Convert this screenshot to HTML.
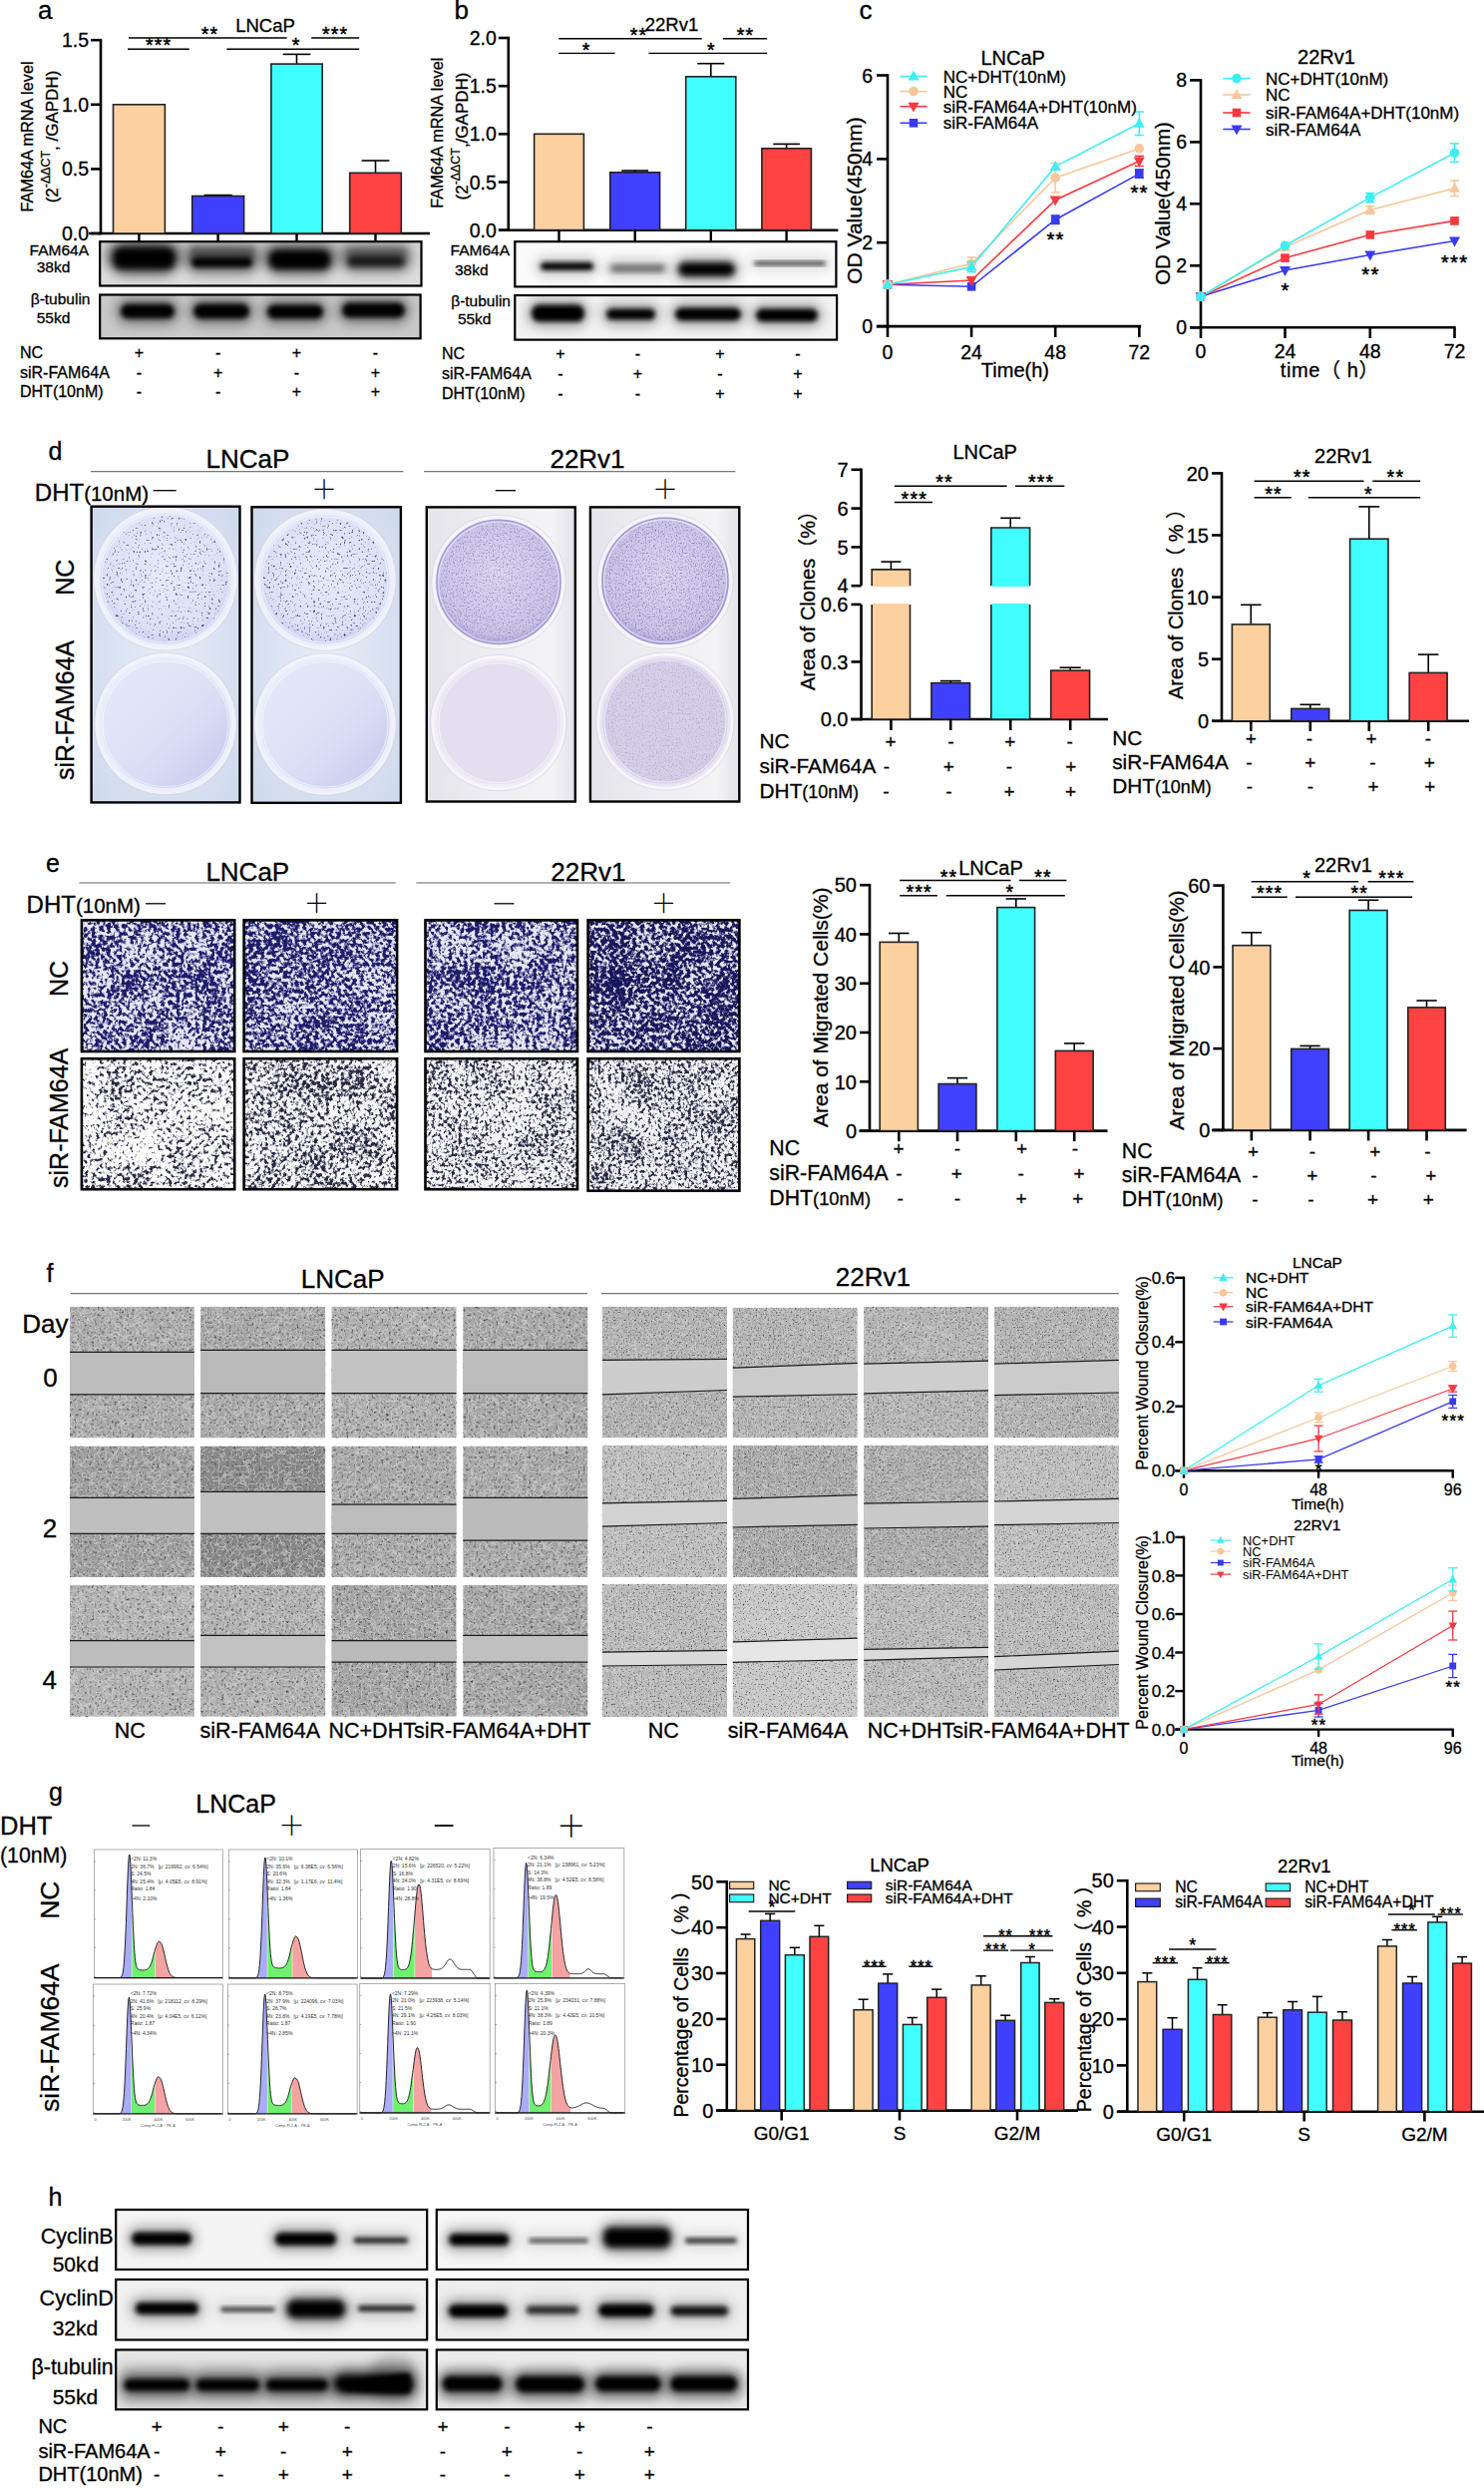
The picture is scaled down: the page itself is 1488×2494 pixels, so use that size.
<!DOCTYPE html>
<html><head><meta charset="utf-8"><title>Figure</title>
<style>
html,body{margin:0;padding:0;background:#fff;}
svg{display:block;}

</style></head><body>
<svg width="1488" height="2494" viewBox="0 0 1488 2494" font-family="'Liberation Sans', Arial, sans-serif">
<defs>
<filter id="bl1" x="-20%" y="-50%" width="140%" height="200%"><feGaussianBlur stdDeviation="1"/></filter>
<filter id="bl2" x="-20%" y="-50%" width="140%" height="200%"><feGaussianBlur stdDeviation="2"/></filter>
<filter id="bl2.5" x="-20%" y="-50%" width="140%" height="200%"><feGaussianBlur stdDeviation="2.5"/></filter>
<filter id="bl3" x="-20%" y="-60%" width="140%" height="220%"><feGaussianBlur stdDeviation="3"/></filter>
<filter id="bl4" x="-30%" y="-80%" width="160%" height="260%"><feGaussianBlur stdDeviation="4"/></filter>
<filter id="bl6" x="-30%" y="-100%" width="160%" height="300%"><feGaussianBlur stdDeviation="6"/></filter>
<clipPath id="bc36"><rect x="100.2" y="242.2" width="322.3" height="44.3"/></clipPath>
<clipPath id="bc51"><rect x="100.2" y="295.5" width="321.4" height="43.8"/></clipPath>
<clipPath id="bc120"><rect x="516.3" y="242.2" width="322.1" height="45.2"/></clipPath>
<clipPath id="bc132"><rect x="516.3" y="296" width="322.8" height="44.6"/></clipPath>
<radialGradient id="lbg" cx="0.5" cy="0.5" r="0.75"><stop offset="0" stop-color="#e6edf8"/><stop offset="1" stop-color="#cdd8ec"/></radialGradient>
<radialGradient id="ltop" cx="0.5" cy="0.45" r="0.55"><stop offset="0" stop-color="#e6eafa"/><stop offset="0.8" stop-color="#dce1f6"/><stop offset="1" stop-color="#ccd1ef"/></radialGradient>
<linearGradient id="lbot" x1="0" y1="0" x2="1" y2="1"><stop offset="0" stop-color="#e6ebfa"/><stop offset="0.55" stop-color="#dce0f6"/><stop offset="1" stop-color="#c4c7ec"/></linearGradient>
<radialGradient id="gtop" cx="0.5" cy="0.45" r="0.55"><stop offset="0" stop-color="#dcd6ef"/><stop offset="0.85" stop-color="#cdc5e8"/><stop offset="1" stop-color="#b2a7dc"/></radialGradient>
<linearGradient id="gbg" x1="0" y1="0" x2="1" y2="0"><stop offset="0" stop-color="#e4e4ea"/><stop offset="0.5" stop-color="#efeff3"/><stop offset="0.85" stop-color="#f4f4f6"/><stop offset="1" stop-color="#e2e2e8"/></linearGradient>
<clipPath id="cr1"><rect x="91.6" y="507.7" width="148.9" height="296.7"/></clipPath>
<filter id="nz2" x="0" y="0" width="1" height="1" color-interpolation-filters="sRGB"><feTurbulence type="fractalNoise" baseFrequency="0.42" numOctaves="2" seed="3"/><feColorMatrix type="matrix" values="0 0 0 0 0.33 0 0 0 0 0.34 0 0 0 0 0.58 7 0 0 0 -4.445"/><feGaussianBlur stdDeviation="0.3"/></filter>
<clipPath id="cc3"><circle cx="166" cy="580" r="63"/></clipPath>
<clipPath id="cr4"><rect x="252.5" y="508.3" width="149.4" height="296.5"/></clipPath>
<filter id="nz5" x="0" y="0" width="1" height="1" color-interpolation-filters="sRGB"><feTurbulence type="fractalNoise" baseFrequency="0.42" numOctaves="2" seed="8"/><feColorMatrix type="matrix" values="0 0 0 0 0.33 0 0 0 0 0.34 0 0 0 0 0.58 7 0 0 0 -4.375"/><feGaussianBlur stdDeviation="0.3"/></filter>
<clipPath id="cc6"><circle cx="326" cy="581" r="62"/></clipPath>
<clipPath id="cr7"><rect x="427.8" y="508.4" width="149" height="295.1"/></clipPath>
<filter id="nz8" x="0" y="0" width="1" height="1" color-interpolation-filters="sRGB"><feTurbulence type="fractalNoise" baseFrequency="0.7" numOctaves="2" seed="5"/><feColorMatrix type="matrix" values="0 0 0 0 0.46 0 0 0 0 0.4 0 0 0 0 0.66 2.3 0 0 0 -1.196"/><feGaussianBlur stdDeviation="0.3"/></filter>
<clipPath id="cc9"><circle cx="500" cy="583.4" r="59.4"/></clipPath>
<clipPath id="cr10"><rect x="591.9" y="508.4" width="149.4" height="295.1"/></clipPath>
<filter id="nz11" x="0" y="0" width="1" height="1" color-interpolation-filters="sRGB"><feTurbulence type="fractalNoise" baseFrequency="0.7" numOctaves="2" seed="11"/><feColorMatrix type="matrix" values="0 0 0 0 0.46 0 0 0 0 0.4 0 0 0 0 0.66 2.3 0 0 0 -1.15"/><feGaussianBlur stdDeviation="0.3"/></filter>
<clipPath id="cc12"><circle cx="667" cy="582.3" r="60.4"/></clipPath>
<filter id="nz13" x="0" y="0" width="1" height="1" color-interpolation-filters="sRGB"><feTurbulence type="fractalNoise" baseFrequency="0.7" numOctaves="2" seed="17"/><feColorMatrix type="matrix" values="0 0 0 0 0.55 0 0 0 0 0.5 0 0 0 0 0.72 1.3 0 0 0 -0.65"/><feGaussianBlur stdDeviation="0.4"/></filter>
<clipPath id="cc14"><circle cx="667" cy="723" r="60"/></clipPath>
<clipPath id="cr15"><rect x="81.9" y="922.4" width="153.3" height="131.6"/></clipPath>
<filter id="tw16" x="0" y="0" width="1" height="1" color-interpolation-filters="sRGB"><feTurbulence type="fractalNoise" baseFrequency="0.26" numOctaves="3" seed="3" result="a0"/><feColorMatrix in="a0" type="matrix" values="1 0 0 0 0 1 0 0 0 0 1 0 0 0 0 0 0 0 0 1" result="a"/><feTurbulence type="fractalNoise" baseFrequency="0.03" numOctaves="2" seed="53" result="b0"/><feColorMatrix in="b0" type="matrix" values="1 0 0 0 0 1 0 0 0 0 1 0 0 0 0 0 0 0 0 1" result="b"/><feComposite in="a" in2="b" operator="arithmetic" k1="0" k2="1" k3="0.3" k4="-0.15" result="s"/><feColorMatrix in="s" type="matrix" values="0 0 0 0 0.11 0 0 0 0 0.11 0 0 0 0 0.42 5.5 0 0 0 -2.282"/></filter>
<clipPath id="cr17"><rect x="244.6" y="922.4" width="153.5" height="131.6"/></clipPath>
<filter id="tw18" x="0" y="0" width="1" height="1" color-interpolation-filters="sRGB"><feTurbulence type="fractalNoise" baseFrequency="0.26" numOctaves="3" seed="7" result="a0"/><feColorMatrix in="a0" type="matrix" values="1 0 0 0 0 1 0 0 0 0 1 0 0 0 0 0 0 0 0 1" result="a"/><feTurbulence type="fractalNoise" baseFrequency="0.03" numOctaves="2" seed="57" result="b0"/><feColorMatrix in="b0" type="matrix" values="1 0 0 0 0 1 0 0 0 0 1 0 0 0 0 0 0 0 0 1" result="b"/><feComposite in="a" in2="b" operator="arithmetic" k1="0" k2="1" k3="0.3" k4="-0.15" result="s"/><feColorMatrix in="s" type="matrix" values="0 0 0 0 0.11 0 0 0 0 0.11 0 0 0 0 0.42 5.5 0 0 0 -2.2"/></filter>
<clipPath id="cr19"><rect x="426.5" y="922.4" width="152.5" height="131.6"/></clipPath>
<filter id="tw20" x="0" y="0" width="1" height="1" color-interpolation-filters="sRGB"><feTurbulence type="fractalNoise" baseFrequency="0.26" numOctaves="3" seed="13" result="a0"/><feColorMatrix in="a0" type="matrix" values="1 0 0 0 0 1 0 0 0 0 1 0 0 0 0 0 0 0 0 1" result="a"/><feTurbulence type="fractalNoise" baseFrequency="0.03" numOctaves="2" seed="63" result="b0"/><feColorMatrix in="b0" type="matrix" values="1 0 0 0 0 1 0 0 0 0 1 0 0 0 0 0 0 0 0 1" result="b"/><feComposite in="a" in2="b" operator="arithmetic" k1="0" k2="1" k3="0.3" k4="-0.15" result="s"/><feColorMatrix in="s" type="matrix" values="0 0 0 0 0.11 0 0 0 0 0.11 0 0 0 0 0.42 5.5 0 0 0 -2.255"/></filter>
<clipPath id="cr21"><rect x="589.6" y="922.4" width="151.8" height="131.6"/></clipPath>
<filter id="tw22" x="0" y="0" width="1" height="1" color-interpolation-filters="sRGB"><feTurbulence type="fractalNoise" baseFrequency="0.26" numOctaves="3" seed="21" result="a0"/><feColorMatrix in="a0" type="matrix" values="1 0 0 0 0 1 0 0 0 0 1 0 0 0 0 0 0 0 0 1" result="a"/><feTurbulence type="fractalNoise" baseFrequency="0.03" numOctaves="2" seed="71" result="b0"/><feColorMatrix in="b0" type="matrix" values="1 0 0 0 0 1 0 0 0 0 1 0 0 0 0 0 0 0 0 1" result="b"/><feComposite in="a" in2="b" operator="arithmetic" k1="0" k2="1" k3="0.3" k4="-0.15" result="s"/><feColorMatrix in="s" type="matrix" values="0 0 0 0 0.09 0 0 0 0 0.09 0 0 0 0 0.36 5.5 0 0 0 -2.035"/></filter>
<clipPath id="cr23"><rect x="81.9" y="1061.2" width="153.3" height="131"/></clipPath>
<filter id="tw24" x="0" y="0" width="1" height="1" color-interpolation-filters="sRGB"><feTurbulence type="fractalNoise" baseFrequency="0.26" numOctaves="3" seed="5" result="a0"/><feColorMatrix in="a0" type="matrix" values="1 0 0 0 0 1 0 0 0 0 1 0 0 0 0 0 0 0 0 1" result="a"/><feTurbulence type="fractalNoise" baseFrequency="0.03" numOctaves="2" seed="55" result="b0"/><feColorMatrix in="b0" type="matrix" values="1 0 0 0 0 1 0 0 0 0 1 0 0 0 0 0 0 0 0 1" result="b"/><feComposite in="a" in2="b" operator="arithmetic" k1="0" k2="1" k3="0.3" k4="-0.15" result="s"/><feColorMatrix in="s" type="matrix" values="0 0 0 0 0.16 0 0 0 0 0.16 0 0 0 0 0.27 5.5 0 0 0 -2.86"/></filter>
<clipPath id="cr25"><rect x="244.6" y="1061.2" width="153.5" height="131"/></clipPath>
<filter id="tw26" x="0" y="0" width="1" height="1" color-interpolation-filters="sRGB"><feTurbulence type="fractalNoise" baseFrequency="0.26" numOctaves="3" seed="9" result="a0"/><feColorMatrix in="a0" type="matrix" values="1 0 0 0 0 1 0 0 0 0 1 0 0 0 0 0 0 0 0 1" result="a"/><feTurbulence type="fractalNoise" baseFrequency="0.03" numOctaves="2" seed="59" result="b0"/><feColorMatrix in="b0" type="matrix" values="1 0 0 0 0 1 0 0 0 0 1 0 0 0 0 0 0 0 0 1" result="b"/><feComposite in="a" in2="b" operator="arithmetic" k1="0" k2="1" k3="0.3" k4="-0.15" result="s"/><feColorMatrix in="s" type="matrix" values="0 0 0 0 0.16 0 0 0 0 0.16 0 0 0 0 0.27 5.5 0 0 0 -2.558"/></filter>
<clipPath id="cr27"><rect x="426.5" y="1061.2" width="152.5" height="131"/></clipPath>
<filter id="tw28" x="0" y="0" width="1" height="1" color-interpolation-filters="sRGB"><feTurbulence type="fractalNoise" baseFrequency="0.3" numOctaves="3" seed="17" result="a0"/><feColorMatrix in="a0" type="matrix" values="1 0 0 0 0 1 0 0 0 0 1 0 0 0 0 0 0 0 0 1" result="a"/><feTurbulence type="fractalNoise" baseFrequency="0.03" numOctaves="2" seed="67" result="b0"/><feColorMatrix in="b0" type="matrix" values="1 0 0 0 0 1 0 0 0 0 1 0 0 0 0 0 0 0 0 1" result="b"/><feComposite in="a" in2="b" operator="arithmetic" k1="0" k2="1" k3="0.3" k4="-0.15" result="s"/><feColorMatrix in="s" type="matrix" values="0 0 0 0 0.16 0 0 0 0 0.16 0 0 0 0 0.27 5.5 0 0 0 -2.667"/></filter>
<clipPath id="cr29"><rect x="589.6" y="1061.2" width="151.8" height="132.5"/></clipPath>
<filter id="tw30" x="0" y="0" width="1" height="1" color-interpolation-filters="sRGB"><feTurbulence type="fractalNoise" baseFrequency="0.3" numOctaves="3" seed="29" result="a0"/><feColorMatrix in="a0" type="matrix" values="1 0 0 0 0 1 0 0 0 0 1 0 0 0 0 0 0 0 0 1" result="a"/><feTurbulence type="fractalNoise" baseFrequency="0.03" numOctaves="2" seed="79" result="b0"/><feColorMatrix in="b0" type="matrix" values="1 0 0 0 0 1 0 0 0 0 1 0 0 0 0 0 0 0 0 1" result="b"/><feComposite in="a" in2="b" operator="arithmetic" k1="0" k2="1" k3="0.3" k4="-0.15" result="s"/><feColorMatrix in="s" type="matrix" values="0 0 0 0 0.16 0 0 0 0 0.16 0 0 0 0 0.27 5.5 0 0 0 -2.612"/></filter>
<clipPath id="cr31"><rect x="70" y="1309.7" width="124.9" height="131.8"/></clipPath>
<filter id="gz32" x="0" y="0" width="1" height="1" color-interpolation-filters="sRGB"><feTurbulence type="fractalNoise" baseFrequency="0.4" numOctaves="2" seed="101" result="t"/><feColorMatrix in="t" type="matrix" values="0 0 0 0 0.3 0 0 0 0 0.3 0 0 0 0 0.3 3.5 0 0 0 -1.96" result="d"/><feTurbulence type="turbulence" baseFrequency="0.168" numOctaves="1" seed="108" result="u"/><feColorMatrix in="u" type="matrix" values="0 0 0 0 0.87 0 0 0 0 0.87 0 0 0 0 0.87 -4.5 0 0 0 0.54" result="l"/><feMerge><feMergeNode in="d"/><feMergeNode in="l"/></feMerge></filter>
<clipPath id="cr33"><rect x="201" y="1309.7" width="125.3" height="131.8"/></clipPath>
<filter id="gz34" x="0" y="0" width="1" height="1" color-interpolation-filters="sRGB"><feTurbulence type="fractalNoise" baseFrequency="0.4" numOctaves="2" seed="102" result="t"/><feColorMatrix in="t" type="matrix" values="0 0 0 0 0.3 0 0 0 0 0.3 0 0 0 0 0.3 3.5 0 0 0 -1.96" result="d"/><feTurbulence type="turbulence" baseFrequency="0.168" numOctaves="1" seed="109" result="u"/><feColorMatrix in="u" type="matrix" values="0 0 0 0 0.87 0 0 0 0 0.87 0 0 0 0 0.87 -4.5 0 0 0 0.54" result="l"/><feMerge><feMergeNode in="d"/><feMergeNode in="l"/></feMerge></filter>
<clipPath id="cr35"><rect x="332.4" y="1309.7" width="125.3" height="131.8"/></clipPath>
<filter id="gz36" x="0" y="0" width="1" height="1" color-interpolation-filters="sRGB"><feTurbulence type="fractalNoise" baseFrequency="0.4" numOctaves="2" seed="103" result="t"/><feColorMatrix in="t" type="matrix" values="0 0 0 0 0.3 0 0 0 0 0.3 0 0 0 0 0.3 3.5 0 0 0 -1.96" result="d"/><feTurbulence type="turbulence" baseFrequency="0.168" numOctaves="1" seed="110" result="u"/><feColorMatrix in="u" type="matrix" values="0 0 0 0 0.87 0 0 0 0 0.87 0 0 0 0 0.87 -4.5 0 0 0 0.54" result="l"/><feMerge><feMergeNode in="d"/><feMergeNode in="l"/></feMerge></filter>
<clipPath id="cr37"><rect x="464.2" y="1309.7" width="125.3" height="131.8"/></clipPath>
<filter id="gz38" x="0" y="0" width="1" height="1" color-interpolation-filters="sRGB"><feTurbulence type="fractalNoise" baseFrequency="0.4" numOctaves="2" seed="104" result="t"/><feColorMatrix in="t" type="matrix" values="0 0 0 0 0.3 0 0 0 0 0.3 0 0 0 0 0.3 3.5 0 0 0 -1.96" result="d"/><feTurbulence type="turbulence" baseFrequency="0.168" numOctaves="1" seed="111" result="u"/><feColorMatrix in="u" type="matrix" values="0 0 0 0 0.87 0 0 0 0 0.87 0 0 0 0 0.87 -4.5 0 0 0 0.54" result="l"/><feMerge><feMergeNode in="d"/><feMergeNode in="l"/></feMerge></filter>
<clipPath id="cr39"><rect x="70" y="1449.6" width="124.9" height="131.4"/></clipPath>
<filter id="gz40" x="0" y="0" width="1" height="1" color-interpolation-filters="sRGB"><feTurbulence type="fractalNoise" baseFrequency="0.4" numOctaves="2" seed="105" result="t"/><feColorMatrix in="t" type="matrix" values="0 0 0 0 0.3 0 0 0 0 0.3 0 0 0 0 0.3 3.5 0 0 0 -1.96" result="d"/><feTurbulence type="turbulence" baseFrequency="0.168" numOctaves="1" seed="112" result="u"/><feColorMatrix in="u" type="matrix" values="0 0 0 0 0.87 0 0 0 0 0.87 0 0 0 0 0.87 -4.5 0 0 0 0.54" result="l"/><feMerge><feMergeNode in="d"/><feMergeNode in="l"/></feMerge></filter>
<clipPath id="cr41"><rect x="201" y="1449.6" width="125.3" height="131.4"/></clipPath>
<filter id="gz42" x="0" y="0" width="1" height="1" color-interpolation-filters="sRGB"><feTurbulence type="fractalNoise" baseFrequency="0.4" numOctaves="2" seed="106" result="t"/><feColorMatrix in="t" type="matrix" values="0 0 0 0 0.3 0 0 0 0 0.3 0 0 0 0 0.3 3.5 0 0 0 -1.96" result="d"/><feTurbulence type="turbulence" baseFrequency="0.168" numOctaves="1" seed="113" result="u"/><feColorMatrix in="u" type="matrix" values="0 0 0 0 0.87 0 0 0 0 0.87 0 0 0 0 0.87 -4.5 0 0 0 0.54" result="l"/><feMerge><feMergeNode in="d"/><feMergeNode in="l"/></feMerge></filter>
<clipPath id="cr43"><rect x="332.4" y="1449.6" width="125.3" height="131.4"/></clipPath>
<filter id="gz44" x="0" y="0" width="1" height="1" color-interpolation-filters="sRGB"><feTurbulence type="fractalNoise" baseFrequency="0.4" numOctaves="2" seed="107" result="t"/><feColorMatrix in="t" type="matrix" values="0 0 0 0 0.3 0 0 0 0 0.3 0 0 0 0 0.3 3.5 0 0 0 -1.96" result="d"/><feTurbulence type="turbulence" baseFrequency="0.168" numOctaves="1" seed="114" result="u"/><feColorMatrix in="u" type="matrix" values="0 0 0 0 0.87 0 0 0 0 0.87 0 0 0 0 0.87 -4.5 0 0 0 0.54" result="l"/><feMerge><feMergeNode in="d"/><feMergeNode in="l"/></feMerge></filter>
<clipPath id="cr45"><rect x="464.2" y="1449.6" width="125.3" height="131.4"/></clipPath>
<filter id="gz46" x="0" y="0" width="1" height="1" color-interpolation-filters="sRGB"><feTurbulence type="fractalNoise" baseFrequency="0.4" numOctaves="2" seed="108" result="t"/><feColorMatrix in="t" type="matrix" values="0 0 0 0 0.3 0 0 0 0 0.3 0 0 0 0 0.3 3.5 0 0 0 -1.96" result="d"/><feTurbulence type="turbulence" baseFrequency="0.168" numOctaves="1" seed="115" result="u"/><feColorMatrix in="u" type="matrix" values="0 0 0 0 0.87 0 0 0 0 0.87 0 0 0 0 0.87 -4.5 0 0 0 0.54" result="l"/><feMerge><feMergeNode in="d"/><feMergeNode in="l"/></feMerge></filter>
<clipPath id="cr47"><rect x="70" y="1589" width="124.9" height="131.7"/></clipPath>
<filter id="gz48" x="0" y="0" width="1" height="1" color-interpolation-filters="sRGB"><feTurbulence type="fractalNoise" baseFrequency="0.4" numOctaves="2" seed="109" result="t"/><feColorMatrix in="t" type="matrix" values="0 0 0 0 0.3 0 0 0 0 0.3 0 0 0 0 0.3 3.5 0 0 0 -1.96" result="d"/><feTurbulence type="turbulence" baseFrequency="0.168" numOctaves="1" seed="116" result="u"/><feColorMatrix in="u" type="matrix" values="0 0 0 0 0.87 0 0 0 0 0.87 0 0 0 0 0.87 -4.5 0 0 0 0.54" result="l"/><feMerge><feMergeNode in="d"/><feMergeNode in="l"/></feMerge></filter>
<clipPath id="cr49"><rect x="201" y="1589" width="125.3" height="131.7"/></clipPath>
<filter id="gz50" x="0" y="0" width="1" height="1" color-interpolation-filters="sRGB"><feTurbulence type="fractalNoise" baseFrequency="0.4" numOctaves="2" seed="110" result="t"/><feColorMatrix in="t" type="matrix" values="0 0 0 0 0.3 0 0 0 0 0.3 0 0 0 0 0.3 3.5 0 0 0 -1.96" result="d"/><feTurbulence type="turbulence" baseFrequency="0.168" numOctaves="1" seed="117" result="u"/><feColorMatrix in="u" type="matrix" values="0 0 0 0 0.87 0 0 0 0 0.87 0 0 0 0 0.87 -4.5 0 0 0 0.54" result="l"/><feMerge><feMergeNode in="d"/><feMergeNode in="l"/></feMerge></filter>
<clipPath id="cr51"><rect x="332.4" y="1589" width="125.3" height="131.7"/></clipPath>
<filter id="gz52" x="0" y="0" width="1" height="1" color-interpolation-filters="sRGB"><feTurbulence type="fractalNoise" baseFrequency="0.4" numOctaves="2" seed="111" result="t"/><feColorMatrix in="t" type="matrix" values="0 0 0 0 0.3 0 0 0 0 0.3 0 0 0 0 0.3 3.5 0 0 0 -1.96" result="d"/><feTurbulence type="turbulence" baseFrequency="0.168" numOctaves="1" seed="118" result="u"/><feColorMatrix in="u" type="matrix" values="0 0 0 0 0.87 0 0 0 0 0.87 0 0 0 0 0.87 -4.5 0 0 0 0.54" result="l"/><feMerge><feMergeNode in="d"/><feMergeNode in="l"/></feMerge></filter>
<clipPath id="cr53"><rect x="464.2" y="1589" width="125.3" height="131.7"/></clipPath>
<filter id="gz54" x="0" y="0" width="1" height="1" color-interpolation-filters="sRGB"><feTurbulence type="fractalNoise" baseFrequency="0.4" numOctaves="2" seed="112" result="t"/><feColorMatrix in="t" type="matrix" values="0 0 0 0 0.3 0 0 0 0 0.3 0 0 0 0 0.3 3.5 0 0 0 -1.96" result="d"/><feTurbulence type="turbulence" baseFrequency="0.168" numOctaves="1" seed="119" result="u"/><feColorMatrix in="u" type="matrix" values="0 0 0 0 0.87 0 0 0 0 0.87 0 0 0 0 0.87 -4.5 0 0 0 0.54" result="l"/><feMerge><feMergeNode in="d"/><feMergeNode in="l"/></feMerge></filter>
<clipPath id="cr55"><rect x="603.7" y="1309.7" width="125.3" height="131.6"/></clipPath>
<filter id="gz56" x="0" y="0" width="1" height="1" color-interpolation-filters="sRGB"><feTurbulence type="fractalNoise" baseFrequency="0.6" numOctaves="2" seed="113" result="t"/><feColorMatrix in="t" type="matrix" values="0 0 0 0 0.3 0 0 0 0 0.3 0 0 0 0 0.3 3.5 0 0 0 -1.96" result="d"/><feTurbulence type="turbulence" baseFrequency="0.252" numOctaves="1" seed="120" result="u"/><feColorMatrix in="u" type="matrix" values="0 0 0 0 0.87 0 0 0 0 0.87 0 0 0 0 0.87 -4.5 0 0 0 0.54" result="l"/><feMerge><feMergeNode in="d"/><feMergeNode in="l"/></feMerge></filter>
<clipPath id="cr57"><rect x="734.6" y="1310.8" width="125.2" height="130.5"/></clipPath>
<filter id="gz58" x="0" y="0" width="1" height="1" color-interpolation-filters="sRGB"><feTurbulence type="fractalNoise" baseFrequency="0.6" numOctaves="2" seed="114" result="t"/><feColorMatrix in="t" type="matrix" values="0 0 0 0 0.3 0 0 0 0 0.3 0 0 0 0 0.3 3.5 0 0 0 -1.96" result="d"/><feTurbulence type="turbulence" baseFrequency="0.252" numOctaves="1" seed="121" result="u"/><feColorMatrix in="u" type="matrix" values="0 0 0 0 0.87 0 0 0 0 0.87 0 0 0 0 0.87 -4.5 0 0 0 0.54" result="l"/><feMerge><feMergeNode in="d"/><feMergeNode in="l"/></feMerge></filter>
<clipPath id="cr59"><rect x="866.1" y="1309.7" width="124.9" height="131.6"/></clipPath>
<filter id="gz60" x="0" y="0" width="1" height="1" color-interpolation-filters="sRGB"><feTurbulence type="fractalNoise" baseFrequency="0.6" numOctaves="2" seed="115" result="t"/><feColorMatrix in="t" type="matrix" values="0 0 0 0 0.3 0 0 0 0 0.3 0 0 0 0 0.3 3.5 0 0 0 -1.96" result="d"/><feTurbulence type="turbulence" baseFrequency="0.252" numOctaves="1" seed="122" result="u"/><feColorMatrix in="u" type="matrix" values="0 0 0 0 0.87 0 0 0 0 0.87 0 0 0 0 0.87 -4.5 0 0 0 0.54" result="l"/><feMerge><feMergeNode in="d"/><feMergeNode in="l"/></feMerge></filter>
<clipPath id="cr61"><rect x="997" y="1309.7" width="124.9" height="131.6"/></clipPath>
<filter id="gz62" x="0" y="0" width="1" height="1" color-interpolation-filters="sRGB"><feTurbulence type="fractalNoise" baseFrequency="0.6" numOctaves="2" seed="116" result="t"/><feColorMatrix in="t" type="matrix" values="0 0 0 0 0.3 0 0 0 0 0.3 0 0 0 0 0.3 3.5 0 0 0 -1.96" result="d"/><feTurbulence type="turbulence" baseFrequency="0.252" numOctaves="1" seed="123" result="u"/><feColorMatrix in="u" type="matrix" values="0 0 0 0 0.87 0 0 0 0 0.87 0 0 0 0 0.87 -4.5 0 0 0 0.54" result="l"/><feMerge><feMergeNode in="d"/><feMergeNode in="l"/></feMerge></filter>
<clipPath id="cr63"><rect x="603.7" y="1448.7" width="125.3" height="132.3"/></clipPath>
<filter id="gz64" x="0" y="0" width="1" height="1" color-interpolation-filters="sRGB"><feTurbulence type="fractalNoise" baseFrequency="0.6" numOctaves="2" seed="117" result="t"/><feColorMatrix in="t" type="matrix" values="0 0 0 0 0.3 0 0 0 0 0.3 0 0 0 0 0.3 3.5 0 0 0 -1.96" result="d"/><feTurbulence type="turbulence" baseFrequency="0.252" numOctaves="1" seed="124" result="u"/><feColorMatrix in="u" type="matrix" values="0 0 0 0 0.87 0 0 0 0 0.87 0 0 0 0 0.87 -4.5 0 0 0 0.54" result="l"/><feMerge><feMergeNode in="d"/><feMergeNode in="l"/></feMerge></filter>
<clipPath id="cr65"><rect x="734.6" y="1448.7" width="125.2" height="132.3"/></clipPath>
<filter id="gz66" x="0" y="0" width="1" height="1" color-interpolation-filters="sRGB"><feTurbulence type="fractalNoise" baseFrequency="0.6" numOctaves="2" seed="118" result="t"/><feColorMatrix in="t" type="matrix" values="0 0 0 0 0.3 0 0 0 0 0.3 0 0 0 0 0.3 3.5 0 0 0 -1.96" result="d"/><feTurbulence type="turbulence" baseFrequency="0.252" numOctaves="1" seed="125" result="u"/><feColorMatrix in="u" type="matrix" values="0 0 0 0 0.87 0 0 0 0 0.87 0 0 0 0 0.87 -4.5 0 0 0 0.54" result="l"/><feMerge><feMergeNode in="d"/><feMergeNode in="l"/></feMerge></filter>
<clipPath id="cr67"><rect x="866.1" y="1448.7" width="124.9" height="132.3"/></clipPath>
<filter id="gz68" x="0" y="0" width="1" height="1" color-interpolation-filters="sRGB"><feTurbulence type="fractalNoise" baseFrequency="0.6" numOctaves="2" seed="119" result="t"/><feColorMatrix in="t" type="matrix" values="0 0 0 0 0.3 0 0 0 0 0.3 0 0 0 0 0.3 3.5 0 0 0 -1.96" result="d"/><feTurbulence type="turbulence" baseFrequency="0.252" numOctaves="1" seed="126" result="u"/><feColorMatrix in="u" type="matrix" values="0 0 0 0 0.87 0 0 0 0 0.87 0 0 0 0 0.87 -4.5 0 0 0 0.54" result="l"/><feMerge><feMergeNode in="d"/><feMergeNode in="l"/></feMerge></filter>
<clipPath id="cr69"><rect x="997" y="1448.7" width="124.9" height="132.3"/></clipPath>
<filter id="gz70" x="0" y="0" width="1" height="1" color-interpolation-filters="sRGB"><feTurbulence type="fractalNoise" baseFrequency="0.6" numOctaves="2" seed="120" result="t"/><feColorMatrix in="t" type="matrix" values="0 0 0 0 0.3 0 0 0 0 0.3 0 0 0 0 0.3 3.5 0 0 0 -1.96" result="d"/><feTurbulence type="turbulence" baseFrequency="0.252" numOctaves="1" seed="127" result="u"/><feColorMatrix in="u" type="matrix" values="0 0 0 0 0.87 0 0 0 0 0.87 0 0 0 0 0.87 -4.5 0 0 0 0.54" result="l"/><feMerge><feMergeNode in="d"/><feMergeNode in="l"/></feMerge></filter>
<clipPath id="cr71"><rect x="603.7" y="1587.7" width="125.3" height="133.4"/></clipPath>
<filter id="gz72" x="0" y="0" width="1" height="1" color-interpolation-filters="sRGB"><feTurbulence type="fractalNoise" baseFrequency="0.6" numOctaves="2" seed="121" result="t"/><feColorMatrix in="t" type="matrix" values="0 0 0 0 0.3 0 0 0 0 0.3 0 0 0 0 0.3 3.5 0 0 0 -1.96" result="d"/><feTurbulence type="turbulence" baseFrequency="0.252" numOctaves="1" seed="128" result="u"/><feColorMatrix in="u" type="matrix" values="0 0 0 0 0.87 0 0 0 0 0.87 0 0 0 0 0.87 -4.5 0 0 0 0.54" result="l"/><feMerge><feMergeNode in="d"/><feMergeNode in="l"/></feMerge></filter>
<clipPath id="cr73"><rect x="734.6" y="1587.7" width="125.2" height="133.4"/></clipPath>
<filter id="gz74" x="0" y="0" width="1" height="1" color-interpolation-filters="sRGB"><feTurbulence type="fractalNoise" baseFrequency="0.6" numOctaves="2" seed="122" result="t"/><feColorMatrix in="t" type="matrix" values="0 0 0 0 0.3 0 0 0 0 0.3 0 0 0 0 0.3 3.5 0 0 0 -1.96" result="d"/><feTurbulence type="turbulence" baseFrequency="0.252" numOctaves="1" seed="129" result="u"/><feColorMatrix in="u" type="matrix" values="0 0 0 0 0.87 0 0 0 0 0.87 0 0 0 0 0.87 -4.5 0 0 0 0.54" result="l"/><feMerge><feMergeNode in="d"/><feMergeNode in="l"/></feMerge></filter>
<clipPath id="cr75"><rect x="866.1" y="1587.7" width="124.9" height="133.4"/></clipPath>
<filter id="gz76" x="0" y="0" width="1" height="1" color-interpolation-filters="sRGB"><feTurbulence type="fractalNoise" baseFrequency="0.6" numOctaves="2" seed="123" result="t"/><feColorMatrix in="t" type="matrix" values="0 0 0 0 0.3 0 0 0 0 0.3 0 0 0 0 0.3 3.5 0 0 0 -1.96" result="d"/><feTurbulence type="turbulence" baseFrequency="0.252" numOctaves="1" seed="130" result="u"/><feColorMatrix in="u" type="matrix" values="0 0 0 0 0.87 0 0 0 0 0.87 0 0 0 0 0.87 -4.5 0 0 0 0.54" result="l"/><feMerge><feMergeNode in="d"/><feMergeNode in="l"/></feMerge></filter>
<clipPath id="cr77"><rect x="997" y="1587.7" width="124.9" height="133.4"/></clipPath>
<filter id="gz78" x="0" y="0" width="1" height="1" color-interpolation-filters="sRGB"><feTurbulence type="fractalNoise" baseFrequency="0.6" numOctaves="2" seed="124" result="t"/><feColorMatrix in="t" type="matrix" values="0 0 0 0 0.3 0 0 0 0 0.3 0 0 0 0 0.3 3.5 0 0 0 -1.96" result="d"/><feTurbulence type="turbulence" baseFrequency="0.252" numOctaves="1" seed="131" result="u"/><feColorMatrix in="u" type="matrix" values="0 0 0 0 0.87 0 0 0 0 0.87 0 0 0 0 0.87 -4.5 0 0 0 0.54" result="l"/><feMerge><feMergeNode in="d"/><feMergeNode in="l"/></feMerge></filter>
<clipPath id="bc1305"><rect x="116.2" y="2215" width="312" height="60"/></clipPath>
<clipPath id="bc1315"><rect x="437.8" y="2215" width="312.2" height="60"/></clipPath>
<clipPath id="bc1327"><rect x="116.2" y="2285" width="312" height="60.5"/></clipPath>
<clipPath id="bc1339"><rect x="437.8" y="2285" width="312.2" height="60.5"/></clipPath>
<clipPath id="bc1351"><rect x="116.2" y="2355.5" width="312" height="59.8"/></clipPath>
<clipPath id="bc1366"><rect x="437.8" y="2355.5" width="312.2" height="59.8"/></clipPath></defs>
<rect width="1488" height="2494" fill="#fff"/>
<text x="38" y="19" font-size="26" stroke="#000" stroke-width="0.3">a</text>
<text x="266" y="32" font-size="18.5" text-anchor="middle" stroke="#000" stroke-width="0.3">LNCaP</text>
<line x1="101" y1="38.9" x2="101" y2="235.3" stroke="#000" stroke-width="2.6"/>
<line x1="91" y1="40.2" x2="101" y2="40.2" stroke="#000" stroke-width="2.6"/>
<text x="89" y="47.2" font-size="19.5" text-anchor="end" stroke="#000" stroke-width="0.3">1.5</text>
<line x1="91" y1="104.8" x2="101" y2="104.8" stroke="#000" stroke-width="2.6"/>
<text x="89" y="111.8" font-size="19.5" text-anchor="end" stroke="#000" stroke-width="0.3">1.0</text>
<line x1="91" y1="169.4" x2="101" y2="169.4" stroke="#000" stroke-width="2.6"/>
<text x="89" y="176.4" font-size="19.5" text-anchor="end" stroke="#000" stroke-width="0.3">0.5</text>
<line x1="91" y1="234" x2="101" y2="234" stroke="#000" stroke-width="2.6"/>
<text x="89" y="241" font-size="19.5" text-anchor="end" stroke="#000" stroke-width="0.3">0.0</text>
<line x1="89" y1="234" x2="431" y2="234" stroke="#000" stroke-width="2.6"/>
<rect x="113.5" y="104.8" width="51.9" height="129.2" fill="#FDD19F" stroke="#222" stroke-width="1.6"/>
<line x1="139.4" y1="234" x2="139.4" y2="242" stroke="#000" stroke-width="2.4"/>
<line x1="218.6" y1="196.5" x2="218.6" y2="195.6" stroke="#000" stroke-width="1.6"/>
<line x1="204.6" y1="195.6" x2="232.7" y2="195.6" stroke="#000" stroke-width="1.6"/>
<rect x="192.7" y="196.5" width="51.9" height="37.5" fill="#4040FF" stroke="#222" stroke-width="1.6"/>
<line x1="218.6" y1="234" x2="218.6" y2="242" stroke="#000" stroke-width="2.4"/>
<line x1="297.5" y1="64.1" x2="297.5" y2="54.4" stroke="#000" stroke-width="1.6"/>
<line x1="283.7" y1="54.4" x2="311.4" y2="54.4" stroke="#000" stroke-width="1.6"/>
<rect x="271.9" y="64.1" width="51.3" height="169.9" fill="#42FFFF" stroke="#222" stroke-width="1.6"/>
<line x1="297.5" y1="234" x2="297.5" y2="242" stroke="#000" stroke-width="2.4"/>
<line x1="376.5" y1="173.3" x2="376.5" y2="161" stroke="#000" stroke-width="1.6"/>
<line x1="362.6" y1="161" x2="390.4" y2="161" stroke="#000" stroke-width="1.6"/>
<rect x="350.7" y="173.3" width="51.6" height="60.7" fill="#FF4242" stroke="#222" stroke-width="1.6"/>
<line x1="376.5" y1="234" x2="376.5" y2="242" stroke="#000" stroke-width="2.4"/>
<line x1="129" y1="38" x2="287.6" y2="38" stroke="#000" stroke-width="1.4"/>
<text x="210.5" y="41.1" font-size="19.5" text-anchor="middle" letter-spacing="1.2" stroke="#000" stroke-width="0.45">**</text>
<line x1="312.2" y1="38" x2="360.2" y2="38" stroke="#000" stroke-width="1.4"/>
<text x="336.2" y="41.1" font-size="19.5" text-anchor="middle" letter-spacing="1.2" stroke="#000" stroke-width="0.45">***</text>
<line x1="128" y1="49.2" x2="189.7" y2="49.2" stroke="#000" stroke-width="1.4"/>
<text x="159.2" y="52.3" font-size="19.5" text-anchor="middle" letter-spacing="1.2" stroke="#000" stroke-width="0.45">***</text>
<line x1="227.4" y1="49.2" x2="360.2" y2="49.2" stroke="#000" stroke-width="1.4"/>
<text x="297.1" y="52.3" font-size="19.5" text-anchor="middle" letter-spacing="1.2" stroke="#000" stroke-width="0.45">*</text>
<text x="33" y="137" font-size="16.3" text-anchor="middle" transform="rotate(-90 33 137)" stroke="#000" stroke-width="0.3">FAM64A mRNA level</text>
<text x="57.8" y="137" font-size="17" text-anchor="middle" transform="rotate(-90 57.8 137)" stroke="#000" stroke-width="0.3">(2<tspan font-size="12.4" dy="-7.5">-&#916;&#916;CT</tspan><tspan dy="7.5">, /GAPDH)</tspan></text>
<g clip-path="url(#bc36)">
<rect x="100.2" y="242.2" width="322.3" height="44.3" fill="#dcdcdc"/>
<rect x="105" y="243" width="310" height="22" fill="#000" fill-opacity="0.22" filter="url(#bl6)"/>
<rect x="190" y="246" width="66" height="14" fill="#000" fill-opacity="0.35" filter="url(#bl3)"/>
<rect x="346" y="246" width="62" height="12" fill="#000" fill-opacity="0.25" filter="url(#bl3)"/>
<rect x="109" y="242.5" width="71" height="33" rx="16.5" fill="#000" fill-opacity="0.6" filter="url(#bl6)"/>
<rect x="114" y="248.5" width="61" height="21" rx="8" fill="#000" fill-opacity="1" filter="url(#bl3)"/>
<rect x="187" y="252" width="71" height="22" rx="11" fill="#000" fill-opacity="0.5" filter="url(#bl6)"/>
<rect x="192" y="258" width="61" height="10" rx="5" fill="#000" fill-opacity="1" filter="url(#bl2.5)"/>
<rect x="265" y="245" width="71" height="31" rx="15.5" fill="#000" fill-opacity="0.5" filter="url(#bl6)"/>
<rect x="270" y="251" width="61" height="19" rx="8" fill="#000" fill-opacity="1" filter="url(#bl3)"/>
<rect x="343" y="250.5" width="68" height="23" rx="11.5" fill="#000" fill-opacity="0.4" filter="url(#bl6)"/>
<rect x="348" y="256.5" width="58" height="11" rx="5.5" fill="#000" fill-opacity="0.8" filter="url(#bl3)"/>
</g>
<rect x="100.2" y="242.2" width="322.3" height="44.3" fill="none" stroke="#000" stroke-width="2.2"/>
<g clip-path="url(#bc51)">
<rect x="100.2" y="295.5" width="321.4" height="43.8" fill="#c9c9c9"/>
<rect x="116" y="298.8" width="64" height="26.5" rx="13.2" fill="#000" fill-opacity="0.4" filter="url(#bl6)"/>
<rect x="121" y="304.8" width="54" height="14.5" rx="7.2" fill="#000" fill-opacity="1" filter="url(#bl2.5)"/>
<rect x="189" y="298.5" width="66" height="27" rx="13.5" fill="#000" fill-opacity="0.4" filter="url(#bl6)"/>
<rect x="194" y="304.5" width="56" height="15" rx="7.5" fill="#000" fill-opacity="1" filter="url(#bl2.5)"/>
<rect x="263" y="299.5" width="66" height="26" rx="13" fill="#000" fill-opacity="0.4" filter="url(#bl6)"/>
<rect x="268" y="305.5" width="56" height="14" rx="7" fill="#000" fill-opacity="1" filter="url(#bl2.5)"/>
<rect x="338" y="297.5" width="73" height="27" rx="13.5" fill="#000" fill-opacity="0.4" filter="url(#bl6)"/>
<rect x="343" y="303.5" width="63" height="15" rx="7.5" fill="#000" fill-opacity="1" filter="url(#bl2.5)"/>
</g>
<rect x="100.2" y="295.5" width="321.4" height="43.8" fill="none" stroke="#000" stroke-width="2.2"/>
<text x="89" y="256.4" font-size="15.5" text-anchor="end" stroke="#000" stroke-width="0.3">FAM64A</text>
<text x="53.5" y="273.3" font-size="15.5" text-anchor="middle" stroke="#000" stroke-width="0.3">38kd</text>
<text x="90.5" y="305.4" font-size="15.5" text-anchor="end" stroke="#000" stroke-width="0.3">&#946;-tubulin</text>
<text x="53.5" y="324" font-size="15.5" text-anchor="middle" stroke="#000" stroke-width="0.3">55kd</text>
<text x="20" y="358.7" font-size="16" stroke="#000" stroke-width="0.3">NC</text>
<text x="20" y="378.9" font-size="16" stroke="#000" stroke-width="0.3">siR-FAM64A</text>
<text x="20" y="398.2" font-size="16" stroke="#000" stroke-width="0.3">DHT(10nM)</text>
<text x="139.5" y="358.7" font-size="16" text-anchor="middle" stroke="#000" stroke-width="0.3">+</text>
<text x="218.6" y="358.7" font-size="16" text-anchor="middle" stroke="#000" stroke-width="0.3">-</text>
<text x="297.5" y="358.7" font-size="16" text-anchor="middle" stroke="#000" stroke-width="0.3">+</text>
<text x="376.5" y="358.7" font-size="16" text-anchor="middle" stroke="#000" stroke-width="0.3">-</text>
<text x="139.5" y="378.9" font-size="16" text-anchor="middle" stroke="#000" stroke-width="0.3">-</text>
<text x="218.6" y="378.9" font-size="16" text-anchor="middle" stroke="#000" stroke-width="0.3">+</text>
<text x="297.5" y="378.9" font-size="16" text-anchor="middle" stroke="#000" stroke-width="0.3">-</text>
<text x="376.5" y="378.9" font-size="16" text-anchor="middle" stroke="#000" stroke-width="0.3">+</text>
<text x="139.5" y="398.2" font-size="16" text-anchor="middle" stroke="#000" stroke-width="0.3">-</text>
<text x="218.6" y="398.2" font-size="16" text-anchor="middle" stroke="#000" stroke-width="0.3">-</text>
<text x="297.5" y="398.2" font-size="16" text-anchor="middle" stroke="#000" stroke-width="0.3">+</text>
<text x="376.5" y="398.2" font-size="16" text-anchor="middle" stroke="#000" stroke-width="0.3">+</text>
<text x="455.6" y="19.3" font-size="26" stroke="#000" stroke-width="0.3">b</text>
<text x="673.5" y="30.5" font-size="18.5" text-anchor="middle" stroke="#000" stroke-width="0.3">22Rv1</text>
<line x1="509.8" y1="36.7" x2="509.8" y2="232" stroke="#000" stroke-width="2.6"/>
<line x1="499.8" y1="38" x2="509.8" y2="38" stroke="#000" stroke-width="2.6"/>
<text x="497.8" y="45" font-size="19.5" text-anchor="end" stroke="#000" stroke-width="0.3">2.0</text>
<line x1="499.8" y1="86.2" x2="509.8" y2="86.2" stroke="#000" stroke-width="2.6"/>
<text x="497.8" y="93.2" font-size="19.5" text-anchor="end" stroke="#000" stroke-width="0.3">1.5</text>
<line x1="499.8" y1="134.3" x2="509.8" y2="134.3" stroke="#000" stroke-width="2.6"/>
<text x="497.8" y="141.4" font-size="19.5" text-anchor="end" stroke="#000" stroke-width="0.3">1.0</text>
<line x1="499.8" y1="182.5" x2="509.8" y2="182.5" stroke="#000" stroke-width="2.6"/>
<text x="497.8" y="189.5" font-size="19.5" text-anchor="end" stroke="#000" stroke-width="0.3">0.5</text>
<line x1="499.8" y1="230.7" x2="509.8" y2="230.7" stroke="#000" stroke-width="2.6"/>
<text x="497.8" y="237.7" font-size="19.5" text-anchor="end" stroke="#000" stroke-width="0.3">0.0</text>
<line x1="500" y1="230.7" x2="840.4" y2="230.7" stroke="#000" stroke-width="2.6"/>
<rect x="535.6" y="134.3" width="49.8" height="96.3" fill="#FDD19F" stroke="#222" stroke-width="1.6"/>
<line x1="560.5" y1="230.7" x2="560.5" y2="242" stroke="#000" stroke-width="2.4"/>
<line x1="636.7" y1="172.8" x2="636.7" y2="171" stroke="#000" stroke-width="1.6"/>
<line x1="623.3" y1="171" x2="650.1" y2="171" stroke="#000" stroke-width="1.6"/>
<rect x="611.8" y="172.8" width="49.8" height="57.9" fill="#4040FF" stroke="#222" stroke-width="1.6"/>
<line x1="636.7" y1="230.7" x2="636.7" y2="242" stroke="#000" stroke-width="2.4"/>
<line x1="712.8" y1="76.8" x2="712.8" y2="63.7" stroke="#000" stroke-width="1.6"/>
<line x1="699.2" y1="63.7" x2="726.3" y2="63.7" stroke="#000" stroke-width="1.6"/>
<rect x="687.7" y="76.8" width="50.1" height="153.9" fill="#42FFFF" stroke="#222" stroke-width="1.6"/>
<line x1="712.8" y1="230.7" x2="712.8" y2="242" stroke="#000" stroke-width="2.4"/>
<line x1="788.6" y1="148.8" x2="788.6" y2="144.4" stroke="#000" stroke-width="1.6"/>
<line x1="775.3" y1="144.4" x2="802" y2="144.4" stroke="#000" stroke-width="1.6"/>
<rect x="763.9" y="148.8" width="49.5" height="81.9" fill="#FF4242" stroke="#222" stroke-width="1.6"/>
<line x1="788.6" y1="230.7" x2="788.6" y2="242" stroke="#000" stroke-width="2.4"/>
<line x1="560.2" y1="38.8" x2="703.7" y2="38.8" stroke="#000" stroke-width="1.4"/>
<text x="640.6" y="41.9" font-size="19.5" text-anchor="middle" letter-spacing="1.2" stroke="#000" stroke-width="0.45">**</text>
<line x1="724.8" y1="38.8" x2="769.2" y2="38.8" stroke="#000" stroke-width="1.4"/>
<text x="747.6" y="41.9" font-size="19.5" text-anchor="middle" letter-spacing="1.2" stroke="#000" stroke-width="0.45">**</text>
<line x1="560.2" y1="53.4" x2="616.6" y2="53.4" stroke="#000" stroke-width="1.4"/>
<text x="588.1" y="56.5" font-size="19.5" text-anchor="middle" letter-spacing="1.2" stroke="#000" stroke-width="0.45">*</text>
<line x1="650.4" y1="53.4" x2="769.2" y2="53.4" stroke="#000" stroke-width="1.4"/>
<text x="713.5" y="56.5" font-size="19.5" text-anchor="middle" letter-spacing="1.2" stroke="#000" stroke-width="0.45">*</text>
<text x="443.8" y="133.2" font-size="16.3" text-anchor="middle" transform="rotate(-90 443.8 133.2)" stroke="#000" stroke-width="0.3">FAM64A mRNA level</text>
<text x="468.7" y="136.5" font-size="17" text-anchor="middle" transform="rotate(-90 468.7 136.5)" stroke="#000" stroke-width="0.3">(2<tspan font-size="12.4" dy="-7.5">-&#916;&#916;CT</tspan><tspan dy="7.5">,/GAPDH)</tspan></text>
<g clip-path="url(#bc120)">
<rect x="516.3" y="242.2" width="322.1" height="45.2" fill="#fbfbfb"/>
<rect x="537" y="257" width="63" height="20" rx="10" fill="#000" fill-opacity="0.2" filter="url(#bl6)"/>
<rect x="542" y="263" width="53" height="8" rx="4" fill="#000" fill-opacity="1" filter="url(#bl2.5)"/>
<rect x="607" y="260" width="65" height="18" rx="9" fill="#000" fill-opacity="0.2" filter="url(#bl6)"/>
<rect x="612" y="266" width="55" height="6" rx="3" fill="#000" fill-opacity="0.6" filter="url(#bl3)"/>
<rect x="675" y="257" width="67" height="26" rx="13" fill="#000" fill-opacity="0.3" filter="url(#bl6)"/>
<rect x="680" y="263" width="57" height="14" rx="7" fill="#000" fill-opacity="1" filter="url(#bl3)"/>
<rect x="751" y="256" width="82" height="16" rx="8" fill="#000" fill-opacity="0.1" filter="url(#bl6)"/>
<rect x="756" y="262" width="72" height="4" rx="2" fill="#000" fill-opacity="0.8" filter="url(#bl2.5)"/>
</g>
<rect x="516.3" y="242.2" width="322.1" height="45.2" fill="none" stroke="#000" stroke-width="2.2"/>
<g clip-path="url(#bc132)">
<rect x="516.3" y="296" width="322.8" height="44.6" fill="#f3f3f3"/>
<rect x="528" y="299.5" width="63" height="29" rx="14.5" fill="#000" fill-opacity="0.3" filter="url(#bl6)"/>
<rect x="533" y="305.5" width="53" height="17" rx="8" fill="#000" fill-opacity="1" filter="url(#bl2.5)"/>
<rect x="603" y="303.5" width="59" height="23" rx="11.5" fill="#000" fill-opacity="0.3" filter="url(#bl6)"/>
<rect x="608" y="309.5" width="49" height="11" rx="5.5" fill="#000" fill-opacity="1" filter="url(#bl2.5)"/>
<rect x="672" y="302.5" width="76" height="25" rx="12.5" fill="#000" fill-opacity="0.3" filter="url(#bl6)"/>
<rect x="677" y="308.5" width="66" height="13" rx="6.5" fill="#000" fill-opacity="1" filter="url(#bl2.5)"/>
<rect x="753" y="303.5" width="72" height="25" rx="12.5" fill="#000" fill-opacity="0.3" filter="url(#bl6)"/>
<rect x="758" y="309.5" width="62" height="13" rx="6.5" fill="#000" fill-opacity="1" filter="url(#bl2.5)"/>
</g>
<rect x="516.3" y="296" width="322.8" height="44.6" fill="none" stroke="#000" stroke-width="2.2"/>
<text x="511" y="256.4" font-size="15.5" text-anchor="end" stroke="#000" stroke-width="0.3">FAM64A</text>
<text x="472.8" y="275.7" font-size="15.5" text-anchor="middle" stroke="#000" stroke-width="0.3">38kd</text>
<text x="512" y="306.8" font-size="15.5" text-anchor="end" stroke="#000" stroke-width="0.3">&#946;-tubulin</text>
<text x="475.7" y="325.2" font-size="15.5" text-anchor="middle" stroke="#000" stroke-width="0.3">55kd</text>
<text x="443" y="360.2" font-size="16" stroke="#000" stroke-width="0.3">NC</text>
<text x="443" y="380.4" font-size="16" stroke="#000" stroke-width="0.3">siR-FAM64A</text>
<text x="443" y="400.2" font-size="16" stroke="#000" stroke-width="0.3">DHT(10nM)</text>
<text x="562" y="360.2" font-size="16" text-anchor="middle" stroke="#000" stroke-width="0.3">+</text>
<text x="639.4" y="360.2" font-size="16" text-anchor="middle" stroke="#000" stroke-width="0.3">-</text>
<text x="722" y="360.2" font-size="16" text-anchor="middle" stroke="#000" stroke-width="0.3">+</text>
<text x="800" y="360.2" font-size="16" text-anchor="middle" stroke="#000" stroke-width="0.3">-</text>
<text x="562" y="380.4" font-size="16" text-anchor="middle" stroke="#000" stroke-width="0.3">-</text>
<text x="639.4" y="380.4" font-size="16" text-anchor="middle" stroke="#000" stroke-width="0.3">+</text>
<text x="722" y="380.4" font-size="16" text-anchor="middle" stroke="#000" stroke-width="0.3">-</text>
<text x="800" y="380.4" font-size="16" text-anchor="middle" stroke="#000" stroke-width="0.3">+</text>
<text x="562" y="400.2" font-size="16" text-anchor="middle" stroke="#000" stroke-width="0.3">-</text>
<text x="639.4" y="400.2" font-size="16" text-anchor="middle" stroke="#000" stroke-width="0.3">-</text>
<text x="722" y="400.2" font-size="16" text-anchor="middle" stroke="#000" stroke-width="0.3">+</text>
<text x="800" y="400.2" font-size="16" text-anchor="middle" stroke="#000" stroke-width="0.3">+</text>
<text x="861.6" y="19.4" font-size="26" stroke="#000" stroke-width="0.3">c</text>
<line x1="890" y1="74.2" x2="890" y2="328.4" stroke="#000" stroke-width="2.6"/>
<line x1="879" y1="75.5" x2="890" y2="75.5" stroke="#000" stroke-width="2.6"/>
<text x="875" y="82.5" font-size="19.5" text-anchor="end" stroke="#000" stroke-width="0.3">6</text>
<line x1="879" y1="159.4" x2="890" y2="159.4" stroke="#000" stroke-width="2.6"/>
<text x="875" y="166.4" font-size="19.5" text-anchor="end" stroke="#000" stroke-width="0.3">4</text>
<line x1="879" y1="243.2" x2="890" y2="243.2" stroke="#000" stroke-width="2.6"/>
<text x="875" y="250.3" font-size="19.5" text-anchor="end" stroke="#000" stroke-width="0.3">2</text>
<line x1="879" y1="327.1" x2="890" y2="327.1" stroke="#000" stroke-width="2.6"/>
<text x="875" y="334.1" font-size="19.5" text-anchor="end" stroke="#000" stroke-width="0.3">0</text>
<line x1="878.8" y1="327.1" x2="1144.2" y2="327.1" stroke="#000" stroke-width="2.6"/>
<line x1="890" y1="327.1" x2="890" y2="338" stroke="#000" stroke-width="2.6"/>
<text x="890" y="360" font-size="19.5" text-anchor="middle" stroke="#000" stroke-width="0.3">0</text>
<line x1="974.1" y1="327.1" x2="974.1" y2="338" stroke="#000" stroke-width="2.6"/>
<text x="974.1" y="360" font-size="19.5" text-anchor="middle" stroke="#000" stroke-width="0.3">24</text>
<line x1="1058.2" y1="327.1" x2="1058.2" y2="338" stroke="#000" stroke-width="2.6"/>
<text x="1058.2" y="360" font-size="19.5" text-anchor="middle" stroke="#000" stroke-width="0.3">48</text>
<line x1="1142.3" y1="327.1" x2="1142.3" y2="338" stroke="#000" stroke-width="2.6"/>
<text x="1142.3" y="360" font-size="19.5" text-anchor="middle" stroke="#000" stroke-width="0.3">72</text>
<text x="1017.9" y="378.4" font-size="20" text-anchor="middle" stroke="#000" stroke-width="0.3">Time(h)</text>
<text x="1015.7" y="64.7" font-size="20" text-anchor="middle" stroke="#000" stroke-width="0.3">LNCaP</text>
<text x="863.6" y="201" font-size="21" text-anchor="middle" transform="rotate(-90 863.6 201)" stroke="#000" stroke-width="0.3">OD Value(450nm)</text>
<polyline points="890,285.2 974.1,287.3 1058.2,220.2 1142.3,174.1" fill="none" stroke="#3A3AF0" stroke-width="1.6"/>
<polyline points="890,285.2 974.1,281 1058.2,200.5 1142.3,161.5" fill="none" stroke="#F43A3F" stroke-width="1.6"/>
<polyline points="890,285.2 974.1,264.2 1058.2,178.2 1142.3,148.9" fill="none" stroke="#F8C79A" stroke-width="1.6"/>
<polyline points="890,285.2 974.1,267.6 1058.2,166.9 1142.3,123.7" fill="none" stroke="#3DEFF2" stroke-width="1.6"/>
<rect x="885.7" y="280.9" width="8.6" height="8.6" fill="#3A3AF0"/>
<rect x="969.8" y="283" width="8.6" height="8.6" fill="#3A3AF0"/>
<line x1="1058.2" y1="216" x2="1058.2" y2="224.4" stroke="#3A3AF0" stroke-width="1.6"/>
<line x1="1053.7" y1="216" x2="1062.7" y2="216" stroke="#3A3AF0" stroke-width="1.6"/>
<line x1="1053.7" y1="224.4" x2="1062.7" y2="224.4" stroke="#3A3AF0" stroke-width="1.6"/>
<rect x="1053.9" y="215.9" width="8.6" height="8.6" fill="#3A3AF0"/>
<line x1="1142.3" y1="169.9" x2="1142.3" y2="178.2" stroke="#3A3AF0" stroke-width="1.6"/>
<line x1="1137.8" y1="169.9" x2="1146.8" y2="169.9" stroke="#3A3AF0" stroke-width="1.6"/>
<line x1="1137.8" y1="178.2" x2="1146.8" y2="178.2" stroke="#3A3AF0" stroke-width="1.6"/>
<rect x="1138" y="169.8" width="8.6" height="8.6" fill="#3A3AF0"/>
<path d="M890 291.1L895.5 281.2L884.5 281.2Z" fill="#F43A3F"/>
<path d="M974.1 286.9L979.6 277L968.6 277Z" fill="#F43A3F"/>
<path d="M1058.2 206.4L1063.7 196.5L1052.7 196.5Z" fill="#F43A3F"/>
<line x1="1142.3" y1="156.4" x2="1142.3" y2="166.5" stroke="#F43A3F" stroke-width="1.6"/>
<line x1="1137.8" y1="156.4" x2="1146.8" y2="156.4" stroke="#F43A3F" stroke-width="1.6"/>
<line x1="1137.8" y1="166.5" x2="1146.8" y2="166.5" stroke="#F43A3F" stroke-width="1.6"/>
<path d="M1142.3 167.4L1147.8 157.5L1136.8 157.5Z" fill="#F43A3F"/>
<circle cx="890" cy="285.2" r="4.8" fill="#F8C79A"/>
<line x1="974.1" y1="257.9" x2="974.1" y2="270.5" stroke="#F8C79A" stroke-width="1.6"/>
<line x1="969.6" y1="257.9" x2="978.6" y2="257.9" stroke="#F8C79A" stroke-width="1.6"/>
<line x1="969.6" y1="270.5" x2="978.6" y2="270.5" stroke="#F8C79A" stroke-width="1.6"/>
<circle cx="974.1" cy="264.2" r="4.8" fill="#F8C79A"/>
<line x1="1058.2" y1="163.6" x2="1058.2" y2="192.9" stroke="#F8C79A" stroke-width="1.6"/>
<line x1="1053.7" y1="163.6" x2="1062.7" y2="163.6" stroke="#F8C79A" stroke-width="1.6"/>
<line x1="1053.7" y1="192.9" x2="1062.7" y2="192.9" stroke="#F8C79A" stroke-width="1.6"/>
<circle cx="1058.2" cy="178.2" r="4.8" fill="#F8C79A"/>
<circle cx="1142.3" cy="148.9" r="4.8" fill="#F8C79A"/>
<path d="M890 279.3L895.5 289.2L884.5 289.2Z" fill="#3DEFF2"/>
<line x1="974.1" y1="262.5" x2="974.1" y2="272.6" stroke="#3DEFF2" stroke-width="1.6"/>
<line x1="969.6" y1="262.5" x2="978.6" y2="262.5" stroke="#3DEFF2" stroke-width="1.6"/>
<line x1="969.6" y1="272.6" x2="978.6" y2="272.6" stroke="#3DEFF2" stroke-width="1.6"/>
<path d="M974.1 261.7L979.6 271.5L968.6 271.5Z" fill="#3DEFF2"/>
<path d="M1058.2 161L1063.7 170.9L1052.7 170.9Z" fill="#3DEFF2"/>
<line x1="1142.3" y1="112" x2="1142.3" y2="135.5" stroke="#3DEFF2" stroke-width="1.6"/>
<line x1="1137.8" y1="112" x2="1146.8" y2="112" stroke="#3DEFF2" stroke-width="1.6"/>
<line x1="1137.8" y1="135.5" x2="1146.8" y2="135.5" stroke="#3DEFF2" stroke-width="1.6"/>
<path d="M1142.3 117.8L1147.8 127.7L1136.8 127.7Z" fill="#3DEFF2"/>
<text x="1058.6" y="246.7" font-size="20.5" text-anchor="middle" letter-spacing="1.2" stroke="#000" stroke-width="0.45">**</text>
<text x="1142.6" y="200.4" font-size="20.5" text-anchor="middle" letter-spacing="1.2" stroke="#000" stroke-width="0.45">**</text>
<line x1="902.5" y1="76.5" x2="929.5" y2="76.5" stroke="#3DEFF2" stroke-width="1.6"/>
<path d="M916 70.6L921.5 80.5L910.5 80.5Z" fill="#3DEFF2"/>
<text x="945.7" y="82.6" font-size="17" stroke="#000" stroke-width="0.3">NC+DHT(10nM)</text>
<line x1="902.5" y1="91.6" x2="929.5" y2="91.6" stroke="#F8C79A" stroke-width="1.6"/>
<circle cx="916" cy="91.6" r="4.8" fill="#F8C79A"/>
<text x="945.7" y="97.7" font-size="17" stroke="#000" stroke-width="0.3">NC</text>
<line x1="902.5" y1="106.7" x2="929.5" y2="106.7" stroke="#F43A3F" stroke-width="1.6"/>
<path d="M916 112.6L921.5 102.7L910.5 102.7Z" fill="#F43A3F"/>
<text x="945.7" y="112.8" font-size="17" stroke="#000" stroke-width="0.3">siR-FAM64A+DHT(10nM)</text>
<line x1="902.5" y1="123.3" x2="929.5" y2="123.3" stroke="#3A3AF0" stroke-width="1.6"/>
<rect x="911.7" y="119" width="8.6" height="8.6" fill="#3A3AF0"/>
<text x="945.7" y="129.4" font-size="17" stroke="#000" stroke-width="0.3">siR-FAM64A</text>
<line x1="1204" y1="79.1" x2="1204" y2="329.6" stroke="#000" stroke-width="2.6"/>
<line x1="1193" y1="80.4" x2="1204" y2="80.4" stroke="#000" stroke-width="2.6"/>
<text x="1190" y="87.4" font-size="19.5" text-anchor="end" stroke="#000" stroke-width="0.3">8</text>
<line x1="1193" y1="142.4" x2="1204" y2="142.4" stroke="#000" stroke-width="2.6"/>
<text x="1190" y="149.4" font-size="19.5" text-anchor="end" stroke="#000" stroke-width="0.3">6</text>
<line x1="1193" y1="204.3" x2="1204" y2="204.3" stroke="#000" stroke-width="2.6"/>
<text x="1190" y="211.4" font-size="19.5" text-anchor="end" stroke="#000" stroke-width="0.3">4</text>
<line x1="1193" y1="266.3" x2="1204" y2="266.3" stroke="#000" stroke-width="2.6"/>
<text x="1190" y="273.3" font-size="19.5" text-anchor="end" stroke="#000" stroke-width="0.3">2</text>
<line x1="1193" y1="328.3" x2="1204" y2="328.3" stroke="#000" stroke-width="2.6"/>
<text x="1190" y="335.3" font-size="19.5" text-anchor="end" stroke="#000" stroke-width="0.3">0</text>
<line x1="1193.5" y1="328.3" x2="1459.6" y2="328.3" stroke="#000" stroke-width="2.6"/>
<line x1="1204" y1="328.3" x2="1204" y2="339" stroke="#000" stroke-width="2.6"/>
<text x="1204" y="359" font-size="19.5" text-anchor="middle" stroke="#000" stroke-width="0.3">0</text>
<line x1="1288.5" y1="328.3" x2="1288.5" y2="339" stroke="#000" stroke-width="2.6"/>
<text x="1288.5" y="359" font-size="19.5" text-anchor="middle" stroke="#000" stroke-width="0.3">24</text>
<line x1="1373.8" y1="328.3" x2="1373.8" y2="339" stroke="#000" stroke-width="2.6"/>
<text x="1373.8" y="359" font-size="19.5" text-anchor="middle" stroke="#000" stroke-width="0.3">48</text>
<line x1="1458.5" y1="328.3" x2="1458.5" y2="339" stroke="#000" stroke-width="2.6"/>
<text x="1458.5" y="359" font-size="19.5" text-anchor="middle" stroke="#000" stroke-width="0.3">72</text>
<text x="1333.5" y="377.6" font-size="20" text-anchor="middle" letter-spacing="0.6" stroke="#000" stroke-width="0.3">time<tspan font-family="'Liberation Sans', 'Noto Sans CJK SC', sans-serif">&#65288;</tspan> h<tspan font-family="'Liberation Sans', 'Noto Sans CJK SC', sans-serif">&#65289;</tspan></text>
<text x="1330" y="63.8" font-size="20" text-anchor="middle" stroke="#000" stroke-width="0.3">22Rv1</text>
<text x="1173.2" y="204" font-size="20.5" text-anchor="middle" transform="rotate(-90 1173.2 204)" stroke="#000" stroke-width="0.3">OD Value(450nm)</text>
<polyline points="1204,297.3 1288.5,271 1373.8,255.5 1458.5,241.5" fill="none" stroke="#3A3AF0" stroke-width="1.6"/>
<polyline points="1204,297.3 1288.5,258.6 1373.8,235.3 1458.5,221.4" fill="none" stroke="#F43A3F" stroke-width="1.6"/>
<polyline points="1204,297.3 1288.5,247.7 1373.8,210.5 1458.5,188.8" fill="none" stroke="#F8C79A" stroke-width="1.6"/>
<polyline points="1204,297.3 1288.5,246.2 1373.8,198.1 1458.5,153.2" fill="none" stroke="#3DEFF2" stroke-width="1.6"/>
<path d="M1204 303.2L1209.5 293.3L1198.5 293.3Z" fill="#3A3AF0"/>
<path d="M1288.5 276.9L1294 267L1283 267Z" fill="#3A3AF0"/>
<path d="M1373.8 261.4L1379.3 251.5L1368.3 251.5Z" fill="#3A3AF0"/>
<path d="M1458.5 247.4L1464 237.5L1453 237.5Z" fill="#3A3AF0"/>
<rect x="1199.7" y="293" width="8.6" height="8.6" fill="#F43A3F"/>
<rect x="1284.2" y="254.3" width="8.6" height="8.6" fill="#F43A3F"/>
<rect x="1369.5" y="231.1" width="8.6" height="8.6" fill="#F43A3F"/>
<rect x="1454.2" y="217.1" width="8.6" height="8.6" fill="#F43A3F"/>
<path d="M1204 291.4L1209.5 301.3L1198.5 301.3Z" fill="#F8C79A"/>
<line x1="1288.5" y1="244.6" x2="1288.5" y2="250.8" stroke="#F8C79A" stroke-width="1.6"/>
<line x1="1284" y1="244.6" x2="1293" y2="244.6" stroke="#F8C79A" stroke-width="1.6"/>
<line x1="1284" y1="250.8" x2="1293" y2="250.8" stroke="#F8C79A" stroke-width="1.6"/>
<path d="M1288.5 241.8L1294 251.7L1283 251.7Z" fill="#F8C79A"/>
<line x1="1373.8" y1="206.8" x2="1373.8" y2="214.3" stroke="#F8C79A" stroke-width="1.6"/>
<line x1="1369.3" y1="206.8" x2="1378.3" y2="206.8" stroke="#F8C79A" stroke-width="1.6"/>
<line x1="1369.3" y1="214.3" x2="1378.3" y2="214.3" stroke="#F8C79A" stroke-width="1.6"/>
<path d="M1373.8 204.6L1379.3 214.5L1368.3 214.5Z" fill="#F8C79A"/>
<line x1="1458.5" y1="181.1" x2="1458.5" y2="196.6" stroke="#F8C79A" stroke-width="1.6"/>
<line x1="1454" y1="181.1" x2="1463" y2="181.1" stroke="#F8C79A" stroke-width="1.6"/>
<line x1="1454" y1="196.6" x2="1463" y2="196.6" stroke="#F8C79A" stroke-width="1.6"/>
<path d="M1458.5 183L1464 192.8L1453 192.8Z" fill="#F8C79A"/>
<circle cx="1204" cy="297.3" r="4.8" fill="#3DEFF2"/>
<circle cx="1288.5" cy="246.2" r="4.8" fill="#3DEFF2"/>
<line x1="1373.8" y1="193.5" x2="1373.8" y2="202.8" stroke="#3DEFF2" stroke-width="1.6"/>
<line x1="1369.3" y1="193.5" x2="1378.3" y2="193.5" stroke="#3DEFF2" stroke-width="1.6"/>
<line x1="1369.3" y1="202.8" x2="1378.3" y2="202.8" stroke="#3DEFF2" stroke-width="1.6"/>
<circle cx="1373.8" cy="198.1" r="4.8" fill="#3DEFF2"/>
<line x1="1458.5" y1="143.9" x2="1458.5" y2="162.5" stroke="#3DEFF2" stroke-width="1.6"/>
<line x1="1454" y1="143.9" x2="1463" y2="143.9" stroke="#3DEFF2" stroke-width="1.6"/>
<line x1="1454" y1="162.5" x2="1463" y2="162.5" stroke="#3DEFF2" stroke-width="1.6"/>
<circle cx="1458.5" cy="153.2" r="4.8" fill="#3DEFF2"/>
<text x="1289.1" y="297.7" font-size="20.5" text-anchor="middle" letter-spacing="1.2" stroke="#000" stroke-width="0.45">*</text>
<text x="1374.4" y="281.7" font-size="20.5" text-anchor="middle" letter-spacing="1.2" stroke="#000" stroke-width="0.45">**</text>
<text x="1458.6" y="269.7" font-size="20.5" text-anchor="middle" letter-spacing="1.2" stroke="#000" stroke-width="0.45">***</text>
<line x1="1226.3" y1="78.6" x2="1253.7" y2="78.6" stroke="#3DEFF2" stroke-width="1.6"/>
<circle cx="1240" cy="78.6" r="4.8" fill="#3DEFF2"/>
<text x="1269" y="84.7" font-size="17" stroke="#000" stroke-width="0.3">NC+DHT(10nM)</text>
<line x1="1226.3" y1="95" x2="1253.7" y2="95" stroke="#F8C79A" stroke-width="1.6"/>
<path d="M1240 89.1L1245.5 99L1234.5 99Z" fill="#F8C79A"/>
<text x="1269" y="101.1" font-size="17" stroke="#000" stroke-width="0.3">NC</text>
<line x1="1226.3" y1="113" x2="1253.7" y2="113" stroke="#F43A3F" stroke-width="1.6"/>
<rect x="1235.7" y="108.7" width="8.6" height="8.6" fill="#F43A3F"/>
<text x="1269" y="119.1" font-size="17" stroke="#000" stroke-width="0.3">siR-FAM64A+DHT(10nM)</text>
<line x1="1226.3" y1="129.5" x2="1253.7" y2="129.5" stroke="#3A3AF0" stroke-width="1.6"/>
<path d="M1240 135.4L1245.5 125.5L1234.5 125.5Z" fill="#3A3AF0"/>
<text x="1269" y="135.6" font-size="17" stroke="#000" stroke-width="0.3">siR-FAM64A</text>
<text x="987.7" y="459.6" font-size="20" text-anchor="middle" stroke="#000" stroke-width="0.3">LNCaP</text>
<line x1="863.5" y1="469.5" x2="863.5" y2="587.2" stroke="#000" stroke-width="2.6"/>
<line x1="863.5" y1="605.9" x2="863.5" y2="722.3" stroke="#000" stroke-width="2.6"/>
<line x1="853.5" y1="470.8" x2="863.5" y2="470.8" stroke="#000" stroke-width="2.6"/>
<text x="850.5" y="478" font-size="20" text-anchor="end" stroke="#000" stroke-width="0.3">7</text>
<line x1="853.5" y1="509.6" x2="863.5" y2="509.6" stroke="#000" stroke-width="2.6"/>
<text x="850.5" y="516.8" font-size="20" text-anchor="end" stroke="#000" stroke-width="0.3">6</text>
<line x1="853.5" y1="548.4" x2="863.5" y2="548.4" stroke="#000" stroke-width="2.6"/>
<text x="850.5" y="555.6" font-size="20" text-anchor="end" stroke="#000" stroke-width="0.3">5</text>
<line x1="853.5" y1="587.2" x2="863.5" y2="587.2" stroke="#000" stroke-width="2.6"/>
<text x="850.5" y="594.4" font-size="20" text-anchor="end" stroke="#000" stroke-width="0.3">4</text>
<line x1="853.5" y1="605.9" x2="863.5" y2="605.9" stroke="#000" stroke-width="2.6"/>
<text x="850.5" y="613.1" font-size="20" text-anchor="end" stroke="#000" stroke-width="0.3">0.6</text>
<line x1="853.5" y1="663.4" x2="863.5" y2="663.4" stroke="#000" stroke-width="2.6"/>
<text x="850.5" y="670.6" font-size="20" text-anchor="end" stroke="#000" stroke-width="0.3">0.3</text>
<line x1="853.5" y1="721" x2="863.5" y2="721" stroke="#000" stroke-width="2.6"/>
<text x="850.5" y="728.2" font-size="20" text-anchor="end" stroke="#000" stroke-width="0.3">0.0</text>
<line x1="853" y1="721" x2="1111" y2="721" stroke="#000" stroke-width="2.6"/>
<line x1="893.4" y1="570.9" x2="893.4" y2="563.1" stroke="#000" stroke-width="1.6"/>
<line x1="883.4" y1="563.1" x2="903.4" y2="563.1" stroke="#000" stroke-width="1.6"/>
<path d="M874.2 587.2L874.2 570.9L912.5 570.9L912.5 587.2" fill="#FDD19F" stroke="#222" stroke-width="1.6"/>
<path d="M874.2 605.9L874.2 721L912.5 721L912.5 605.9" fill="#FDD19F" stroke="#222" stroke-width="1.6"/>
<rect x="875" y="586.2" width="36.7" height="2" fill="#FDD19F"/>
<rect x="875" y="604.9" width="36.7" height="2" fill="#FDD19F"/>
<line x1="893.4" y1="721" x2="893.4" y2="732" stroke="#000" stroke-width="2.6"/>
<line x1="953.2" y1="684.6" x2="953.2" y2="682.6" stroke="#000" stroke-width="1.6"/>
<line x1="942.8" y1="682.6" x2="963.6" y2="682.6" stroke="#000" stroke-width="1.6"/>
<rect x="933.9" y="684.6" width="38.6" height="36.4" fill="#4040FF" stroke="#222" stroke-width="1.6"/>
<line x1="953.2" y1="721" x2="953.2" y2="732" stroke="#000" stroke-width="2.6"/>
<line x1="1013.2" y1="529" x2="1013.2" y2="519.3" stroke="#000" stroke-width="1.6"/>
<line x1="1003.2" y1="519.3" x2="1023.2" y2="519.3" stroke="#000" stroke-width="1.6"/>
<path d="M993.8 587.2L993.8 529L1032.6 529L1032.6 587.2" fill="#42FFFF" stroke="#222" stroke-width="1.6"/>
<path d="M993.8 605.9L993.8 721L1032.6 721L1032.6 605.9" fill="#42FFFF" stroke="#222" stroke-width="1.6"/>
<rect x="994.6" y="586.2" width="37.2" height="2" fill="#42FFFF"/>
<rect x="994.6" y="604.9" width="37.2" height="2" fill="#42FFFF"/>
<line x1="1013.2" y1="721" x2="1013.2" y2="732" stroke="#000" stroke-width="2.6"/>
<line x1="1073.2" y1="672.1" x2="1073.2" y2="669.2" stroke="#000" stroke-width="1.6"/>
<line x1="1062.6" y1="669.2" x2="1083.7" y2="669.2" stroke="#000" stroke-width="1.6"/>
<rect x="1053.7" y="672.1" width="38.9" height="48.9" fill="#FF4242" stroke="#222" stroke-width="1.6"/>
<line x1="1073.2" y1="721" x2="1073.2" y2="732" stroke="#000" stroke-width="2.6"/>
<line x1="896.8" y1="487.3" x2="1009.6" y2="487.3" stroke="#000" stroke-width="1.4"/>
<text x="947.1" y="490.4" font-size="19.5" text-anchor="middle" letter-spacing="1.2" stroke="#000" stroke-width="0.45">**</text>
<line x1="1018" y1="487.3" x2="1067.3" y2="487.3" stroke="#000" stroke-width="1.4"/>
<text x="1044.1" y="490.4" font-size="19.5" text-anchor="middle" letter-spacing="1.2" stroke="#000" stroke-width="0.45">***</text>
<line x1="896.8" y1="503.5" x2="935" y2="503.5" stroke="#000" stroke-width="1.4"/>
<text x="916.8" y="506.6" font-size="19.5" text-anchor="middle" letter-spacing="1.2" stroke="#000" stroke-width="0.45">***</text>
<text x="816.6" y="597" font-size="20" text-anchor="middle" transform="rotate(-90 816.6 597)" stroke="#000" stroke-width="0.3">Area of Clones<tspan font-family="'Liberation Sans', 'Noto Sans CJK SC', sans-serif">&#65288;%&#65289;</tspan></text>
<text x="761.6" y="750.2" font-size="20.8" stroke="#000" stroke-width="0.3">NC</text>
<text x="893.1" y="750.2" font-size="19" text-anchor="middle" stroke="#000" stroke-width="0.3">+</text>
<text x="953.3" y="750.2" font-size="19" text-anchor="middle" stroke="#000" stroke-width="0.3">-</text>
<text x="1012.7" y="750.2" font-size="19" text-anchor="middle" stroke="#000" stroke-width="0.3">+</text>
<text x="1072.7" y="750.2" font-size="19" text-anchor="middle" stroke="#000" stroke-width="0.3">-</text>
<text x="761.6" y="774.5" font-size="20.8" stroke="#000" stroke-width="0.3">siR-FAM64A</text>
<text x="888.8" y="774.5" font-size="19" text-anchor="middle" stroke="#000" stroke-width="0.3">-</text>
<text x="951.4" y="774.5" font-size="19" text-anchor="middle" stroke="#000" stroke-width="0.3">+</text>
<text x="1012" y="774.5" font-size="19" text-anchor="middle" stroke="#000" stroke-width="0.3">-</text>
<text x="1073.9" y="774.5" font-size="19" text-anchor="middle" stroke="#000" stroke-width="0.3">+</text>
<text x="761.6" y="800" font-size="20.8" stroke="#000" stroke-width="0.3">DHT<tspan font-size="17.9">(10nM)</tspan></text>
<text x="888.3" y="800" font-size="19" text-anchor="middle" stroke="#000" stroke-width="0.3">-</text>
<text x="951.4" y="800" font-size="19" text-anchor="middle" stroke="#000" stroke-width="0.3">-</text>
<text x="1012" y="800" font-size="19" text-anchor="middle" stroke="#000" stroke-width="0.3">+</text>
<text x="1073.5" y="800" font-size="19" text-anchor="middle" stroke="#000" stroke-width="0.3">+</text>
<text x="1347" y="464" font-size="20" text-anchor="middle" stroke="#000" stroke-width="0.3">22Rv1</text>
<line x1="1225" y1="473.1" x2="1225" y2="724.1" stroke="#000" stroke-width="2.6"/>
<line x1="1215" y1="474.4" x2="1225" y2="474.4" stroke="#000" stroke-width="2.6"/>
<text x="1212" y="481.6" font-size="20" text-anchor="end" stroke="#000" stroke-width="0.3">20</text>
<line x1="1215" y1="536.5" x2="1225" y2="536.5" stroke="#000" stroke-width="2.6"/>
<text x="1212" y="543.7" font-size="20" text-anchor="end" stroke="#000" stroke-width="0.3">15</text>
<line x1="1215" y1="598.6" x2="1225" y2="598.6" stroke="#000" stroke-width="2.6"/>
<text x="1212" y="605.8" font-size="20" text-anchor="end" stroke="#000" stroke-width="0.3">10</text>
<line x1="1215" y1="660.7" x2="1225" y2="660.7" stroke="#000" stroke-width="2.6"/>
<text x="1212" y="667.9" font-size="20" text-anchor="end" stroke="#000" stroke-width="0.3">5</text>
<line x1="1215" y1="722.8" x2="1225" y2="722.8" stroke="#000" stroke-width="2.6"/>
<text x="1212" y="730" font-size="20" text-anchor="end" stroke="#000" stroke-width="0.3">0</text>
<line x1="1215" y1="722.8" x2="1473" y2="722.8" stroke="#000" stroke-width="2.6"/>
<line x1="1254.3" y1="625.9" x2="1254.3" y2="606.3" stroke="#000" stroke-width="1.6"/>
<line x1="1244.1" y1="606.3" x2="1264.6" y2="606.3" stroke="#000" stroke-width="1.6"/>
<rect x="1235.4" y="625.9" width="37.9" height="96.9" fill="#FDD19F" stroke="#222" stroke-width="1.6"/>
<line x1="1254.3" y1="722.8" x2="1254.3" y2="733" stroke="#000" stroke-width="2.6"/>
<line x1="1313.8" y1="710.4" x2="1313.8" y2="706.3" stroke="#000" stroke-width="1.6"/>
<line x1="1303.5" y1="706.3" x2="1324" y2="706.3" stroke="#000" stroke-width="1.6"/>
<rect x="1294.8" y="710.4" width="37.9" height="12.4" fill="#4040FF" stroke="#222" stroke-width="1.6"/>
<line x1="1313.8" y1="722.8" x2="1313.8" y2="733" stroke="#000" stroke-width="2.6"/>
<line x1="1372.8" y1="540.2" x2="1372.8" y2="507.9" stroke="#000" stroke-width="1.6"/>
<line x1="1362.4" y1="507.9" x2="1383.2" y2="507.9" stroke="#000" stroke-width="1.6"/>
<rect x="1353.6" y="540.2" width="38.4" height="182.6" fill="#42FFFF" stroke="#222" stroke-width="1.6"/>
<line x1="1372.8" y1="722.8" x2="1372.8" y2="733" stroke="#000" stroke-width="2.6"/>
<line x1="1432.2" y1="674.4" x2="1432.2" y2="656.1" stroke="#000" stroke-width="1.6"/>
<line x1="1421.9" y1="656.1" x2="1442.4" y2="656.1" stroke="#000" stroke-width="1.6"/>
<rect x="1413.2" y="674.4" width="37.9" height="48.4" fill="#FF4242" stroke="#222" stroke-width="1.6"/>
<line x1="1432.2" y1="722.8" x2="1432.2" y2="733" stroke="#000" stroke-width="2.6"/>
<line x1="1257.6" y1="482.3" x2="1367.5" y2="482.3" stroke="#000" stroke-width="1.4"/>
<text x="1305.8" y="485.4" font-size="19.5" text-anchor="middle" letter-spacing="1.2" stroke="#000" stroke-width="0.45">**</text>
<line x1="1376.3" y1="482.3" x2="1424.2" y2="482.3" stroke="#000" stroke-width="1.4"/>
<text x="1399.4" y="485.4" font-size="19.5" text-anchor="middle" letter-spacing="1.2" stroke="#000" stroke-width="0.45">**</text>
<line x1="1257.6" y1="498.8" x2="1294.8" y2="498.8" stroke="#000" stroke-width="1.4"/>
<text x="1277.1" y="501.9" font-size="19.5" text-anchor="middle" letter-spacing="1.2" stroke="#000" stroke-width="0.45">**</text>
<line x1="1311.8" y1="498.8" x2="1424.2" y2="498.8" stroke="#000" stroke-width="1.4"/>
<text x="1372.5" y="501.9" font-size="19.5" text-anchor="middle" letter-spacing="1.2" stroke="#000" stroke-width="0.45">*</text>
<text x="1186" y="600.5" font-size="20" text-anchor="middle" transform="rotate(-90 1186 600.5)" stroke="#000" stroke-width="0.3">Area of Clones<tspan font-family="'Liberation Sans', 'Noto Sans CJK SC', sans-serif">&#65288; % &#65289;</tspan></text>
<text x="1115.2" y="746.9" font-size="20.8" stroke="#000" stroke-width="0.3">NC</text>
<text x="1254.2" y="746.9" font-size="19" text-anchor="middle" stroke="#000" stroke-width="0.3">+</text>
<text x="1313" y="746.9" font-size="19" text-anchor="middle" stroke="#000" stroke-width="0.3">-</text>
<text x="1375" y="746.9" font-size="19" text-anchor="middle" stroke="#000" stroke-width="0.3">+</text>
<text x="1432" y="746.9" font-size="19" text-anchor="middle" stroke="#000" stroke-width="0.3">-</text>
<text x="1115.2" y="771.2" font-size="20.8" stroke="#000" stroke-width="0.3">siR-FAM64A</text>
<text x="1252.4" y="771.2" font-size="19" text-anchor="middle" stroke="#000" stroke-width="0.3">-</text>
<text x="1313.9" y="771.2" font-size="19" text-anchor="middle" stroke="#000" stroke-width="0.3">+</text>
<text x="1376.3" y="771.2" font-size="19" text-anchor="middle" stroke="#000" stroke-width="0.3">-</text>
<text x="1433.3" y="771.2" font-size="19" text-anchor="middle" stroke="#000" stroke-width="0.3">+</text>
<text x="1115.2" y="794.7" font-size="20.8" stroke="#000" stroke-width="0.3">DHT<tspan font-size="17.9">(10nM)</tspan></text>
<text x="1253" y="794.7" font-size="19" text-anchor="middle" stroke="#000" stroke-width="0.3">-</text>
<text x="1313.9" y="794.7" font-size="19" text-anchor="middle" stroke="#000" stroke-width="0.3">-</text>
<text x="1377" y="794.7" font-size="19" text-anchor="middle" stroke="#000" stroke-width="0.3">+</text>
<text x="1433.8" y="794.7" font-size="19" text-anchor="middle" stroke="#000" stroke-width="0.3">+</text>
<text x="48.5" y="461" font-size="25" stroke="#000" stroke-width="0.3">d</text>
<text x="248.4" y="468.6" font-size="26" text-anchor="middle" stroke="#000" stroke-width="0.3">LNCaP</text>
<line x1="91" y1="472.7" x2="404.5" y2="472.7" stroke="#777" stroke-width="1.2"/>
<text x="589" y="468.6" font-size="26" text-anchor="middle" stroke="#000" stroke-width="0.3">22Rv1</text>
<line x1="425" y1="472.7" x2="737.3" y2="472.7" stroke="#777" stroke-width="1.2"/>
<text x="34.8" y="502" font-size="24" stroke="#000" stroke-width="0.3">DHT<tspan font-size="20.5">(10nM)</tspan></text>
<line x1="153.6" y1="491.7" x2="176.7" y2="491.7" stroke="#000" stroke-width="1.3"/>
<text x="325" y="500.4" font-size="26" text-anchor="middle" font-family="'Liberation Sans', 'Noto Sans CJK SC', sans-serif" font-weight="300">&#65291;</text>
<line x1="496.7" y1="491.7" x2="517" y2="491.7" stroke="#000" stroke-width="1.3"/>
<text x="667" y="500.4" font-size="26" text-anchor="middle" font-family="'Liberation Sans', 'Noto Sans CJK SC', sans-serif" font-weight="300">&#65291;</text>
<text x="74" y="578.7" font-size="25" text-anchor="middle" transform="rotate(-90 74 578.7)" stroke="#000" stroke-width="0.3">NC</text>
<text x="74" y="711.9" font-size="25" text-anchor="middle" transform="rotate(-90 74 711.9)" stroke="#000" stroke-width="0.3">siR-FAM64A</text>
<g clip-path="url(#cr1)">
<rect x="91.6" y="507.7" width="148.9" height="296.7" fill="url(#lbg)"/>
<circle cx="166" cy="580" r="70" fill="none" stroke="#f7f6fb" stroke-opacity="0.8" stroke-width="4"/>
<circle cx="166" cy="580" r="72.2" fill="none" stroke="#c9c6de" stroke-opacity="0.6" stroke-width="0.8"/>
<circle cx="166" cy="580" r="67" fill="url(#ltop)" stroke="#eaf0fb" stroke-width="3"/>
<circle cx="166" cy="580" r="64" fill="none" stroke="#ffffff" stroke-opacity="0.5" stroke-width="1.2"/>
<g clip-path="url(#cc3)"><rect x="99" y="513" width="134" height="134" filter="url(#nz2)"/></g>
<circle cx="166" cy="725.6" r="69" fill="none" stroke="#f7f6fb" stroke-opacity="0.8" stroke-width="4"/>
<circle cx="166" cy="725.6" r="71.2" fill="none" stroke="#c9c6de" stroke-opacity="0.6" stroke-width="0.8"/>
<circle cx="166" cy="725.6" r="66" fill="url(#lbot)" stroke="#eaf0fb" stroke-width="3"/>
<circle cx="166" cy="725.6" r="63" fill="none" stroke="#ffffff" stroke-opacity="0.5" stroke-width="1.2"/>
</g>
<rect x="91.6" y="507.7" width="148.9" height="296.7" fill="none" stroke="#000" stroke-width="2.4"/>
<g clip-path="url(#cr4)">
<rect x="252.5" y="508.3" width="149.4" height="296.5" fill="url(#lbg)"/>
<circle cx="326" cy="581" r="69" fill="none" stroke="#f7f6fb" stroke-opacity="0.8" stroke-width="4"/>
<circle cx="326" cy="581" r="71.2" fill="none" stroke="#c9c6de" stroke-opacity="0.6" stroke-width="0.8"/>
<circle cx="326" cy="581" r="66" fill="url(#ltop)" stroke="#eaf0fb" stroke-width="3"/>
<circle cx="326" cy="581" r="63" fill="none" stroke="#ffffff" stroke-opacity="0.5" stroke-width="1.2"/>
<g clip-path="url(#cc6)"><rect x="260" y="515" width="132" height="132" filter="url(#nz5)"/></g>
<circle cx="326" cy="726" r="69" fill="none" stroke="#f7f6fb" stroke-opacity="0.8" stroke-width="4"/>
<circle cx="326" cy="726" r="71.2" fill="none" stroke="#c9c6de" stroke-opacity="0.6" stroke-width="0.8"/>
<circle cx="326" cy="726" r="66" fill="url(#lbot)" stroke="#eaf0fb" stroke-width="3"/>
<circle cx="326" cy="726" r="63" fill="none" stroke="#ffffff" stroke-opacity="0.5" stroke-width="1.2"/>
</g>
<rect x="252.5" y="508.3" width="149.4" height="296.5" fill="none" stroke="#000" stroke-width="2.4"/>
<g clip-path="url(#cr7)">
<rect x="427.8" y="508.4" width="149" height="295.1" fill="url(#gbg)"/>
<circle cx="500" cy="583.4" r="65" fill="none" stroke="#f7f6fb" stroke-opacity="0.8" stroke-width="4"/>
<circle cx="500" cy="583.4" r="67.2" fill="none" stroke="#c9c6de" stroke-opacity="0.6" stroke-width="0.8"/>
<circle cx="500" cy="583.4" r="62" fill="url(#gtop)" stroke="#a59bd6" stroke-width="1.6"/>
<circle cx="500" cy="583.4" r="60.4" fill="none" stroke="#ffffff" stroke-opacity="0.5" stroke-width="1.2"/>
<g clip-path="url(#cc9)"><rect x="438" y="521.4" width="124" height="124" filter="url(#nz8)"/></g>
<circle cx="500" cy="724.6" r="66" fill="none" stroke="#f7f6fb" stroke-opacity="0.8" stroke-width="4"/>
<circle cx="500" cy="724.6" r="68.2" fill="none" stroke="#c9c6de" stroke-opacity="0.6" stroke-width="0.8"/>
<circle cx="500" cy="724.6" r="63" fill="#e4dff0" stroke="#efecf6" stroke-width="3"/>
<circle cx="500" cy="724.6" r="60" fill="none" stroke="#ffffff" stroke-opacity="0.5" stroke-width="1.2"/>
</g>
<rect x="427.8" y="508.4" width="149" height="295.1" fill="none" stroke="#000" stroke-width="2.4"/>
<g clip-path="url(#cr10)">
<rect x="591.9" y="508.4" width="149.4" height="295.1" fill="url(#gbg)"/>
<circle cx="667" cy="582.3" r="66" fill="none" stroke="#f7f6fb" stroke-opacity="0.8" stroke-width="4"/>
<circle cx="667" cy="582.3" r="68.2" fill="none" stroke="#c9c6de" stroke-opacity="0.6" stroke-width="0.8"/>
<circle cx="667" cy="582.3" r="63" fill="url(#gtop)" stroke="#a096d4" stroke-width="1.6"/>
<circle cx="667" cy="582.3" r="61.4" fill="none" stroke="#ffffff" stroke-opacity="0.5" stroke-width="1.2"/>
<g clip-path="url(#cc12)"><rect x="604" y="519.3" width="126" height="126" filter="url(#nz11)"/></g>
<circle cx="667" cy="723" r="67" fill="none" stroke="#f7f6fb" stroke-opacity="0.8" stroke-width="4"/>
<circle cx="667" cy="723" r="69.2" fill="none" stroke="#c9c6de" stroke-opacity="0.6" stroke-width="0.8"/>
<circle cx="667" cy="723" r="64" fill="#d6d0e8" stroke="#e8e4f2" stroke-width="3"/>
<circle cx="667" cy="723" r="61" fill="none" stroke="#ffffff" stroke-opacity="0.5" stroke-width="1.2"/>
<g clip-path="url(#cc14)"><rect x="603" y="659" width="128" height="128" filter="url(#nz13)"/></g>
</g>
<rect x="591.9" y="508.4" width="149.4" height="295.1" fill="none" stroke="#000" stroke-width="2.4"/>
<text x="993.5" y="876.6" font-size="20" text-anchor="middle" stroke="#000" stroke-width="0.3">LNCaP</text>
<line x1="872" y1="885.9" x2="872" y2="1134.9" stroke="#000" stroke-width="2.6"/>
<line x1="862" y1="887.2" x2="872" y2="887.2" stroke="#000" stroke-width="2.6"/>
<text x="859" y="894.4" font-size="20" text-anchor="end" stroke="#000" stroke-width="0.3">50</text>
<line x1="862" y1="936.5" x2="872" y2="936.5" stroke="#000" stroke-width="2.6"/>
<text x="859" y="943.7" font-size="20" text-anchor="end" stroke="#000" stroke-width="0.3">40</text>
<line x1="862" y1="985.8" x2="872" y2="985.8" stroke="#000" stroke-width="2.6"/>
<text x="859" y="993" font-size="20" text-anchor="end" stroke="#000" stroke-width="0.3">30</text>
<line x1="862" y1="1035" x2="872" y2="1035" stroke="#000" stroke-width="2.6"/>
<text x="859" y="1042.2" font-size="20" text-anchor="end" stroke="#000" stroke-width="0.3">20</text>
<line x1="862" y1="1084.3" x2="872" y2="1084.3" stroke="#000" stroke-width="2.6"/>
<text x="859" y="1091.5" font-size="20" text-anchor="end" stroke="#000" stroke-width="0.3">10</text>
<line x1="862" y1="1133.6" x2="872" y2="1133.6" stroke="#000" stroke-width="2.6"/>
<text x="859" y="1140.8" font-size="20" text-anchor="end" stroke="#000" stroke-width="0.3">0</text>
<line x1="861.4" y1="1133.6" x2="1110.5" y2="1133.6" stroke="#000" stroke-width="2.6"/>
<line x1="901.3" y1="944.4" x2="901.3" y2="935.5" stroke="#000" stroke-width="1.6"/>
<line x1="891" y1="935.5" x2="911.6" y2="935.5" stroke="#000" stroke-width="1.6"/>
<rect x="882.2" y="944.4" width="38.2" height="189.2" fill="#FDD19F" stroke="#222" stroke-width="1.6"/>
<line x1="901.3" y1="1133.6" x2="901.3" y2="1144.1" stroke="#000" stroke-width="2.6"/>
<line x1="960" y1="1086.5" x2="960" y2="1080.6" stroke="#000" stroke-width="1.6"/>
<line x1="949.8" y1="1080.6" x2="970.2" y2="1080.6" stroke="#000" stroke-width="1.6"/>
<rect x="941.1" y="1086.5" width="37.8" height="47.1" fill="#4040FF" stroke="#222" stroke-width="1.6"/>
<line x1="960" y1="1133.6" x2="960" y2="1144.1" stroke="#000" stroke-width="2.6"/>
<line x1="1018.8" y1="909.6" x2="1018.8" y2="901" stroke="#000" stroke-width="1.6"/>
<line x1="1008.6" y1="901" x2="1028.9" y2="901" stroke="#000" stroke-width="1.6"/>
<rect x="999.9" y="909.6" width="37.7" height="224" fill="#42FFFF" stroke="#222" stroke-width="1.6"/>
<line x1="1018.8" y1="1133.6" x2="1018.8" y2="1144.1" stroke="#000" stroke-width="2.6"/>
<line x1="1077.2" y1="1053.4" x2="1077.2" y2="1045.9" stroke="#000" stroke-width="1.6"/>
<line x1="1067" y1="1045.9" x2="1087.4" y2="1045.9" stroke="#000" stroke-width="1.6"/>
<rect x="1058.3" y="1053.4" width="37.8" height="80.2" fill="#FF4242" stroke="#222" stroke-width="1.6"/>
<line x1="1077.2" y1="1133.6" x2="1077.2" y2="1144.1" stroke="#000" stroke-width="2.6"/>
<line x1="902.2" y1="882.5" x2="1013.5" y2="882.5" stroke="#000" stroke-width="1.4"/>
<text x="951.6" y="885.6" font-size="19.5" text-anchor="middle" letter-spacing="1.2" stroke="#000" stroke-width="0.45">**</text>
<line x1="1021.8" y1="882.5" x2="1069.4" y2="882.5" stroke="#000" stroke-width="1.4"/>
<text x="1046" y="885.6" font-size="19.5" text-anchor="middle" letter-spacing="1.2" stroke="#000" stroke-width="0.45">**</text>
<line x1="902.2" y1="897.8" x2="940" y2="897.8" stroke="#000" stroke-width="1.4"/>
<text x="921.6" y="900.9" font-size="19.5" text-anchor="middle" letter-spacing="1.2" stroke="#000" stroke-width="0.45">***</text>
<line x1="948.7" y1="897.8" x2="1067.8" y2="897.8" stroke="#000" stroke-width="1.4"/>
<text x="1013" y="900.9" font-size="19.5" text-anchor="middle" letter-spacing="1.2" stroke="#000" stroke-width="0.45">*</text>
<text x="830.5" y="1009.8" font-size="21" text-anchor="middle" transform="rotate(-90 830.5 1009.8)" stroke="#000" stroke-width="0.3">Area of Migrated Cells(%)</text>
<text x="771.3" y="1158.4" font-size="21.3" stroke="#000" stroke-width="0.3">NC</text>
<text x="901" y="1158.4" font-size="19" text-anchor="middle" stroke="#000" stroke-width="0.3">+</text>
<text x="960" y="1158.4" font-size="19" text-anchor="middle" stroke="#000" stroke-width="0.3">-</text>
<text x="1024.6" y="1158.4" font-size="19" text-anchor="middle" stroke="#000" stroke-width="0.3">+</text>
<text x="1077.9" y="1158.4" font-size="19" text-anchor="middle" stroke="#000" stroke-width="0.3">-</text>
<text x="771.3" y="1183.2" font-size="21.3" stroke="#000" stroke-width="0.3">siR-FAM64A</text>
<text x="901.5" y="1183.2" font-size="19" text-anchor="middle" stroke="#000" stroke-width="0.3">-</text>
<text x="959.3" y="1183.2" font-size="19" text-anchor="middle" stroke="#000" stroke-width="0.3">+</text>
<text x="1023.7" y="1183.2" font-size="19" text-anchor="middle" stroke="#000" stroke-width="0.3">-</text>
<text x="1082" y="1183.2" font-size="19" text-anchor="middle" stroke="#000" stroke-width="0.3">+</text>
<text x="771.3" y="1207.5" font-size="21.3" stroke="#000" stroke-width="0.3">DHT<tspan font-size="18.3">(10nM)</tspan></text>
<text x="902.7" y="1207.5" font-size="19" text-anchor="middle" stroke="#000" stroke-width="0.3">-</text>
<text x="960" y="1207.5" font-size="19" text-anchor="middle" stroke="#000" stroke-width="0.3">-</text>
<text x="1024" y="1207.5" font-size="19" text-anchor="middle" stroke="#000" stroke-width="0.3">+</text>
<text x="1080.8" y="1207.5" font-size="19" text-anchor="middle" stroke="#000" stroke-width="0.3">+</text>
<text x="1346.9" y="873.6" font-size="20" text-anchor="middle" stroke="#000" stroke-width="0.3">22Rv1</text>
<line x1="1226.4" y1="886.3" x2="1226.4" y2="1134.2" stroke="#000" stroke-width="2.6"/>
<line x1="1216.4" y1="887.6" x2="1226.4" y2="887.6" stroke="#000" stroke-width="2.6"/>
<text x="1213.4" y="894.8" font-size="20" text-anchor="end" stroke="#000" stroke-width="0.3">60</text>
<line x1="1216.4" y1="969.4" x2="1226.4" y2="969.4" stroke="#000" stroke-width="2.6"/>
<text x="1213.4" y="976.6" font-size="20" text-anchor="end" stroke="#000" stroke-width="0.3">40</text>
<line x1="1216.4" y1="1051.1" x2="1226.4" y2="1051.1" stroke="#000" stroke-width="2.6"/>
<text x="1213.4" y="1058.3" font-size="20" text-anchor="end" stroke="#000" stroke-width="0.3">20</text>
<line x1="1216.4" y1="1132.9" x2="1226.4" y2="1132.9" stroke="#000" stroke-width="2.6"/>
<text x="1213.4" y="1140.1" font-size="20" text-anchor="end" stroke="#000" stroke-width="0.3">0</text>
<line x1="1215" y1="1132.9" x2="1470.6" y2="1132.9" stroke="#000" stroke-width="2.6"/>
<line x1="1254.9" y1="947.7" x2="1254.9" y2="934.8" stroke="#000" stroke-width="1.6"/>
<line x1="1244.8" y1="934.8" x2="1265.1" y2="934.8" stroke="#000" stroke-width="1.6"/>
<rect x="1236.1" y="947.7" width="37.7" height="185.2" fill="#FDD19F" stroke="#222" stroke-width="1.6"/>
<line x1="1254.9" y1="1132.9" x2="1254.9" y2="1143.4" stroke="#000" stroke-width="2.6"/>
<line x1="1313.6" y1="1051.4" x2="1313.6" y2="1048.4" stroke="#000" stroke-width="1.6"/>
<line x1="1303.4" y1="1048.4" x2="1323.7" y2="1048.4" stroke="#000" stroke-width="1.6"/>
<rect x="1294.7" y="1051.4" width="37.7" height="81.5" fill="#4040FF" stroke="#222" stroke-width="1.6"/>
<line x1="1313.6" y1="1132.9" x2="1313.6" y2="1143.4" stroke="#000" stroke-width="2.6"/>
<line x1="1372.1" y1="912.5" x2="1372.1" y2="902.3" stroke="#000" stroke-width="1.6"/>
<line x1="1361.9" y1="902.3" x2="1382.3" y2="902.3" stroke="#000" stroke-width="1.6"/>
<rect x="1353.2" y="912.5" width="37.8" height="220.4" fill="#42FFFF" stroke="#222" stroke-width="1.6"/>
<line x1="1372.1" y1="1132.9" x2="1372.1" y2="1143.4" stroke="#000" stroke-width="2.6"/>
<line x1="1430.5" y1="1009.9" x2="1430.5" y2="1003" stroke="#000" stroke-width="1.6"/>
<line x1="1420.4" y1="1003" x2="1440.7" y2="1003" stroke="#000" stroke-width="1.6"/>
<rect x="1411.8" y="1009.9" width="37.5" height="123" fill="#FF4242" stroke="#222" stroke-width="1.6"/>
<line x1="1430.5" y1="1132.9" x2="1430.5" y2="1143.4" stroke="#000" stroke-width="2.6"/>
<line x1="1254.7" y1="883.8" x2="1362.2" y2="883.8" stroke="#000" stroke-width="1.4"/>
<text x="1310.6" y="886.9" font-size="19.5" text-anchor="middle" letter-spacing="1.2" stroke="#000" stroke-width="0.45">*</text>
<line x1="1371.6" y1="883.8" x2="1417.4" y2="883.8" stroke="#000" stroke-width="1.4"/>
<text x="1395.4" y="886.9" font-size="19.5" text-anchor="middle" letter-spacing="1.2" stroke="#000" stroke-width="0.45">***</text>
<line x1="1254.7" y1="899.3" x2="1290.8" y2="899.3" stroke="#000" stroke-width="1.4"/>
<text x="1273.1" y="902.4" font-size="19.5" text-anchor="middle" letter-spacing="1.2" stroke="#000" stroke-width="0.45">***</text>
<line x1="1299" y1="899.3" x2="1416.2" y2="899.3" stroke="#000" stroke-width="1.4"/>
<text x="1363.3" y="902.4" font-size="19.5" text-anchor="middle" letter-spacing="1.2" stroke="#000" stroke-width="0.45">**</text>
<text x="1187.5" y="1012.6" font-size="21" text-anchor="middle" transform="rotate(-90 1187.5 1012.6)" stroke="#000" stroke-width="0.3">Area of Migrated Cells(%)</text>
<text x="1124.8" y="1161.4" font-size="21.3" stroke="#000" stroke-width="0.3">NC</text>
<text x="1256.5" y="1161.4" font-size="19" text-anchor="middle" stroke="#000" stroke-width="0.3">+</text>
<text x="1315.8" y="1161.4" font-size="19" text-anchor="middle" stroke="#000" stroke-width="0.3">-</text>
<text x="1378.7" y="1161.4" font-size="19" text-anchor="middle" stroke="#000" stroke-width="0.3">+</text>
<text x="1431.5" y="1161.4" font-size="19" text-anchor="middle" stroke="#000" stroke-width="0.3">-</text>
<text x="1124.8" y="1185.1" font-size="21.3" stroke="#000" stroke-width="0.3">siR-FAM64A</text>
<text x="1258.5" y="1185.1" font-size="19" text-anchor="middle" stroke="#000" stroke-width="0.3">-</text>
<text x="1315.8" y="1185.1" font-size="19" text-anchor="middle" stroke="#000" stroke-width="0.3">+</text>
<text x="1377.4" y="1185.1" font-size="19" text-anchor="middle" stroke="#000" stroke-width="0.3">-</text>
<text x="1434.8" y="1185.1" font-size="19" text-anchor="middle" stroke="#000" stroke-width="0.3">+</text>
<text x="1124.8" y="1209.3" font-size="21.3" stroke="#000" stroke-width="0.3">DHT<tspan font-size="18.3">(10nM)</tspan></text>
<text x="1258.5" y="1209.3" font-size="19" text-anchor="middle" stroke="#000" stroke-width="0.3">-</text>
<text x="1314.5" y="1209.3" font-size="19" text-anchor="middle" stroke="#000" stroke-width="0.3">-</text>
<text x="1376.6" y="1209.3" font-size="19" text-anchor="middle" stroke="#000" stroke-width="0.3">+</text>
<text x="1432.3" y="1209.3" font-size="19" text-anchor="middle" stroke="#000" stroke-width="0.3">+</text>
<text x="46" y="873.5" font-size="25" stroke="#000" stroke-width="0.3">e</text>
<text x="248.3" y="882.7" font-size="26" text-anchor="middle" stroke="#000" stroke-width="0.3">LNCaP</text>
<line x1="79.4" y1="885" x2="396.8" y2="885" stroke="#666" stroke-width="1.2"/>
<text x="589.9" y="882.7" font-size="26" text-anchor="middle" stroke="#000" stroke-width="0.3">22Rv1</text>
<line x1="417.3" y1="885" x2="732.2" y2="885" stroke="#666" stroke-width="1.2"/>
<text x="26.6" y="914.5" font-size="24" stroke="#000" stroke-width="0.3">DHT<tspan font-size="20.5">(10nM)</tspan></text>
<line x1="146" y1="905.8" x2="166" y2="905.8" stroke="#000" stroke-width="1.3"/>
<text x="317.5" y="914.7" font-size="26" text-anchor="middle" font-family="'Liberation Sans', 'Noto Sans CJK SC', sans-serif" font-weight="300">&#65291;</text>
<line x1="495.5" y1="905.8" x2="515.5" y2="905.8" stroke="#000" stroke-width="1.3"/>
<text x="665.6" y="914.7" font-size="26" text-anchor="middle" font-family="'Liberation Sans', 'Noto Sans CJK SC', sans-serif" font-weight="300">&#65291;</text>
<text x="68" y="981" font-size="25" text-anchor="middle" transform="rotate(-90 68 981)" stroke="#000" stroke-width="0.3">NC</text>
<text x="68" y="1120.8" font-size="25" text-anchor="middle" transform="rotate(-90 68 1120.8)" stroke="#000" stroke-width="0.3">siR-FAM64A</text>
<g clip-path="url(#cr15)">
<rect x="81.9" y="922.4" width="153.3" height="131.6" fill="#e6e6f4"/>
<rect x="81.9" y="922.4" width="153.3" height="131.6" fill="#000" filter="url(#tw16)"/>
</g>
<rect x="81.9" y="922.4" width="153.3" height="131.6" fill="none" stroke="#000" stroke-width="2.6"/>
<g clip-path="url(#cr17)">
<rect x="244.6" y="922.4" width="153.5" height="131.6" fill="#e6e6f4"/>
<rect x="244.6" y="922.4" width="153.5" height="131.6" fill="#000" filter="url(#tw18)"/>
</g>
<rect x="244.6" y="922.4" width="153.5" height="131.6" fill="none" stroke="#000" stroke-width="2.6"/>
<g clip-path="url(#cr19)">
<rect x="426.5" y="922.4" width="152.5" height="131.6" fill="#e6e6f4"/>
<rect x="426.5" y="922.4" width="152.5" height="131.6" fill="#000" filter="url(#tw20)"/>
</g>
<rect x="426.5" y="922.4" width="152.5" height="131.6" fill="none" stroke="#000" stroke-width="2.6"/>
<g clip-path="url(#cr21)">
<rect x="589.6" y="922.4" width="151.8" height="131.6" fill="#e6e6f2"/>
<rect x="589.6" y="922.4" width="151.8" height="131.6" fill="#000" filter="url(#tw22)"/>
</g>
<rect x="589.6" y="922.4" width="151.8" height="131.6" fill="none" stroke="#000" stroke-width="2.6"/>
<g clip-path="url(#cr23)">
<rect x="81.9" y="1061.2" width="153.3" height="131" fill="#fbfbfb"/>
<rect x="81.9" y="1061.2" width="153.3" height="131" fill="#000" filter="url(#tw24)"/>
</g>
<rect x="81.9" y="1061.2" width="153.3" height="131" fill="none" stroke="#000" stroke-width="2.6"/>
<g clip-path="url(#cr25)">
<rect x="244.6" y="1061.2" width="153.5" height="131" fill="#f7f7f9"/>
<rect x="244.6" y="1061.2" width="153.5" height="131" fill="#000" filter="url(#tw26)"/>
</g>
<rect x="244.6" y="1061.2" width="153.5" height="131" fill="none" stroke="#000" stroke-width="2.6"/>
<g clip-path="url(#cr27)">
<rect x="426.5" y="1061.2" width="152.5" height="131" fill="#f5f5f8"/>
<rect x="426.5" y="1061.2" width="152.5" height="131" fill="#000" filter="url(#tw28)"/>
</g>
<rect x="426.5" y="1061.2" width="152.5" height="131" fill="none" stroke="#000" stroke-width="2.6"/>
<g clip-path="url(#cr29)">
<rect x="589.6" y="1061.2" width="151.8" height="132.5" fill="#f2f2f6"/>
<rect x="589.6" y="1061.2" width="151.8" height="132.5" fill="#000" filter="url(#tw30)"/>
</g>
<rect x="589.6" y="1061.2" width="151.8" height="132.5" fill="none" stroke="#000" stroke-width="2.6"/>
<line x1="1187" y1="1279.6" x2="1187" y2="1475.4" stroke="#000" stroke-width="2.4"/>
<line x1="1178.3" y1="1280.8" x2="1187" y2="1280.8" stroke="#000" stroke-width="2.4"/>
<text x="1178.3" y="1286.9" font-size="17" text-anchor="end" stroke="#000" stroke-width="0.3">0.6</text>
<line x1="1178.3" y1="1345.3" x2="1187" y2="1345.3" stroke="#000" stroke-width="2.4"/>
<text x="1178.3" y="1351.4" font-size="17" text-anchor="end" stroke="#000" stroke-width="0.3">0.4</text>
<line x1="1178.3" y1="1409.7" x2="1187" y2="1409.7" stroke="#000" stroke-width="2.4"/>
<text x="1178.3" y="1415.9" font-size="17" text-anchor="end" stroke="#000" stroke-width="0.3">0.2</text>
<line x1="1178.3" y1="1474.2" x2="1187" y2="1474.2" stroke="#000" stroke-width="2.4"/>
<text x="1178.3" y="1480.3" font-size="17" text-anchor="end" stroke="#000" stroke-width="0.3">0.0</text>
<line x1="1178.3" y1="1474.2" x2="1457.8" y2="1474.2" stroke="#000" stroke-width="2.4"/>
<line x1="1187" y1="1474.2" x2="1187" y2="1481.7" stroke="#000" stroke-width="2.4"/>
<text x="1187" y="1499" font-size="16" text-anchor="middle" stroke="#000" stroke-width="0.3">0</text>
<line x1="1322.1" y1="1474.2" x2="1322.1" y2="1481.7" stroke="#000" stroke-width="2.4"/>
<text x="1322.1" y="1499" font-size="16" text-anchor="middle" stroke="#000" stroke-width="0.3">48</text>
<line x1="1456.7" y1="1474.2" x2="1456.7" y2="1481.7" stroke="#000" stroke-width="2.4"/>
<text x="1456.7" y="1499" font-size="16" text-anchor="middle" stroke="#000" stroke-width="0.3">96</text>
<text x="1321.3" y="1512.7" font-size="15.5" text-anchor="middle" stroke="#000" stroke-width="0.3">Time(h)</text>
<text x="1320.9" y="1270.9" font-size="15.5" text-anchor="middle" stroke="#000" stroke-width="0.3">LNCaP</text>
<text x="1151.3" y="1376.3" font-size="16" text-anchor="middle" transform="rotate(-90 1151.3 1376.3)" stroke="#000" stroke-width="0.3">Percent Wound Closure(%)</text>
<polyline points="1187,1474.2 1322.1,1462.9 1456.7,1404.9" fill="none" stroke="#3A3AF0" stroke-width="1.3"/>
<polyline points="1187,1474.2 1322.1,1442 1456.7,1392" fill="none" stroke="#F43A3F" stroke-width="1.3"/>
<polyline points="1187,1474.2 1322.1,1421 1456.7,1369.5" fill="none" stroke="#F8C79A" stroke-width="1.3"/>
<polyline points="1187,1474.2 1322.1,1388.8 1456.7,1329.2" fill="none" stroke="#3DEFF2" stroke-width="1.3"/>
<rect x="1183.6" y="1470.8" width="6.8" height="6.8" fill="#3A3AF0"/>
<line x1="1322.1" y1="1459.7" x2="1322.1" y2="1466.1" stroke="#3A3AF0" stroke-width="1.3"/>
<line x1="1317.6" y1="1459.7" x2="1326.6" y2="1459.7" stroke="#3A3AF0" stroke-width="1.3"/>
<line x1="1317.6" y1="1466.1" x2="1326.6" y2="1466.1" stroke="#3A3AF0" stroke-width="1.3"/>
<rect x="1318.7" y="1459.5" width="6.8" height="6.8" fill="#3A3AF0"/>
<line x1="1456.7" y1="1398.5" x2="1456.7" y2="1411.4" stroke="#3A3AF0" stroke-width="1.3"/>
<line x1="1452.2" y1="1398.5" x2="1461.2" y2="1398.5" stroke="#3A3AF0" stroke-width="1.3"/>
<line x1="1452.2" y1="1411.4" x2="1461.2" y2="1411.4" stroke="#3A3AF0" stroke-width="1.3"/>
<rect x="1453.3" y="1401.5" width="6.8" height="6.8" fill="#3A3AF0"/>
<path d="M1187 1478.9L1191.3 1471L1182.7 1471Z" fill="#F43A3F"/>
<line x1="1322.1" y1="1429.1" x2="1322.1" y2="1454.9" stroke="#F43A3F" stroke-width="1.3"/>
<line x1="1317.6" y1="1429.1" x2="1326.6" y2="1429.1" stroke="#F43A3F" stroke-width="1.3"/>
<line x1="1317.6" y1="1454.9" x2="1326.6" y2="1454.9" stroke="#F43A3F" stroke-width="1.3"/>
<path d="M1322.1 1446.6L1326.4 1438.8L1317.8 1438.8Z" fill="#F43A3F"/>
<line x1="1456.7" y1="1388.8" x2="1456.7" y2="1395.2" stroke="#F43A3F" stroke-width="1.3"/>
<line x1="1452.2" y1="1388.8" x2="1461.2" y2="1388.8" stroke="#F43A3F" stroke-width="1.3"/>
<line x1="1452.2" y1="1395.2" x2="1461.2" y2="1395.2" stroke="#F43A3F" stroke-width="1.3"/>
<path d="M1456.7 1396.7L1461 1388.9L1452.4 1388.9Z" fill="#F43A3F"/>
<circle cx="1187" cy="1474.2" r="3.8" fill="#F8C79A"/>
<line x1="1322.1" y1="1416.2" x2="1322.1" y2="1425.9" stroke="#F8C79A" stroke-width="1.3"/>
<line x1="1317.6" y1="1416.2" x2="1326.6" y2="1416.2" stroke="#F8C79A" stroke-width="1.3"/>
<line x1="1317.6" y1="1425.9" x2="1326.6" y2="1425.9" stroke="#F8C79A" stroke-width="1.3"/>
<circle cx="1322.1" cy="1421" r="3.8" fill="#F8C79A"/>
<line x1="1456.7" y1="1364.6" x2="1456.7" y2="1374.3" stroke="#F8C79A" stroke-width="1.3"/>
<line x1="1452.2" y1="1364.6" x2="1461.2" y2="1364.6" stroke="#F8C79A" stroke-width="1.3"/>
<line x1="1452.2" y1="1374.3" x2="1461.2" y2="1374.3" stroke="#F8C79A" stroke-width="1.3"/>
<circle cx="1456.7" cy="1369.5" r="3.8" fill="#F8C79A"/>
<path d="M1187 1469.5L1191.3 1477.4L1182.7 1477.4Z" fill="#3DEFF2"/>
<line x1="1322.1" y1="1382.3" x2="1322.1" y2="1395.2" stroke="#3DEFF2" stroke-width="1.3"/>
<line x1="1317.6" y1="1382.3" x2="1326.6" y2="1382.3" stroke="#3DEFF2" stroke-width="1.3"/>
<line x1="1317.6" y1="1395.2" x2="1326.6" y2="1395.2" stroke="#3DEFF2" stroke-width="1.3"/>
<path d="M1322.1 1384.1L1326.4 1391.9L1317.8 1391.9Z" fill="#3DEFF2"/>
<line x1="1456.7" y1="1317.9" x2="1456.7" y2="1340.4" stroke="#3DEFF2" stroke-width="1.3"/>
<line x1="1452.2" y1="1317.9" x2="1461.2" y2="1317.9" stroke="#3DEFF2" stroke-width="1.3"/>
<line x1="1452.2" y1="1340.4" x2="1461.2" y2="1340.4" stroke="#3DEFF2" stroke-width="1.3"/>
<path d="M1456.7 1324.5L1461 1332.3L1452.4 1332.3Z" fill="#3DEFF2"/>
<text x="1322.6" y="1479.3" font-size="17" text-anchor="middle" letter-spacing="1.2" stroke="#000" stroke-width="0.45">*</text>
<text x="1457.3" y="1429.7" font-size="17" text-anchor="middle" letter-spacing="1.2" stroke="#000" stroke-width="0.45">***</text>
<line x1="1216.7" y1="1280.8" x2="1236.5" y2="1280.8" stroke="#3DEFF2" stroke-width="1.3"/>
<path d="M1226.6 1276.1L1230.9 1284L1222.2 1284Z" fill="#3DEFF2"/>
<text x="1249" y="1286.4" font-size="15.5" stroke="#000" stroke-width="0.3">NC+DHT</text>
<line x1="1216.7" y1="1295.7" x2="1236.5" y2="1295.7" stroke="#F8C79A" stroke-width="1.3"/>
<circle cx="1226.6" cy="1295.7" r="3.8" fill="#F8C79A"/>
<text x="1249" y="1301.3" font-size="15.5" stroke="#000" stroke-width="0.3">NC</text>
<line x1="1216.7" y1="1309.8" x2="1236.5" y2="1309.8" stroke="#F43A3F" stroke-width="1.3"/>
<path d="M1226.6 1314.5L1230.9 1306.6L1222.2 1306.6Z" fill="#F43A3F"/>
<text x="1249" y="1315.4" font-size="15.5" stroke="#000" stroke-width="0.3">siR-FAM64A+DHT</text>
<line x1="1216.7" y1="1325" x2="1236.5" y2="1325" stroke="#3A3AF0" stroke-width="1.3"/>
<rect x="1223.2" y="1321.6" width="6.8" height="6.8" fill="#3A3AF0"/>
<text x="1249" y="1330.6" font-size="15.5" stroke="#000" stroke-width="0.3">siR-FAM64A</text>
<line x1="1187" y1="1539.7" x2="1187" y2="1734.8" stroke="#000" stroke-width="2.4"/>
<line x1="1178.3" y1="1540.9" x2="1187" y2="1540.9" stroke="#000" stroke-width="2.4"/>
<text x="1178.3" y="1547" font-size="17" text-anchor="end" stroke="#000" stroke-width="0.3">1.0</text>
<line x1="1178.3" y1="1579.4" x2="1187" y2="1579.4" stroke="#000" stroke-width="2.4"/>
<text x="1178.3" y="1585.6" font-size="17" text-anchor="end" stroke="#000" stroke-width="0.3">0.8</text>
<line x1="1178.3" y1="1618" x2="1187" y2="1618" stroke="#000" stroke-width="2.4"/>
<text x="1178.3" y="1624.1" font-size="17" text-anchor="end" stroke="#000" stroke-width="0.3">0.6</text>
<line x1="1178.3" y1="1656.5" x2="1187" y2="1656.5" stroke="#000" stroke-width="2.4"/>
<text x="1178.3" y="1662.6" font-size="17" text-anchor="end" stroke="#000" stroke-width="0.3">0.4</text>
<line x1="1178.3" y1="1695.1" x2="1187" y2="1695.1" stroke="#000" stroke-width="2.4"/>
<text x="1178.3" y="1701.2" font-size="17" text-anchor="end" stroke="#000" stroke-width="0.3">0.2</text>
<line x1="1178.3" y1="1733.6" x2="1187" y2="1733.6" stroke="#000" stroke-width="2.4"/>
<text x="1178.3" y="1739.7" font-size="17" text-anchor="end" stroke="#000" stroke-width="0.3">0.0</text>
<line x1="1178.3" y1="1733.6" x2="1457.8" y2="1733.6" stroke="#000" stroke-width="2.4"/>
<line x1="1187" y1="1733.6" x2="1187" y2="1741" stroke="#000" stroke-width="2.4"/>
<text x="1187" y="1757.9" font-size="16" text-anchor="middle" stroke="#000" stroke-width="0.3">0</text>
<line x1="1322.1" y1="1733.6" x2="1322.1" y2="1741" stroke="#000" stroke-width="2.4"/>
<text x="1322.1" y="1757.9" font-size="16" text-anchor="middle" stroke="#000" stroke-width="0.3">48</text>
<line x1="1456.7" y1="1733.6" x2="1456.7" y2="1741" stroke="#000" stroke-width="2.4"/>
<text x="1456.7" y="1757.9" font-size="16" text-anchor="middle" stroke="#000" stroke-width="0.3">96</text>
<text x="1321.3" y="1770.3" font-size="15.5" text-anchor="middle" stroke="#000" stroke-width="0.3">Time(h)</text>
<text x="1320.9" y="1533.5" font-size="15.5" text-anchor="middle" stroke="#000" stroke-width="0.3">22RV1</text>
<text x="1151.3" y="1636.4" font-size="16" text-anchor="middle" transform="rotate(-90 1151.3 1636.4)" stroke="#000" stroke-width="0.3">Percent Wound Closure(%)</text>
<polyline points="1187,1733.6 1322.1,1714.3 1456.7,1670" fill="none" stroke="#3A3AF0" stroke-width="1.3"/>
<polyline points="1187,1733.6 1322.1,1708.5 1456.7,1629.5" fill="none" stroke="#F43A3F" stroke-width="1.3"/>
<polyline points="1187,1733.6 1322.1,1673.9 1456.7,1596.8" fill="none" stroke="#F8C79A" stroke-width="1.3"/>
<polyline points="1187,1733.6 1322.1,1660.4 1456.7,1583.3" fill="none" stroke="#3DEFF2" stroke-width="1.3"/>
<rect x="1183.6" y="1730.2" width="6.8" height="6.8" fill="#3A3AF0"/>
<line x1="1322.1" y1="1707.6" x2="1322.1" y2="1721.1" stroke="#3A3AF0" stroke-width="1.3"/>
<line x1="1317.6" y1="1707.6" x2="1326.6" y2="1707.6" stroke="#3A3AF0" stroke-width="1.3"/>
<line x1="1317.6" y1="1721.1" x2="1326.6" y2="1721.1" stroke="#3A3AF0" stroke-width="1.3"/>
<rect x="1318.7" y="1711" width="6.8" height="6.8" fill="#3A3AF0"/>
<line x1="1456.7" y1="1658.4" x2="1456.7" y2="1681.6" stroke="#3A3AF0" stroke-width="1.3"/>
<line x1="1452.2" y1="1658.4" x2="1461.2" y2="1658.4" stroke="#3A3AF0" stroke-width="1.3"/>
<line x1="1452.2" y1="1681.6" x2="1461.2" y2="1681.6" stroke="#3A3AF0" stroke-width="1.3"/>
<rect x="1453.3" y="1666.6" width="6.8" height="6.8" fill="#3A3AF0"/>
<path d="M1187 1738.2L1191.3 1730.4L1182.7 1730.4Z" fill="#F43A3F"/>
<line x1="1322.1" y1="1698.9" x2="1322.1" y2="1718.2" stroke="#F43A3F" stroke-width="1.3"/>
<line x1="1317.6" y1="1698.9" x2="1326.6" y2="1698.9" stroke="#F43A3F" stroke-width="1.3"/>
<line x1="1317.6" y1="1718.2" x2="1326.6" y2="1718.2" stroke="#F43A3F" stroke-width="1.3"/>
<path d="M1322.1 1713.2L1326.4 1705.4L1317.8 1705.4Z" fill="#F43A3F"/>
<line x1="1456.7" y1="1615.1" x2="1456.7" y2="1644" stroke="#F43A3F" stroke-width="1.3"/>
<line x1="1452.2" y1="1615.1" x2="1461.2" y2="1615.1" stroke="#F43A3F" stroke-width="1.3"/>
<line x1="1452.2" y1="1644" x2="1461.2" y2="1644" stroke="#F43A3F" stroke-width="1.3"/>
<path d="M1456.7 1634.2L1461 1626.4L1452.4 1626.4Z" fill="#F43A3F"/>
<circle cx="1187" cy="1733.6" r="3.8" fill="#F8C79A"/>
<circle cx="1322.1" cy="1673.9" r="3.8" fill="#F8C79A"/>
<line x1="1456.7" y1="1589.1" x2="1456.7" y2="1604.5" stroke="#F8C79A" stroke-width="1.3"/>
<line x1="1452.2" y1="1589.1" x2="1461.2" y2="1589.1" stroke="#F8C79A" stroke-width="1.3"/>
<line x1="1452.2" y1="1604.5" x2="1461.2" y2="1604.5" stroke="#F8C79A" stroke-width="1.3"/>
<circle cx="1456.7" cy="1596.8" r="3.8" fill="#F8C79A"/>
<path d="M1187 1728.9L1191.3 1736.8L1182.7 1736.8Z" fill="#3DEFF2"/>
<line x1="1322.1" y1="1647.8" x2="1322.1" y2="1672.9" stroke="#3DEFF2" stroke-width="1.3"/>
<line x1="1317.6" y1="1647.8" x2="1326.6" y2="1647.8" stroke="#3DEFF2" stroke-width="1.3"/>
<line x1="1317.6" y1="1672.9" x2="1326.6" y2="1672.9" stroke="#3DEFF2" stroke-width="1.3"/>
<path d="M1322.1 1655.7L1326.4 1663.5L1317.8 1663.5Z" fill="#3DEFF2"/>
<line x1="1456.7" y1="1571.7" x2="1456.7" y2="1594.9" stroke="#3DEFF2" stroke-width="1.3"/>
<line x1="1452.2" y1="1571.7" x2="1461.2" y2="1571.7" stroke="#3DEFF2" stroke-width="1.3"/>
<line x1="1452.2" y1="1594.9" x2="1461.2" y2="1594.9" stroke="#3DEFF2" stroke-width="1.3"/>
<path d="M1456.7 1578.6L1461 1586.4L1452.4 1586.4Z" fill="#3DEFF2"/>
<text x="1322.6" y="1734.9" font-size="17" text-anchor="middle" letter-spacing="1.2" stroke="#000" stroke-width="0.45">**</text>
<text x="1457.3" y="1697.2" font-size="17" text-anchor="middle" letter-spacing="1.2" stroke="#000" stroke-width="0.45">**</text>
<line x1="1213.7" y1="1544.1" x2="1234" y2="1544.1" stroke="#3DEFF2" stroke-width="1.2"/>
<path d="M1223.8 1540.1L1227.6 1546.8L1220.1 1546.8Z" fill="#3DEFF2"/>
<text x="1246" y="1548.7" font-size="12.9">NC+DHT</text>
<line x1="1213.7" y1="1555" x2="1234" y2="1555" stroke="#F8C79A" stroke-width="1.2"/>
<circle cx="1223.8" cy="1555" r="3.2" fill="#F8C79A"/>
<text x="1246" y="1559.6" font-size="12.9">NC</text>
<line x1="1213.7" y1="1566.5" x2="1234" y2="1566.5" stroke="#3A3AF0" stroke-width="1.2"/>
<rect x="1220.9" y="1563.6" width="5.9" height="5.9" fill="#3A3AF0"/>
<text x="1246" y="1571.1" font-size="12.9">siR-FAM64A</text>
<line x1="1213.7" y1="1578.1" x2="1234" y2="1578.1" stroke="#F43A3F" stroke-width="1.2"/>
<path d="M1223.8 1582.1L1227.6 1575.4L1220.1 1575.4Z" fill="#F43A3F"/>
<text x="1246" y="1582.7" font-size="12.9">siR-FAM64A+DHT</text>
<text x="46.5" y="1284.6" font-size="25" stroke="#000" stroke-width="0.3">f</text>
<text x="343.7" y="1290.6" font-size="26" text-anchor="middle" stroke="#000" stroke-width="0.3">LNCaP</text>
<line x1="70.8" y1="1296.7" x2="589.1" y2="1296.7" stroke="#777" stroke-width="1.2"/>
<text x="875.4" y="1289.3" font-size="26" text-anchor="middle" stroke="#000" stroke-width="0.3">22Rv1</text>
<line x1="603" y1="1296.7" x2="1121.9" y2="1296.7" stroke="#777" stroke-width="1.2"/>
<text x="22.2" y="1336" font-size="26" stroke="#000" stroke-width="0.3">Day</text>
<text x="50.5" y="1389.7" font-size="26" text-anchor="middle" stroke="#000" stroke-width="0.3">0</text>
<text x="50" y="1540.5" font-size="26" text-anchor="middle" stroke="#000" stroke-width="0.3">2</text>
<text x="49.7" y="1693.2" font-size="26" text-anchor="middle" stroke="#000" stroke-width="0.3">4</text>
<text x="130.2" y="1741.7" font-size="21.5" text-anchor="middle" stroke="#000" stroke-width="0.3">NC</text>
<text x="260.8" y="1741.7" font-size="21.5" text-anchor="middle" stroke="#000" stroke-width="0.3">siR-FAM64A</text>
<text x="329.5" y="1741.7" font-size="21.5" stroke="#000" stroke-width="0.3">NC+DHTsiR-FAM64A+DHT</text>
<text x="665.2" y="1741.5" font-size="21.5" text-anchor="middle" stroke="#000" stroke-width="0.3">NC</text>
<text x="790.1" y="1741.5" font-size="21.5" text-anchor="middle" stroke="#000" stroke-width="0.3">siR-FAM64A</text>
<text x="869.8" y="1741.5" font-size="21.5" stroke="#000" stroke-width="0.3">NC+DHTsiR-FAM64A+DHT</text>
<g clip-path="url(#cr31)">
<rect x="70" y="1309.7" width="124.9" height="131.8" fill="#aaaaaa"/>
<rect x="70" y="1309.7" width="124.9" height="131.8" fill="#000" filter="url(#gz32)"/>
<path d="M70 1355.4L194.9 1355.4L194.9 1397.8L70 1397.8Z" fill="#bdbdbd"/>
<line x1="70" y1="1355.4" x2="194.9" y2="1355.4" stroke="#1c1c1c" stroke-width="1.2"/>
<line x1="70" y1="1397.8" x2="194.9" y2="1397.8" stroke="#1c1c1c" stroke-width="1.2"/>
</g>
<g clip-path="url(#cr33)">
<rect x="201" y="1309.7" width="125.3" height="131.8" fill="#a8a8a8"/>
<rect x="201" y="1309.7" width="125.3" height="131.8" fill="#000" filter="url(#gz34)"/>
<path d="M201 1353.3L326.3 1353.3L326.3 1396.6L201 1396.6Z" fill="#bababa"/>
<line x1="201" y1="1353.3" x2="326.3" y2="1353.3" stroke="#1c1c1c" stroke-width="1.2"/>
<line x1="201" y1="1396.6" x2="326.3" y2="1396.6" stroke="#1c1c1c" stroke-width="1.2"/>
</g>
<g clip-path="url(#cr35)">
<rect x="332.4" y="1309.7" width="125.3" height="131.8" fill="#aeaeae"/>
<rect x="332.4" y="1309.7" width="125.3" height="131.8" fill="#000" filter="url(#gz36)"/>
<path d="M332.4 1353.3L457.7 1353.3L457.7 1396.6L332.4 1396.6Z" fill="#c2c2c2"/>
<line x1="332.4" y1="1353.3" x2="457.7" y2="1353.3" stroke="#1c1c1c" stroke-width="1.2"/>
<line x1="332.4" y1="1396.6" x2="457.7" y2="1396.6" stroke="#1c1c1c" stroke-width="1.2"/>
</g>
<g clip-path="url(#cr37)">
<rect x="464.2" y="1309.7" width="125.3" height="131.8" fill="#a8a8a8"/>
<rect x="464.2" y="1309.7" width="125.3" height="131.8" fill="#000" filter="url(#gz38)"/>
<path d="M464.2 1353.3L589.5 1353.3L589.5 1396.6L464.2 1396.6Z" fill="#bcbcbc"/>
<line x1="464.2" y1="1353.3" x2="589.5" y2="1353.3" stroke="#1c1c1c" stroke-width="1.2"/>
<line x1="464.2" y1="1396.6" x2="589.5" y2="1396.6" stroke="#1c1c1c" stroke-width="1.2"/>
</g>
<g clip-path="url(#cr39)">
<rect x="70" y="1449.6" width="124.9" height="131.4" fill="#a0a0a0"/>
<rect x="70" y="1449.6" width="124.9" height="131.4" fill="#000" filter="url(#gz40)"/>
<path d="M70 1501.3L194.9 1501.3L194.9 1537.3L70 1537.3Z" fill="#bfbfbf"/>
<line x1="70" y1="1501.3" x2="194.9" y2="1501.3" stroke="#1c1c1c" stroke-width="1.2"/>
<line x1="70" y1="1537.3" x2="194.9" y2="1537.3" stroke="#1c1c1c" stroke-width="1.2"/>
</g>
<g clip-path="url(#cr41)">
<rect x="201" y="1449.6" width="125.3" height="131.4" fill="#8a8a8a"/>
<rect x="201" y="1449.6" width="125.3" height="131.4" fill="#000" filter="url(#gz42)"/>
<path d="M201 1495.3L326.3 1495.3L326.3 1537.3L201 1537.3Z" fill="#c0c0c0"/>
<line x1="201" y1="1495.3" x2="326.3" y2="1495.3" stroke="#1c1c1c" stroke-width="1.2"/>
<line x1="201" y1="1537.3" x2="326.3" y2="1537.3" stroke="#1c1c1c" stroke-width="1.2"/>
</g>
<g clip-path="url(#cr43)">
<rect x="332.4" y="1449.6" width="125.3" height="131.4" fill="#a8a8a8"/>
<rect x="332.4" y="1449.6" width="125.3" height="131.4" fill="#000" filter="url(#gz44)"/>
<path d="M332.4 1508.2L457.7 1508.2L457.7 1537.3L332.4 1537.3Z" fill="#bcbcbc"/>
<line x1="332.4" y1="1508.2" x2="457.7" y2="1508.2" stroke="#1c1c1c" stroke-width="1.2"/>
<line x1="332.4" y1="1537.3" x2="457.7" y2="1537.3" stroke="#1c1c1c" stroke-width="1.2"/>
</g>
<g clip-path="url(#cr45)">
<rect x="464.2" y="1449.6" width="125.3" height="131.4" fill="#a8a8a8"/>
<rect x="464.2" y="1449.6" width="125.3" height="131.4" fill="#000" filter="url(#gz46)"/>
<path d="M464.2 1501.3L589.5 1501.3L589.5 1544.2L464.2 1544.2Z" fill="#bbbbbb"/>
<line x1="464.2" y1="1501.3" x2="589.5" y2="1501.3" stroke="#1c1c1c" stroke-width="1.2"/>
<line x1="464.2" y1="1544.2" x2="589.5" y2="1544.2" stroke="#1c1c1c" stroke-width="1.2"/>
</g>
<g clip-path="url(#cr47)">
<rect x="70" y="1589" width="124.9" height="131.7" fill="#b2b2b2"/>
<rect x="70" y="1589" width="124.9" height="131.7" fill="#000" filter="url(#gz48)"/>
<path d="M70 1644.7L194.9 1644.7L194.9 1671L70 1671Z" fill="#bebebe"/>
<line x1="70" y1="1644.7" x2="194.9" y2="1644.7" stroke="#1c1c1c" stroke-width="1.2"/>
<line x1="70" y1="1671" x2="194.9" y2="1671" stroke="#1c1c1c" stroke-width="1.2"/>
</g>
<g clip-path="url(#cr49)">
<rect x="201" y="1589" width="125.3" height="131.7" fill="#b0b0b0"/>
<rect x="201" y="1589" width="125.3" height="131.7" fill="#000" filter="url(#gz50)"/>
<path d="M201 1639.4L326.3 1639.4L326.3 1671L201 1671Z" fill="#c2c2c2"/>
<line x1="201" y1="1639.4" x2="326.3" y2="1639.4" stroke="#1c1c1c" stroke-width="1.2"/>
<line x1="201" y1="1671" x2="326.3" y2="1671" stroke="#1c1c1c" stroke-width="1.2"/>
</g>
<g clip-path="url(#cr51)">
<rect x="332.4" y="1589" width="125.3" height="131.7" fill="#a4a4a4"/>
<rect x="332.4" y="1589" width="125.3" height="131.7" fill="#000" filter="url(#gz52)"/>
<path d="M332.4 1644.7L457.7 1644.7L457.7 1666.1L332.4 1666.1Z" fill="#bababa"/>
<line x1="332.4" y1="1644.7" x2="457.7" y2="1644.7" stroke="#1c1c1c" stroke-width="1.2"/>
<line x1="332.4" y1="1666.1" x2="457.7" y2="1666.1" stroke="#1c1c1c" stroke-width="1.2"/>
</g>
<g clip-path="url(#cr53)">
<rect x="464.2" y="1589" width="125.3" height="131.7" fill="#a6a6a6"/>
<rect x="464.2" y="1589" width="125.3" height="131.7" fill="#000" filter="url(#gz54)"/>
<path d="M464.2 1639.4L589.5 1639.4L589.5 1666.1L464.2 1666.1Z" fill="#c0c0c0"/>
<line x1="464.2" y1="1639.4" x2="589.5" y2="1639.4" stroke="#1c1c1c" stroke-width="1.2"/>
<line x1="464.2" y1="1666.1" x2="589.5" y2="1666.1" stroke="#1c1c1c" stroke-width="1.2"/>
</g>
<g clip-path="url(#cr55)">
<rect x="603.7" y="1309.7" width="125.3" height="131.6" fill="#b2b2b2"/>
<rect x="603.7" y="1309.7" width="125.3" height="131.6" fill="#000" filter="url(#gz56)"/>
<path d="M603.7 1363.4L729 1362.3L729 1393.5L603.7 1397.9Z" fill="#cdcdcd"/>
<line x1="603.7" y1="1363.4" x2="729" y2="1362.3" stroke="#1c1c1c" stroke-width="1.2"/>
<line x1="603.7" y1="1397.9" x2="729" y2="1393.5" stroke="#1c1c1c" stroke-width="1.2"/>
</g>
<g clip-path="url(#cr57)">
<rect x="734.6" y="1310.8" width="125.2" height="130.5" fill="#b4b4b4"/>
<rect x="734.6" y="1310.8" width="125.2" height="130.5" fill="#000" filter="url(#gz58)"/>
<path d="M734.6 1371.2L859.8 1366.4L859.8 1397.5L734.6 1400.1Z" fill="#cbcbcb"/>
<line x1="734.6" y1="1371.2" x2="859.8" y2="1366.4" stroke="#1c1c1c" stroke-width="1.2"/>
<line x1="734.6" y1="1400.1" x2="859.8" y2="1397.5" stroke="#1c1c1c" stroke-width="1.2"/>
</g>
<g clip-path="url(#cr59)">
<rect x="866.1" y="1309.7" width="124.9" height="131.6" fill="#b4b4b4"/>
<rect x="866.1" y="1309.7" width="124.9" height="131.6" fill="#000" filter="url(#gz60)"/>
<path d="M866.1 1367.1L991 1364.2L991 1393.8L866.1 1396.8Z" fill="#cecece"/>
<line x1="866.1" y1="1367.1" x2="991" y2="1364.2" stroke="#1c1c1c" stroke-width="1.2"/>
<line x1="866.1" y1="1396.8" x2="991" y2="1393.8" stroke="#1c1c1c" stroke-width="1.2"/>
</g>
<g clip-path="url(#cr61)">
<rect x="997" y="1309.7" width="124.9" height="131.6" fill="#b2b2b2"/>
<rect x="997" y="1309.7" width="124.9" height="131.6" fill="#000" filter="url(#gz62)"/>
<path d="M997 1367.1L1121.9 1363.4L1121.9 1396L997 1398.6Z" fill="#cbcbcb"/>
<line x1="997" y1="1367.1" x2="1121.9" y2="1363.4" stroke="#1c1c1c" stroke-width="1.2"/>
<line x1="997" y1="1398.6" x2="1121.9" y2="1396" stroke="#1c1c1c" stroke-width="1.2"/>
</g>
<g clip-path="url(#cr63)">
<rect x="603.7" y="1448.7" width="125.3" height="132.3" fill="#bdbdbd"/>
<rect x="603.7" y="1448.7" width="125.3" height="132.3" fill="#000" filter="url(#gz64)"/>
<path d="M603.7 1506.9L729 1504.3L729 1526.5L603.7 1530.2Z" fill="#d2d2d2"/>
<line x1="603.7" y1="1506.9" x2="729" y2="1504.3" stroke="#1c1c1c" stroke-width="1.2"/>
<line x1="603.7" y1="1530.2" x2="729" y2="1526.5" stroke="#1c1c1c" stroke-width="1.2"/>
</g>
<g clip-path="url(#cr65)">
<rect x="734.6" y="1448.7" width="125.2" height="132.3" fill="#a9a9a9"/>
<rect x="734.6" y="1448.7" width="125.2" height="132.3" fill="#000" filter="url(#gz66)"/>
<path d="M734.6 1502.4L859.8 1498.7L859.8 1528.4L734.6 1531Z" fill="#c8c8c8"/>
<line x1="734.6" y1="1502.4" x2="859.8" y2="1498.7" stroke="#1c1c1c" stroke-width="1.2"/>
<line x1="734.6" y1="1531" x2="859.8" y2="1528.4" stroke="#1c1c1c" stroke-width="1.2"/>
</g>
<g clip-path="url(#cr67)">
<rect x="866.1" y="1448.7" width="124.9" height="132.3" fill="#ababab"/>
<rect x="866.1" y="1448.7" width="124.9" height="132.3" fill="#000" filter="url(#gz68)"/>
<path d="M866.1 1507.2L991 1505L991 1530.2L866.1 1532Z" fill="#c9c9c9"/>
<line x1="866.1" y1="1507.2" x2="991" y2="1505" stroke="#1c1c1c" stroke-width="1.2"/>
<line x1="866.1" y1="1532" x2="991" y2="1530.2" stroke="#1c1c1c" stroke-width="1.2"/>
</g>
<g clip-path="url(#cr69)">
<rect x="997" y="1448.7" width="124.9" height="132.3" fill="#bebebe"/>
<rect x="997" y="1448.7" width="124.9" height="132.3" fill="#000" filter="url(#gz70)"/>
<path d="M997 1505L1121.9 1502.4L1121.9 1526.5L997 1528.7Z" fill="#d4d4d4"/>
<line x1="997" y1="1505" x2="1121.9" y2="1502.4" stroke="#1c1c1c" stroke-width="1.2"/>
<line x1="997" y1="1528.7" x2="1121.9" y2="1526.5" stroke="#1c1c1c" stroke-width="1.2"/>
</g>
<g clip-path="url(#cr71)">
<rect x="603.7" y="1587.7" width="125.3" height="133.4" fill="#bababa"/>
<rect x="603.7" y="1587.7" width="125.3" height="133.4" fill="#000" filter="url(#gz72)"/>
<path d="M603.7 1656.2L729 1654.4L729 1668.5L603.7 1670Z" fill="#dadada"/>
<line x1="603.7" y1="1656.2" x2="729" y2="1654.4" stroke="#1c1c1c" stroke-width="1.2"/>
<line x1="603.7" y1="1670" x2="729" y2="1668.5" stroke="#1c1c1c" stroke-width="1.2"/>
</g>
<g clip-path="url(#cr73)">
<rect x="734.6" y="1587.7" width="125.2" height="133.4" fill="#c8c8c8"/>
<rect x="734.6" y="1587.7" width="125.2" height="133.4" fill="#000" filter="url(#gz74)"/>
<path d="M734.6 1645.9L859.8 1642.2L859.8 1663.7L734.6 1666.3Z" fill="#e6e6e6"/>
<line x1="734.6" y1="1645.9" x2="859.8" y2="1642.2" stroke="#1c1c1c" stroke-width="1.2"/>
<line x1="734.6" y1="1666.3" x2="859.8" y2="1663.7" stroke="#1c1c1c" stroke-width="1.2"/>
</g>
<g clip-path="url(#cr75)">
<rect x="866.1" y="1587.7" width="124.9" height="133.4" fill="#b9b9b9"/>
<rect x="866.1" y="1587.7" width="124.9" height="133.4" fill="#000" filter="url(#gz76)"/>
<path d="M866.1 1653.3L991 1651.4L991 1660.7L866.1 1664.4Z" fill="#dadada"/>
<line x1="866.1" y1="1653.3" x2="991" y2="1651.4" stroke="#1c1c1c" stroke-width="1.2"/>
<line x1="866.1" y1="1664.4" x2="991" y2="1660.7" stroke="#1c1c1c" stroke-width="1.2"/>
</g>
<g clip-path="url(#cr77)">
<rect x="997" y="1587.7" width="124.9" height="133.4" fill="#b9b9b9"/>
<rect x="997" y="1587.7" width="124.9" height="133.4" fill="#000" filter="url(#gz78)"/>
<path d="M997 1660.7L1121.9 1655.1L1121.9 1668.5L997 1674Z" fill="#d6d6d6"/>
<line x1="997" y1="1660.7" x2="1121.9" y2="1655.1" stroke="#1c1c1c" stroke-width="1.2"/>
<line x1="997" y1="1674" x2="1121.9" y2="1668.5" stroke="#1c1c1c" stroke-width="1.2"/>
</g>
<text x="902" y="1876.4" font-size="18.5" text-anchor="middle" stroke="#000" stroke-width="0.3">LNCaP</text>
<line x1="728.8" y1="1885" x2="728.8" y2="2116.9" stroke="#000" stroke-width="2.6"/>
<line x1="718.3" y1="1886.3" x2="728.8" y2="1886.3" stroke="#000" stroke-width="2.6"/>
<text x="715.3" y="1893.5" font-size="20" text-anchor="end" stroke="#000" stroke-width="0.3">50</text>
<line x1="718.3" y1="1932.2" x2="728.8" y2="1932.2" stroke="#000" stroke-width="2.6"/>
<text x="715.3" y="1939.4" font-size="20" text-anchor="end" stroke="#000" stroke-width="0.3">40</text>
<line x1="718.3" y1="1978" x2="728.8" y2="1978" stroke="#000" stroke-width="2.6"/>
<text x="715.3" y="1985.2" font-size="20" text-anchor="end" stroke="#000" stroke-width="0.3">30</text>
<line x1="718.3" y1="2023.9" x2="728.8" y2="2023.9" stroke="#000" stroke-width="2.6"/>
<text x="715.3" y="2031.1" font-size="20" text-anchor="end" stroke="#000" stroke-width="0.3">20</text>
<line x1="718.3" y1="2069.7" x2="728.8" y2="2069.7" stroke="#000" stroke-width="2.6"/>
<text x="715.3" y="2076.9" font-size="20" text-anchor="end" stroke="#000" stroke-width="0.3">10</text>
<line x1="718.3" y1="2115.6" x2="728.8" y2="2115.6" stroke="#000" stroke-width="2.6"/>
<text x="715.3" y="2122.8" font-size="20" text-anchor="end" stroke="#000" stroke-width="0.3">0</text>
<line x1="718" y1="2115.6" x2="1081" y2="2115.6" stroke="#000" stroke-width="2.6"/>
<line x1="747.6" y1="1943.6" x2="747.6" y2="1939" stroke="#000" stroke-width="1.5"/>
<line x1="742.6" y1="1939" x2="752.6" y2="1939" stroke="#000" stroke-width="1.5"/>
<rect x="738.4" y="1943.6" width="18.4" height="172" fill="#FDD19F" stroke="#222" stroke-width="1.5"/>
<line x1="772.2" y1="1925.3" x2="772.2" y2="1918.4" stroke="#000" stroke-width="1.5"/>
<line x1="767.1" y1="1918.4" x2="777.3" y2="1918.4" stroke="#000" stroke-width="1.5"/>
<rect x="762.7" y="1925.3" width="19" height="190.3" fill="#4040FF" stroke="#222" stroke-width="1.5"/>
<line x1="796.8" y1="1959.7" x2="796.8" y2="1952.3" stroke="#000" stroke-width="1.5"/>
<line x1="791.7" y1="1952.3" x2="802" y2="1952.3" stroke="#000" stroke-width="1.5"/>
<rect x="787.4" y="1959.7" width="18.9" height="155.9" fill="#42FFFF" stroke="#222" stroke-width="1.5"/>
<line x1="821.4" y1="1941.3" x2="821.4" y2="1930.3" stroke="#000" stroke-width="1.5"/>
<line x1="816.3" y1="1930.3" x2="826.4" y2="1930.3" stroke="#000" stroke-width="1.5"/>
<rect x="812" y="1941.3" width="18.7" height="174.3" fill="#FF4242" stroke="#222" stroke-width="1.5"/>
<line x1="865.6" y1="2014.7" x2="865.6" y2="2004.2" stroke="#000" stroke-width="1.5"/>
<line x1="860.5" y1="2004.2" x2="870.7" y2="2004.2" stroke="#000" stroke-width="1.5"/>
<rect x="856.1" y="2014.7" width="19" height="100.9" fill="#FDD19F" stroke="#222" stroke-width="1.5"/>
<line x1="890.2" y1="1988.1" x2="890.2" y2="1978.9" stroke="#000" stroke-width="1.5"/>
<line x1="885.1" y1="1978.9" x2="895.4" y2="1978.9" stroke="#000" stroke-width="1.5"/>
<rect x="880.8" y="1988.1" width="18.9" height="127.5" fill="#4040FF" stroke="#222" stroke-width="1.5"/>
<line x1="914.8" y1="2029.4" x2="914.8" y2="2022.5" stroke="#000" stroke-width="1.5"/>
<line x1="909.7" y1="2022.5" x2="919.8" y2="2022.5" stroke="#000" stroke-width="1.5"/>
<rect x="905.4" y="2029.4" width="18.7" height="86.2" fill="#42FFFF" stroke="#222" stroke-width="1.5"/>
<line x1="939.2" y1="2002.3" x2="939.2" y2="1994.1" stroke="#000" stroke-width="1.5"/>
<line x1="934.1" y1="1994.1" x2="944.3" y2="1994.1" stroke="#000" stroke-width="1.5"/>
<rect x="929.7" y="2002.3" width="19" height="113.3" fill="#FF4242" stroke="#222" stroke-width="1.5"/>
<line x1="983.7" y1="1989.9" x2="983.7" y2="1980.8" stroke="#000" stroke-width="1.5"/>
<line x1="978.5" y1="1980.8" x2="988.8" y2="1980.8" stroke="#000" stroke-width="1.5"/>
<rect x="974.2" y="1989.9" width="18.9" height="125.7" fill="#FDD19F" stroke="#222" stroke-width="1.5"/>
<line x1="1008.1" y1="2025.3" x2="1008.1" y2="2020.2" stroke="#000" stroke-width="1.5"/>
<line x1="1003.1" y1="2020.2" x2="1013.2" y2="2020.2" stroke="#000" stroke-width="1.5"/>
<rect x="998.8" y="2025.3" width="18.7" height="90.3" fill="#4040FF" stroke="#222" stroke-width="1.5"/>
<line x1="1032.9" y1="1967.5" x2="1032.9" y2="1961.5" stroke="#000" stroke-width="1.5"/>
<line x1="1027.9" y1="1961.5" x2="1037.9" y2="1961.5" stroke="#000" stroke-width="1.5"/>
<rect x="1023.7" y="1967.5" width="18.4" height="148.1" fill="#42FFFF" stroke="#222" stroke-width="1.5"/>
<line x1="1057.2" y1="2007.4" x2="1057.2" y2="2003.7" stroke="#000" stroke-width="1.5"/>
<line x1="1052.1" y1="2003.7" x2="1062.4" y2="2003.7" stroke="#000" stroke-width="1.5"/>
<rect x="1047.8" y="2007.4" width="18.9" height="108.2" fill="#FF4242" stroke="#222" stroke-width="1.5"/>
<line x1="783.7" y1="2115.6" x2="783.7" y2="2125.5" stroke="#000" stroke-width="2.6"/>
<text x="783.7" y="2144.7" font-size="19" text-anchor="middle" stroke="#000" stroke-width="0.3">G0/G1</text>
<line x1="902" y1="2115.6" x2="902" y2="2125.5" stroke="#000" stroke-width="2.6"/>
<text x="902" y="2144.7" font-size="19" text-anchor="middle" stroke="#000" stroke-width="0.3">S</text>
<line x1="1020" y1="2115.6" x2="1020" y2="2125.5" stroke="#000" stroke-width="2.6"/>
<text x="1020" y="2144.7" font-size="19" text-anchor="middle" stroke="#000" stroke-width="0.3">G2/M</text>
<rect x="731.6" y="1886.3" width="24.1" height="7.1" fill="#FDD19F" stroke="#222" stroke-width="1.2"/>
<text x="770.4" y="1894.8" font-size="15.5" stroke="#000" stroke-width="0.3">NC</text>
<rect x="731.6" y="1899" width="24.1" height="7.7" fill="#42FFFF" stroke="#222" stroke-width="1.2"/>
<text x="770.4" y="1908.4" font-size="15.5" stroke="#000" stroke-width="0.3">NC+DHT</text>
<rect x="849.6" y="1886.3" width="24.1" height="7.1" fill="#4040FF" stroke="#222" stroke-width="1.2"/>
<text x="887.8" y="1894.8" font-size="15.5" stroke="#000" stroke-width="0.3">siR-FAM64A</text>
<rect x="849.6" y="1899" width="24.1" height="7.7" fill="#FF4242" stroke="#222" stroke-width="1.2"/>
<text x="887.8" y="1908.4" font-size="15.5" stroke="#000" stroke-width="0.3">siR-FAM64A+DHT</text>
<line x1="750.6" y1="1916" x2="797.3" y2="1916" stroke="#000" stroke-width="1.4"/>
<text x="774.6" y="1918.4" font-size="18" text-anchor="middle" letter-spacing="1.2" stroke="#000" stroke-width="0.45">*</text>
<line x1="864.4" y1="1971.2" x2="888.7" y2="1971.2" stroke="#000" stroke-width="1.4"/>
<text x="877.1" y="1976.5" font-size="16" text-anchor="middle" letter-spacing="1.2" stroke="#000" stroke-width="0.45">***</text>
<line x1="911.3" y1="1971.2" x2="935.4" y2="1971.2" stroke="#000" stroke-width="1.4"/>
<text x="923.9" y="1976.5" font-size="16" text-anchor="middle" letter-spacing="1.2" stroke="#000" stroke-width="0.45">***</text>
<line x1="986" y1="1940.7" x2="1055.4" y2="1940.7" stroke="#000" stroke-width="1.4"/>
<text x="1008.6" y="1946" font-size="16" text-anchor="middle" letter-spacing="1.2" stroke="#000" stroke-width="0.45">**</text>
<text x="1043.1" y="1946" font-size="16" text-anchor="middle" letter-spacing="1.2" stroke="#000" stroke-width="0.45">***</text>
<line x1="986" y1="1955.1" x2="1011" y2="1955.1" stroke="#000" stroke-width="1.4"/>
<text x="999.1" y="1960.4" font-size="16" text-anchor="middle" letter-spacing="1.2" stroke="#000" stroke-width="0.45">***</text>
<line x1="1013.2" y1="1955.1" x2="1056.2" y2="1955.1" stroke="#000" stroke-width="1.4"/>
<text x="1035.3" y="1960.4" font-size="16" text-anchor="middle" letter-spacing="1.2" stroke="#000" stroke-width="0.45">*</text>
<text x="690" y="2003.8" font-size="19.5" text-anchor="middle" transform="rotate(-90 690 2003.8)" stroke="#000" stroke-width="0.3">Percentage of Cells<tspan font-family="'Liberation Sans', 'Noto Sans CJK SC', sans-serif">&#65288; % &#65289;</tspan></text>
<text x="1307.7" y="1877" font-size="18.5" text-anchor="middle" stroke="#000" stroke-width="0.3">22Rv1</text>
<line x1="1130.3" y1="1883.9" x2="1130.3" y2="2118" stroke="#000" stroke-width="2.6"/>
<line x1="1119.8" y1="1885.2" x2="1130.3" y2="1885.2" stroke="#000" stroke-width="2.6"/>
<text x="1116.8" y="1892.4" font-size="20" text-anchor="end" stroke="#000" stroke-width="0.3">50</text>
<line x1="1119.8" y1="1931.5" x2="1130.3" y2="1931.5" stroke="#000" stroke-width="2.6"/>
<text x="1116.8" y="1938.7" font-size="20" text-anchor="end" stroke="#000" stroke-width="0.3">40</text>
<line x1="1119.8" y1="1977.8" x2="1130.3" y2="1977.8" stroke="#000" stroke-width="2.6"/>
<text x="1116.8" y="1985" font-size="20" text-anchor="end" stroke="#000" stroke-width="0.3">30</text>
<line x1="1119.8" y1="2024.1" x2="1130.3" y2="2024.1" stroke="#000" stroke-width="2.6"/>
<text x="1116.8" y="2031.3" font-size="20" text-anchor="end" stroke="#000" stroke-width="0.3">20</text>
<line x1="1119.8" y1="2070.4" x2="1130.3" y2="2070.4" stroke="#000" stroke-width="2.6"/>
<text x="1116.8" y="2077.6" font-size="20" text-anchor="end" stroke="#000" stroke-width="0.3">10</text>
<line x1="1119.8" y1="2116.7" x2="1130.3" y2="2116.7" stroke="#000" stroke-width="2.6"/>
<text x="1116.8" y="2123.9" font-size="20" text-anchor="end" stroke="#000" stroke-width="0.3">0</text>
<line x1="1120.7" y1="2116.7" x2="1488" y2="2116.7" stroke="#000" stroke-width="2.6"/>
<line x1="1150.3" y1="1986.6" x2="1150.3" y2="1977.8" stroke="#000" stroke-width="1.5"/>
<line x1="1145.3" y1="1977.8" x2="1155.4" y2="1977.8" stroke="#000" stroke-width="1.5"/>
<rect x="1141" y="1986.6" width="18.7" height="130.1" fill="#FDD19F" stroke="#222" stroke-width="1.5"/>
<line x1="1175.5" y1="2034.3" x2="1175.5" y2="2022.7" stroke="#000" stroke-width="1.5"/>
<line x1="1170.4" y1="2022.7" x2="1180.7" y2="2022.7" stroke="#000" stroke-width="1.5"/>
<rect x="1166.1" y="2034.3" width="18.9" height="82.4" fill="#4040FF" stroke="#222" stroke-width="1.5"/>
<line x1="1200.6" y1="1984.3" x2="1200.6" y2="1972.7" stroke="#000" stroke-width="1.5"/>
<line x1="1195.6" y1="1972.7" x2="1205.6" y2="1972.7" stroke="#000" stroke-width="1.5"/>
<rect x="1191.4" y="1984.3" width="18.4" height="132.4" fill="#42FFFF" stroke="#222" stroke-width="1.5"/>
<line x1="1225.6" y1="2019.5" x2="1225.6" y2="2009.7" stroke="#000" stroke-width="1.5"/>
<line x1="1220.6" y1="2009.7" x2="1230.6" y2="2009.7" stroke="#000" stroke-width="1.5"/>
<rect x="1216.4" y="2019.5" width="18.4" height="97.2" fill="#FF4242" stroke="#222" stroke-width="1.5"/>
<line x1="1270.8" y1="2022.2" x2="1270.8" y2="2017.6" stroke="#000" stroke-width="1.5"/>
<line x1="1265.8" y1="2017.6" x2="1275.9" y2="2017.6" stroke="#000" stroke-width="1.5"/>
<rect x="1261.5" y="2022.2" width="18.7" height="94.5" fill="#FDD19F" stroke="#222" stroke-width="1.5"/>
<line x1="1296.2" y1="2014.8" x2="1296.2" y2="2006.5" stroke="#000" stroke-width="1.5"/>
<line x1="1291.1" y1="2006.5" x2="1301.2" y2="2006.5" stroke="#000" stroke-width="1.5"/>
<rect x="1286.8" y="2014.8" width="18.7" height="101.9" fill="#4040FF" stroke="#222" stroke-width="1.5"/>
<line x1="1320.8" y1="2017.2" x2="1320.8" y2="2001.4" stroke="#000" stroke-width="1.5"/>
<line x1="1315.8" y1="2001.4" x2="1325.9" y2="2001.4" stroke="#000" stroke-width="1.5"/>
<rect x="1311.5" y="2017.2" width="18.7" height="99.5" fill="#42FFFF" stroke="#222" stroke-width="1.5"/>
<line x1="1346" y1="2025" x2="1346" y2="2016.7" stroke="#000" stroke-width="1.5"/>
<line x1="1340.9" y1="2016.7" x2="1351.1" y2="2016.7" stroke="#000" stroke-width="1.5"/>
<rect x="1336.5" y="2025" width="19" height="91.7" fill="#FF4242" stroke="#222" stroke-width="1.5"/>
<line x1="1390.9" y1="1950.9" x2="1390.9" y2="1944.5" stroke="#000" stroke-width="1.5"/>
<line x1="1385.9" y1="1944.5" x2="1396" y2="1944.5" stroke="#000" stroke-width="1.5"/>
<rect x="1381.6" y="1950.9" width="18.7" height="165.8" fill="#FDD19F" stroke="#222" stroke-width="1.5"/>
<line x1="1416.1" y1="1988" x2="1416.1" y2="1981.5" stroke="#000" stroke-width="1.5"/>
<line x1="1411" y1="1981.5" x2="1421.2" y2="1981.5" stroke="#000" stroke-width="1.5"/>
<rect x="1406.6" y="1988" width="19" height="128.7" fill="#4040FF" stroke="#222" stroke-width="1.5"/>
<line x1="1441.2" y1="1926.9" x2="1441.2" y2="1921.3" stroke="#000" stroke-width="1.5"/>
<line x1="1436.2" y1="1921.3" x2="1446.3" y2="1921.3" stroke="#000" stroke-width="1.5"/>
<rect x="1431.9" y="1926.9" width="18.7" height="189.8" fill="#42FFFF" stroke="#222" stroke-width="1.5"/>
<line x1="1466.1" y1="1968.1" x2="1466.1" y2="1961.6" stroke="#000" stroke-width="1.5"/>
<line x1="1461" y1="1961.6" x2="1471.1" y2="1961.6" stroke="#000" stroke-width="1.5"/>
<rect x="1456.7" y="1968.1" width="18.7" height="148.6" fill="#FF4242" stroke="#222" stroke-width="1.5"/>
<line x1="1187.2" y1="2116.7" x2="1187.2" y2="2126.5" stroke="#000" stroke-width="2.6"/>
<text x="1187.2" y="2145.9" font-size="19" text-anchor="middle" stroke="#000" stroke-width="0.3">G0/G1</text>
<line x1="1307.7" y1="2116.7" x2="1307.7" y2="2126.5" stroke="#000" stroke-width="2.6"/>
<text x="1307.7" y="2145.9" font-size="19" text-anchor="middle" stroke="#000" stroke-width="0.3">S</text>
<line x1="1428.4" y1="2116.7" x2="1428.4" y2="2126.5" stroke="#000" stroke-width="2.6"/>
<text x="1428.4" y="2145.9" font-size="19" text-anchor="middle" stroke="#000" stroke-width="0.3">G2/M</text>
<rect x="1138.6" y="1888" width="24.7" height="7.7" fill="#FDD19F" stroke="#222" stroke-width="1.2"/>
<text x="1178.2" y="1896.8" font-size="15.7" stroke="#000" stroke-width="0.3">NC</text>
<rect x="1138.6" y="1903.1" width="24.7" height="8.3" fill="#4040FF" stroke="#222" stroke-width="1.2"/>
<text x="1178.2" y="1912.2" font-size="15.7" stroke="#000" stroke-width="0.3">siR-FAM64A</text>
<rect x="1269.2" y="1888" width="24.4" height="7.7" fill="#42FFFF" stroke="#222" stroke-width="1.2"/>
<text x="1308.2" y="1896.8" font-size="15.7" stroke="#000" stroke-width="0.3">NC+DHT</text>
<rect x="1269.2" y="1903.1" width="24.4" height="8.3" fill="#FF4242" stroke="#222" stroke-width="1.2"/>
<text x="1308.2" y="1912.2" font-size="15.7" stroke="#000" stroke-width="0.3">siR-FAM64A+DHT</text>
<line x1="1155.6" y1="1967.7" x2="1180.9" y2="1967.7" stroke="#000" stroke-width="1.4"/>
<text x="1168.8" y="1973" font-size="16" text-anchor="middle" letter-spacing="1.2" stroke="#000" stroke-width="0.45">***</text>
<line x1="1172.1" y1="1954" x2="1219.4" y2="1954" stroke="#000" stroke-width="1.4"/>
<text x="1196.3" y="1956.4" font-size="18" text-anchor="middle" letter-spacing="1.2" stroke="#000" stroke-width="0.45">*</text>
<line x1="1207.9" y1="1967.7" x2="1232.6" y2="1967.7" stroke="#000" stroke-width="1.4"/>
<text x="1220.8" y="1973" font-size="16" text-anchor="middle" letter-spacing="1.2" stroke="#000" stroke-width="0.45">***</text>
<line x1="1392" y1="1919" x2="1438.8" y2="1919" stroke="#000" stroke-width="1.4"/>
<text x="1416" y="1921.4" font-size="18" text-anchor="middle" letter-spacing="1.2" stroke="#000" stroke-width="0.45">*</text>
<line x1="1441.6" y1="1919" x2="1466.9" y2="1919" stroke="#000" stroke-width="1.4"/>
<text x="1454.8" y="1924.3" font-size="16" text-anchor="middle" letter-spacing="1.2" stroke="#000" stroke-width="0.45">***</text>
<line x1="1395.4" y1="1934.7" x2="1420.9" y2="1934.7" stroke="#000" stroke-width="1.4"/>
<text x="1408.8" y="1940" font-size="16" text-anchor="middle" letter-spacing="1.2" stroke="#000" stroke-width="0.45">***</text>
<text x="1094" y="1998.5" font-size="19.5" text-anchor="middle" transform="rotate(-90 1094 1998.5)" stroke="#000" stroke-width="0.3">Percentage of Cells<tspan font-family="'Liberation Sans', 'Noto Sans CJK SC', sans-serif">&#65288; % &#65289;</tspan></text>
<text x="48.9" y="1804.8" font-size="25" stroke="#000" stroke-width="0.3">g</text>
<text x="236.6" y="1816.7" font-size="25" text-anchor="middle" stroke="#000" stroke-width="0.3">LNCaP</text>
<text x="0" y="1838.9" font-size="25.5" stroke="#000" stroke-width="0.3">DHT</text>
<text x="0" y="1866.5" font-size="21.3" stroke="#000" stroke-width="0.3">(10nM)</text>
<line x1="132.5" y1="1830" x2="150.3" y2="1830" stroke="#000" stroke-width="1.3"/>
<text x="292.6" y="1839.7" font-size="27" text-anchor="middle" font-family="'Liberation Sans', 'Noto Sans CJK SC', sans-serif" font-weight="300">&#65291;</text>
<line x1="435.8" y1="1830" x2="454.5" y2="1830" stroke="#000" stroke-width="1.8"/>
<text x="572.8" y="1840.8" font-size="30" text-anchor="middle" font-family="'Liberation Sans', 'Noto Sans CJK SC', sans-serif" font-weight="300">&#65291;</text>
<text x="59" y="1904.7" font-size="26.5" text-anchor="middle" transform="rotate(-90 59 1904.7)" stroke="#000" stroke-width="0.3">NC</text>
<text x="59" y="2042.6" font-size="26.5" text-anchor="middle" transform="rotate(-90 59 2042.6)" stroke="#000" stroke-width="0.3">siR-FAM64A</text>
<rect x="94.4" y="1854" width="128.9" height="129.3" fill="#fff" stroke="#9a9a9a" stroke-width="0.8"/>
<path d="M119.4 1982.5L119.4 1982.5L119.9 1982.4L120.4 1982.3L120.9 1982.1L121.4 1981.7L121.9 1981.1L122.4 1980.1L122.9 1978.5L123.4 1976L123.9 1972.3L124.4 1967.1L124.9 1960.1L125.4 1951.1L125.9 1940.1L126.4 1927.4L126.9 1913.5L127.4 1899.1L127.9 1885.5L128.4 1873.7L128.9 1864.9L129.4 1860L129.9 1859.1L130.4 1861.9L130.9 1868.7L131.4 1878.9L131.9 1891.1L131.9 1982.5Z" fill="#a9acf6"/>
<path d="M132.4 1982.5L132.4 1904.3L132.9 1917.3L133.4 1929.3L133.9 1940.1L134.4 1949.6L134.9 1957.1L135.4 1962.7L135.9 1966.8L136.4 1969.6L136.9 1971.5L137.4 1972.7L137.9 1973.5L138.4 1974L138.9 1974.3L139.4 1974.5L139.9 1974.6L140.4 1974.7L140.9 1974.8L141.4 1974.8L141.9 1974.8L142.4 1974.9L142.9 1974.9L143.4 1974.9L143.9 1974.9L144.4 1974.9L144.9 1974.8L145.4 1974.7L145.9 1974.6L146.4 1974.5L146.9 1974.3L147.4 1974.1L147.9 1973.8L148.4 1973.4L148.9 1972.9L149.4 1972.3L149.9 1971.6L150.4 1970.8L150.9 1969.8L151.4 1968.6L151.9 1967.3L152.4 1965.8L152.9 1964.1L153.4 1962.2L153.9 1960.2L154.4 1958.1L154.9 1956.4L155.4 1954.8L155.4 1982.5Z" fill="#6ff06f"/>
<path d="M155.9 1982.5L155.9 1953.2L156.4 1951.6L156.9 1950.2L157.4 1948.8L157.9 1947.7L158.4 1946.8L158.9 1946.3L159.4 1946L159.9 1946.2L160.4 1946.7L160.9 1947L161.4 1947.5L161.9 1948.4L162.4 1949.6L162.9 1951.1L163.4 1952.8L163.9 1954.8L164.4 1956.9L164.9 1959.1L165.4 1961.4L165.9 1963.6L166.4 1965.8L166.9 1967.9L167.4 1969.8L167.9 1971.7L168.4 1973.3L168.9 1974.8L169.4 1976.1L169.9 1977.3L170.4 1978.3L170.9 1979.1L171.4 1979.8L171.9 1980.4L172.4 1980.9L172.9 1981.2L173.4 1981.5L173.9 1981.8L174.4 1982L174.9 1982.1L175.4 1982.2L175.4 1982.5Z" fill="#f4a3a3"/>
<path d="M95.4 1982.5L95.9 1982.5L96.4 1982.5L96.9 1982.5L97.4 1982.5L97.9 1982.5L98.4 1982.5L98.9 1982.5L99.4 1982.5L99.9 1982.5L100.4 1982.5L100.9 1982.5L101.4 1982.5L101.9 1982.5L102.4 1982.5L102.9 1982.5L103.4 1982.5L103.9 1982.5L104.4 1982.5L104.9 1982.5L105.4 1982.5L105.9 1982.5L106.4 1982.5L106.9 1982.5L107.4 1982.5L107.9 1982.5L108.4 1982.5L108.9 1982.5L109.4 1982.5L109.9 1982.5L110.4 1982.5L110.9 1982.5L111.4 1982.5L111.9 1982.5L112.4 1982.5L112.9 1982.5L113.4 1982.5L113.9 1982.5L114.4 1982.5L114.9 1982.5L115.4 1982.5L115.9 1982.5L116.4 1982.5L116.9 1982.5L117.4 1982.5L117.9 1982.5L118.4 1982.5L118.9 1982.5L119.4 1982.5L119.9 1982.4L120.4 1982.3L120.9 1982.1L121.4 1981.7L121.9 1981.1L122.4 1980.1L122.9 1978.5L123.4 1976L123.9 1972.3L124.4 1967.1L124.9 1960.1L125.4 1951.1L125.9 1940.1L126.4 1927.4L126.9 1913.5L127.4 1899.1L127.9 1885.5L128.4 1873.7L128.9 1864.9L129.4 1860L129.9 1859.1L130.4 1861.9L130.9 1868.7L131.4 1878.9L131.9 1891.1L132.4 1904.3L132.9 1917.3L133.4 1929.3L133.9 1940.1L134.4 1949.6L134.9 1957.1L135.4 1962.7L135.9 1966.8L136.4 1969.6L136.9 1971.5L137.4 1972.7L137.9 1973.5L138.4 1974L138.9 1974.3L139.4 1974.5L139.9 1974.6L140.4 1974.7L140.9 1974.8L141.4 1974.8L141.9 1974.8L142.4 1974.9L142.9 1974.9L143.4 1974.9L143.9 1974.9L144.4 1974.9L144.9 1974.8L145.4 1974.7L145.9 1974.6L146.4 1974.5L146.9 1974.3L147.4 1974.1L147.9 1973.8L148.4 1973.4L148.9 1972.9L149.4 1972.3L149.9 1971.6L150.4 1970.8L150.9 1969.8L151.4 1968.6L151.9 1967.3L152.4 1965.8L152.9 1964.1L153.4 1962.2L153.9 1960.2L154.4 1958.1L154.9 1956.4L155.4 1954.8L155.9 1953.2L156.4 1951.6L156.9 1950.2L157.4 1948.8L157.9 1947.7L158.4 1946.8L158.9 1946.3L159.4 1946L159.9 1946.2L160.4 1946.7L160.9 1947L161.4 1947.5L161.9 1948.4L162.4 1949.6L162.9 1951.1L163.4 1952.8L163.9 1954.8L164.4 1956.9L164.9 1959.1L165.4 1961.4L165.9 1963.6L166.4 1965.8L166.9 1967.9L167.4 1969.8L167.9 1971.7L168.4 1973.3L168.9 1974.8L169.4 1976.1L169.9 1977.3L170.4 1978.3L170.9 1979.1L171.4 1979.8L171.9 1980.4L172.4 1980.9L172.9 1981.2L173.4 1981.5L173.9 1981.8L174.4 1982L174.9 1982.1L175.4 1982.2L175.9 1982.3L176.4 1982.4L176.9 1982.4L177.4 1982.4L177.9 1982.5L178.4 1982.5L178.9 1982.5L179.4 1982.5L179.9 1982.5L180.4 1982.5L180.9 1982.5L181.4 1982.5L181.9 1982.5L182.4 1982.5L182.9 1982.5L183.4 1982.5L183.9 1982.5L184.4 1982.5L184.9 1982.5L185.4 1982.5L185.9 1982.5L186.4 1982.5L186.9 1982.5L187.4 1982.5L187.9 1982.5L188.4 1982.5L188.9 1982.5L189.4 1982.5L189.9 1982.5L190.4 1982.5L190.9 1982.5L191.4 1982.5L191.9 1982.5L192.4 1982.5L192.9 1982.5L193.4 1982.5L193.9 1982.5L194.4 1982.5L194.9 1982.5L195.4 1982.5L195.9 1982.5L196.4 1982.5L196.9 1982.5L197.4 1982.5L197.9 1982.5L198.4 1982.5L198.9 1982.5L199.4 1982.5L199.9 1982.5L200.4 1982.5L200.9 1982.5L201.4 1982.5L201.9 1982.5L202.4 1982.5L202.9 1982.5L203.4 1982.5L203.9 1982.5L204.4 1982.5L204.9 1982.5L205.4 1982.5L205.9 1982.5L206.4 1982.5L206.9 1982.5L207.4 1982.5L207.9 1982.5L208.4 1982.5L208.9 1982.5L209.4 1982.5L209.9 1982.5L210.4 1982.5L210.9 1982.5L211.4 1982.5L211.9 1982.5L212.4 1982.5L212.9 1982.5L213.4 1982.5L213.9 1982.5L214.4 1982.5L214.9 1982.5L215.4 1982.5L215.9 1982.5L216.4 1982.5L216.9 1982.5L217.4 1982.5L217.9 1982.5L218.4 1982.5L218.9 1982.5L219.4 1982.5L219.9 1982.5L220.4 1982.5L220.9 1982.5L221.4 1982.5" fill="none" stroke="#111" stroke-width="0.9"/>
<line x1="94.4" y1="1982.5" x2="223.3" y2="1982.5" stroke="#111" stroke-width="1.1"/>
<line x1="94.4" y1="1866" x2="96" y2="1866" stroke="#777" stroke-width="0.6"/>
<line x1="94.4" y1="1894.8" x2="96" y2="1894.8" stroke="#777" stroke-width="0.6"/>
<line x1="94.4" y1="1923.7" x2="96" y2="1923.7" stroke="#777" stroke-width="0.6"/>
<line x1="94.4" y1="1952.5" x2="96" y2="1952.5" stroke="#777" stroke-width="0.6"/>
<line x1="94.4" y1="1981.3" x2="96" y2="1981.3" stroke="#777" stroke-width="0.6"/>
<text x="131.2" y="1865.3" font-size="5" fill="#333">&lt;2N: 11.3%</text>
<text x="131.2" y="1872.8" font-size="5" fill="#333">2N: 36.7%&#160;&#160;&#160;[&#956;: 219992, cv: 6.54%]</text>
<text x="131.2" y="1880.3" font-size="5" fill="#333">S: 24.5%</text>
<text x="131.2" y="1887.8" font-size="5" fill="#333">4N: 25.4%&#160;&#160;&#160;[&#956;: 4.05E5, cv: 8.91%]</text>
<text x="131.2" y="1895.3" font-size="5" fill="#333">Ratio: 1.84</text>
<text x="131.2" y="1905.1" font-size="5" fill="#333">&gt;4N: 2.10%</text>
<rect x="229.3" y="1854" width="129.3" height="129.5" fill="#fff" stroke="#9a9a9a" stroke-width="0.8"/>
<path d="M255.8 1982.7L255.8 1982.6L256.3 1982.5L256.8 1982.4L257.3 1982.1L257.8 1981.6L258.3 1980.8L258.8 1979.5L259.3 1977.4L259.8 1974.3L260.3 1969.8L260.8 1963.7L261.3 1955.7L261.8 1945.7L262.3 1933.9L262.8 1920.7L263.3 1906.7L263.8 1892.9L264.3 1880.5L264.8 1870.6L265.3 1864.2L265.8 1862L266.3 1862.6L266.8 1867.4L267.3 1875.8L267.8 1886.7L267.8 1982.7Z" fill="#a9acf6"/>
<path d="M268.3 1982.7L268.3 1899L268.8 1911.6L269.3 1923.5L269.8 1934L270.3 1944.1L270.8 1952.2L271.3 1958.5L271.8 1963.1L272.3 1966.3L272.8 1968.5L273.3 1970L273.8 1970.9L274.3 1971.5L274.8 1971.9L275.3 1972.2L275.8 1972.3L276.3 1972.5L276.8 1972.5L277.3 1972.6L277.8 1972.7L278.3 1972.7L278.8 1972.8L279.3 1972.8L279.8 1972.9L280.3 1972.9L280.8 1972.9L281.3 1972.8L281.8 1972.8L282.3 1972.7L282.8 1972.6L283.3 1972.5L283.8 1972.3L284.3 1972.1L284.8 1971.8L285.3 1971.4L285.8 1970.9L286.3 1970.3L286.8 1969.6L287.3 1968.8L287.8 1967.8L288.3 1966.6L288.8 1965.2L289.3 1963.7L289.8 1961.9L290.3 1959.9L290.8 1957.8L291.3 1955.4L291.8 1953L292.3 1951.3L292.8 1949.6L292.8 1982.7Z" fill="#6ff06f"/>
<path d="M293.3 1982.7L293.3 1947.9L293.8 1946.2L294.3 1944.7L294.8 1943.4L295.3 1942.2L295.8 1941.4L296.3 1941L296.8 1941L297.3 1941.3L297.8 1942.2L298.3 1942.4L298.8 1943.1L299.3 1944.1L299.8 1945.6L300.3 1947.3L300.8 1949.4L301.3 1951.7L301.8 1954.1L302.3 1956.6L302.8 1959.2L303.3 1961.7L303.8 1964.2L304.3 1966.5L304.8 1968.7L305.3 1970.8L305.8 1972.6L306.3 1974.3L306.8 1975.7L307.3 1977L307.8 1978.1L308.3 1979L308.8 1979.8L309.3 1980.4L309.8 1980.9L310.3 1981.3L310.8 1981.7L311.3 1981.9L311.8 1982.1L312.3 1982.3L312.8 1982.4L312.8 1982.7Z" fill="#f4a3a3"/>
<path d="M230.3 1982.7L230.8 1982.7L231.3 1982.7L231.8 1982.7L232.3 1982.7L232.8 1982.7L233.3 1982.7L233.8 1982.7L234.3 1982.7L234.8 1982.7L235.3 1982.7L235.8 1982.7L236.3 1982.7L236.8 1982.7L237.3 1982.7L237.8 1982.7L238.3 1982.7L238.8 1982.7L239.3 1982.7L239.8 1982.7L240.3 1982.7L240.8 1982.7L241.3 1982.7L241.8 1982.7L242.3 1982.7L242.8 1982.7L243.3 1982.7L243.8 1982.7L244.3 1982.7L244.8 1982.7L245.3 1982.7L245.8 1982.7L246.3 1982.7L246.8 1982.7L247.3 1982.7L247.8 1982.7L248.3 1982.7L248.8 1982.7L249.3 1982.7L249.8 1982.7L250.3 1982.7L250.8 1982.7L251.3 1982.7L251.8 1982.7L252.3 1982.7L252.8 1982.7L253.3 1982.7L253.8 1982.7L254.3 1982.7L254.8 1982.7L255.3 1982.7L255.8 1982.6L256.3 1982.5L256.8 1982.4L257.3 1982.1L257.8 1981.6L258.3 1980.8L258.8 1979.5L259.3 1977.4L259.8 1974.3L260.3 1969.8L260.8 1963.7L261.3 1955.7L261.8 1945.7L262.3 1933.9L262.8 1920.7L263.3 1906.7L263.8 1892.9L264.3 1880.5L264.8 1870.6L265.3 1864.2L265.8 1862L266.3 1862.6L266.8 1867.4L267.3 1875.8L267.8 1886.7L268.3 1899L268.8 1911.6L269.3 1923.5L269.8 1934L270.3 1944.1L270.8 1952.2L271.3 1958.5L271.8 1963.1L272.3 1966.3L272.8 1968.5L273.3 1970L273.8 1970.9L274.3 1971.5L274.8 1971.9L275.3 1972.2L275.8 1972.3L276.3 1972.5L276.8 1972.5L277.3 1972.6L277.8 1972.7L278.3 1972.7L278.8 1972.8L279.3 1972.8L279.8 1972.9L280.3 1972.9L280.8 1972.9L281.3 1972.8L281.8 1972.8L282.3 1972.7L282.8 1972.6L283.3 1972.5L283.8 1972.3L284.3 1972.1L284.8 1971.8L285.3 1971.4L285.8 1970.9L286.3 1970.3L286.8 1969.6L287.3 1968.8L287.8 1967.8L288.3 1966.6L288.8 1965.2L289.3 1963.7L289.8 1961.9L290.3 1959.9L290.8 1957.8L291.3 1955.4L291.8 1953L292.3 1951.3L292.8 1949.6L293.3 1947.9L293.8 1946.2L294.3 1944.7L294.8 1943.4L295.3 1942.2L295.8 1941.4L296.3 1941L296.8 1941L297.3 1941.3L297.8 1942.2L298.3 1942.4L298.8 1943.1L299.3 1944.1L299.8 1945.6L300.3 1947.3L300.8 1949.4L301.3 1951.7L301.8 1954.1L302.3 1956.6L302.8 1959.2L303.3 1961.7L303.8 1964.2L304.3 1966.5L304.8 1968.7L305.3 1970.8L305.8 1972.6L306.3 1974.3L306.8 1975.7L307.3 1977L307.8 1978.1L308.3 1979L308.8 1979.8L309.3 1980.4L309.8 1980.9L310.3 1981.3L310.8 1981.7L311.3 1981.9L311.8 1982.1L312.3 1982.3L312.8 1982.4L313.3 1982.5L313.8 1982.5L314.3 1982.6L314.8 1982.6L315.3 1982.6L315.8 1982.7L316.3 1982.7L316.8 1982.7L317.3 1982.7L317.8 1982.7L318.3 1982.7L318.8 1982.7L319.3 1982.7L319.8 1982.7L320.3 1982.7L320.8 1982.7L321.3 1982.7L321.8 1982.7L322.3 1982.7L322.8 1982.7L323.3 1982.7L323.8 1982.7L324.3 1982.7L324.8 1982.7L325.3 1982.7L325.8 1982.7L326.3 1982.7L326.8 1982.7L327.3 1982.7L327.8 1982.7L328.3 1982.7L328.8 1982.7L329.3 1982.7L329.8 1982.7L330.3 1982.7L330.8 1982.7L331.3 1982.7L331.8 1982.7L332.3 1982.7L332.8 1982.7L333.3 1982.7L333.8 1982.7L334.3 1982.7L334.8 1982.7L335.3 1982.7L335.8 1982.7L336.3 1982.7L336.8 1982.7L337.3 1982.7L337.8 1982.7L338.3 1982.7L338.8 1982.7L339.3 1982.7L339.8 1982.7L340.3 1982.7L340.8 1982.7L341.3 1982.7L341.8 1982.7L342.3 1982.7L342.8 1982.7L343.3 1982.7L343.8 1982.7L344.3 1982.7L344.8 1982.7L345.3 1982.7L345.8 1982.7L346.3 1982.7L346.8 1982.7L347.3 1982.7L347.8 1982.7L348.3 1982.7L348.8 1982.7L349.3 1982.7L349.8 1982.7L350.3 1982.7L350.8 1982.7L351.3 1982.7L351.8 1982.7L352.3 1982.7L352.8 1982.7L353.3 1982.7L353.8 1982.7L354.3 1982.7L354.8 1982.7L355.3 1982.7L355.8 1982.7L356.3 1982.7L356.8 1982.7" fill="none" stroke="#111" stroke-width="0.9"/>
<line x1="229.3" y1="1982.7" x2="358.6" y2="1982.7" stroke="#111" stroke-width="1.1"/>
<line x1="229.3" y1="1866" x2="230.9" y2="1866" stroke="#777" stroke-width="0.6"/>
<line x1="229.3" y1="1894.9" x2="230.9" y2="1894.9" stroke="#777" stroke-width="0.6"/>
<line x1="229.3" y1="1923.8" x2="230.9" y2="1923.8" stroke="#777" stroke-width="0.6"/>
<line x1="229.3" y1="1952.6" x2="230.9" y2="1952.6" stroke="#777" stroke-width="0.6"/>
<line x1="229.3" y1="1981.5" x2="230.9" y2="1981.5" stroke="#777" stroke-width="0.6"/>
<text x="267.3" y="1865.3" font-size="5" fill="#333">&lt;2N: 10.1%</text>
<text x="267.3" y="1872.8" font-size="5" fill="#333">2N: 35.6%&#160;&#160;&#160;[&#956;: 6.38E5, cv: 6.56%]</text>
<text x="267.3" y="1880.3" font-size="5" fill="#333">S: 20.6%</text>
<text x="267.3" y="1887.8" font-size="5" fill="#333">4N: 32.3%&#160;&#160;&#160;[&#956;: 1.17E6, cv: 11.4%]</text>
<text x="267.3" y="1895.3" font-size="5" fill="#333">Ratio: 1.84</text>
<text x="267.3" y="1905.1" font-size="5" fill="#333">&gt;4N: 1.36%</text>
<rect x="361.6" y="1853.5" width="129.6" height="130.2" fill="#fff" stroke="#9a9a9a" stroke-width="0.8"/>
<path d="M382.1 1982.9L382.1 1982.8L382.6 1982.8L383.1 1982.6L383.6 1982.4L384.1 1982L384.6 1981.3L385.1 1980.1L385.6 1978.2L386.1 1975.4L386.6 1971.3L387.1 1965.7L387.6 1958.3L388.1 1949L388.6 1937.8L389.1 1925.2L389.6 1911.6L390.1 1898.1L390.6 1885.7L391.1 1875.5L391.6 1868.5L392.1 1865.5L392.6 1865.7L393.1 1869.8L393.6 1877.6L394.1 1888L394.1 1982.9Z" fill="#a9acf6"/>
<path d="M394.6 1982.9L394.6 1900L395.1 1912.5L395.6 1924.5L396.1 1935.2L396.6 1945.1L397.1 1953.4L397.6 1959.9L398.1 1964.6L398.6 1968L399.1 1970.4L399.6 1971.9L400.1 1972.9L400.6 1973.5L401.1 1973.9L401.6 1974.1L402.1 1974.3L402.6 1974.4L403.1 1974.4L403.6 1974.5L404.1 1974.5L404.6 1974.5L405.1 1974.5L405.6 1974.4L406.1 1974.3L406.6 1974.1L407.1 1973.9L407.6 1973.5L408.1 1973L408.6 1972.3L409.1 1971.5L409.6 1970.3L410.1 1968.9L410.6 1967.1L411.1 1964.8L411.6 1962.1L412.1 1958.8L412.6 1955L413.1 1950.5L413.6 1945.5L414.1 1939.9L414.6 1934.6L415.1 1928.9L415.6 1922.9L415.6 1982.9Z" fill="#6ff06f"/>
<path d="M416.1 1982.9L416.1 1916.9L416.6 1911L417.1 1905.3L417.6 1900.2L418.1 1895.9L418.6 1892.4L419.1 1890.1L419.6 1889.1L420.1 1889.3L420.6 1889.4L421.1 1890.8L421.6 1893.5L422.1 1897.2L422.6 1901.8L423.1 1907.2L423.6 1913L424.1 1919.2L424.6 1925.4L425.1 1931.5L425.6 1937.3L426.1 1942.7L426.6 1947.7L427.1 1952.1L427.6 1955.9L428.1 1959.1L428.6 1962.3L429.1 1964.9L429.6 1967.1L430.1 1968.9L430.6 1970.2L431.1 1971.3L431.6 1972.1L432.1 1972.8L432.6 1973.2L433.1 1973.6L433.1 1982.9Z" fill="#f4a3a3"/>
<path d="M362.6 1982.9L363.1 1982.9L363.6 1982.9L364.1 1982.9L364.6 1982.9L365.1 1982.9L365.6 1982.9L366.1 1982.9L366.6 1982.9L367.1 1982.9L367.6 1982.9L368.1 1982.9L368.6 1982.9L369.1 1982.9L369.6 1982.9L370.1 1982.9L370.6 1982.9L371.1 1982.9L371.6 1982.9L372.1 1982.9L372.6 1982.9L373.1 1982.9L373.6 1982.9L374.1 1982.9L374.6 1982.9L375.1 1982.9L375.6 1982.9L376.1 1982.9L376.6 1982.9L377.1 1982.9L377.6 1982.9L378.1 1982.9L378.6 1982.9L379.1 1982.9L379.6 1982.9L380.1 1982.9L380.6 1982.9L381.1 1982.9L381.6 1982.9L382.1 1982.8L382.6 1982.8L383.1 1982.6L383.6 1982.4L384.1 1982L384.6 1981.3L385.1 1980.1L385.6 1978.2L386.1 1975.4L386.6 1971.3L387.1 1965.7L387.6 1958.3L388.1 1949L388.6 1937.8L389.1 1925.2L389.6 1911.6L390.1 1898.1L390.6 1885.7L391.1 1875.5L391.6 1868.5L392.1 1865.5L392.6 1865.7L393.1 1869.8L393.6 1877.6L394.1 1888L394.6 1900L395.1 1912.5L395.6 1924.5L396.1 1935.2L396.6 1945.1L397.1 1953.4L397.6 1959.9L398.1 1964.6L398.6 1968L399.1 1970.4L399.6 1971.9L400.1 1972.9L400.6 1973.5L401.1 1973.9L401.6 1974.1L402.1 1974.3L402.6 1974.4L403.1 1974.4L403.6 1974.5L404.1 1974.5L404.6 1974.5L405.1 1974.5L405.6 1974.4L406.1 1974.3L406.6 1974.1L407.1 1973.9L407.6 1973.5L408.1 1973L408.6 1972.3L409.1 1971.5L409.6 1970.3L410.1 1968.9L410.6 1967.1L411.1 1964.8L411.6 1962.1L412.1 1958.8L412.6 1955L413.1 1950.5L413.6 1945.5L414.1 1939.9L414.6 1934.6L415.1 1928.9L415.6 1922.9L416.1 1916.9L416.6 1911L417.1 1905.3L417.6 1900.2L418.1 1895.9L418.6 1892.4L419.1 1890.1L419.6 1889.1L420.1 1889.3L420.6 1889.4L421.1 1890.8L421.6 1893.5L422.1 1897.2L422.6 1901.8L423.1 1907.2L423.6 1913L424.1 1919.2L424.6 1925.4L425.1 1931.5L425.6 1937.3L426.1 1942.7L426.6 1947.7L427.1 1952.1L427.6 1955.9L428.1 1959.1L428.6 1962.3L429.1 1964.9L429.6 1967.1L430.1 1968.9L430.6 1970.2L431.1 1971.3L431.6 1972.1L432.1 1972.8L432.6 1973.2L433.1 1973.6L433.6 1973.8L434.1 1974L434.6 1974.1L435.1 1974.2L435.6 1974.2L436.1 1974.3L436.6 1974.3L437.1 1974.3L437.6 1974.3L438.1 1974.3L438.6 1974.3L439.1 1974.2L439.6 1974.2L440.1 1974.1L440.6 1974L441.1 1973.9L441.6 1973.8L442.1 1973.6L442.6 1973.3L443.1 1973L443.6 1972.6L444.1 1972.2L444.6 1971.7L445.1 1971.1L445.6 1970.4L446.1 1969.7L446.6 1969L447.1 1968.2L447.6 1967.4L448.1 1966.6L448.6 1965.9L449.1 1965.2L449.6 1964.7L450.1 1964.3L450.6 1964L451.1 1963.9L451.6 1964L452.1 1964.2L452.6 1964.5L453.1 1965L453.6 1965.6L454.1 1966.3L454.6 1967.1L455.1 1967.9L455.6 1968.6L456.1 1969.4L456.6 1970.1L457.1 1970.8L457.6 1971.4L458.1 1972L458.6 1972.5L459.1 1972.9L459.6 1973.2L460.1 1973.5L460.6 1973.7L461.1 1973.9L461.6 1974L462.1 1974.1L462.6 1974.2L463.1 1974.2L463.6 1974.3L464.1 1974.3L464.6 1974.3L465.1 1974.3L465.6 1974.3L466.1 1974.3L466.6 1974.3L467.1 1974.3L467.6 1974.3L468.1 1974.3L468.6 1974.3L469.1 1974.3L469.6 1974.3L470.1 1974.3L470.6 1974.3L471.1 1974.3L471.6 1974.3L472.1 1974.5L472.6 1975.2L473.1 1975.9L473.6 1976.6L474.1 1977.3L474.6 1978.1L475.1 1978.8L475.6 1979.5L476.1 1980.2L476.6 1980.9L477.1 1981.6L477.6 1982.3L478.1 1982.9L478.6 1982.9L479.1 1982.9L479.6 1982.9L480.1 1982.9L480.6 1982.9L481.1 1982.9L481.6 1982.9L482.1 1982.9L482.6 1982.9L483.1 1982.9L483.6 1982.9L484.1 1982.9L484.6 1982.9L485.1 1982.9L485.6 1982.9L486.1 1982.9L486.6 1982.9L487.1 1982.9L487.6 1982.9L488.1 1982.9L488.6 1982.9L489.1 1982.9L489.6 1982.9" fill="none" stroke="#111" stroke-width="0.9"/>
<line x1="361.6" y1="1982.9" x2="491.2" y2="1982.9" stroke="#111" stroke-width="1.1"/>
<line x1="361.6" y1="1865.5" x2="363.2" y2="1865.5" stroke="#777" stroke-width="0.6"/>
<line x1="361.6" y1="1894.5" x2="363.2" y2="1894.5" stroke="#777" stroke-width="0.6"/>
<line x1="361.6" y1="1923.6" x2="363.2" y2="1923.6" stroke="#777" stroke-width="0.6"/>
<line x1="361.6" y1="1952.7" x2="363.2" y2="1952.7" stroke="#777" stroke-width="0.6"/>
<line x1="361.6" y1="1981.7" x2="363.2" y2="1981.7" stroke="#777" stroke-width="0.6"/>
<text x="393.7" y="1864.8" font-size="5" fill="#333">&lt;2N: 4.82%</text>
<text x="393.7" y="1872.3" font-size="5" fill="#333">2N: 15.6%&#160;&#160;&#160;[&#956;: 226520, cv: 5.22%]</text>
<text x="393.7" y="1879.8" font-size="5" fill="#333">S: 16.8%</text>
<text x="393.7" y="1887.3" font-size="5" fill="#333">4N: 34.0%&#160;&#160;&#160;[&#956;: 4.31E5, cv: 8.69%]</text>
<text x="393.7" y="1894.8" font-size="5" fill="#333">Ratio: 1.90</text>
<text x="393.7" y="1904.6" font-size="5" fill="#333">&gt;4N: 28.8%</text>
<rect x="495" y="1852.5" width="130.8" height="131" fill="#fff" stroke="#9a9a9a" stroke-width="0.8"/>
<path d="M517.5 1982.7L517.5 1982.6L518 1982.6L518.5 1982.4L519 1982.2L519.5 1981.8L520 1981.1L520.5 1979.9L521 1978.1L521.5 1975.3L522 1971.4L522.5 1965.8L523 1958.6L523.5 1949.4L524 1938.5L524.5 1926L525 1912.7L525.5 1899.4L526 1887.2L526.5 1877.2L527 1870.3L527.5 1867.4L528 1867.9L528.5 1872.3L529 1880.2L529.5 1890.7L529.5 1982.7Z" fill="#a9acf6"/>
<path d="M530 1982.7L530 1902.8L530.5 1915.4L531 1927.4L531.5 1938.2L532 1948L532.5 1956.1L533 1962.4L533.5 1967.1L534 1970.4L534.5 1972.6L535 1974.1L535.5 1975L536 1975.6L536.5 1976L537 1976.2L537.5 1976.3L538 1976.4L538.5 1976.5L539 1976.5L539.5 1976.6L540 1976.6L540.5 1976.6L541 1976.6L541.5 1976.6L542 1976.5L542.5 1976.5L543 1976.3L543.5 1976.2L544 1975.9L544.5 1975.6L545 1975.2L545.5 1974.6L546 1973.8L546.5 1972.9L547 1971.7L547.5 1970.2L548 1968.3L548.5 1966.1L549 1963.4L549.5 1960.3L550 1956.7L550.5 1952.6L551 1948.1L551.5 1943.1L552 1938.4L552.5 1933.4L553 1928.2L553 1982.7Z" fill="#6ff06f"/>
<path d="M553.5 1982.7L553.5 1923L554 1918L554.5 1913.2L555 1909L555.5 1905.3L556 1902.5L556.5 1900.5L557 1899.6L557.5 1899.7L558 1900L558.5 1901.3L559 1903.6L559.5 1906.8L560 1910.8L560.5 1915.4L561 1920.4L561.5 1925.8L562 1931.2L562.5 1936.7L563 1941.9L563.5 1946.9L564 1951.5L564.5 1955.7L565 1959.5L565.5 1962.8L566 1965.8L566.5 1968.4L567 1970.6L567.5 1972.4L568 1973.8L568.5 1975L569 1975.9L569.5 1976.6L570 1977.2L570.5 1977.6L571 1977.9L571.5 1978.1L571.5 1982.7Z" fill="#f4a3a3"/>
<path d="M496 1982.7L496.5 1982.7L497 1982.7L497.5 1982.7L498 1982.7L498.5 1982.7L499 1982.7L499.5 1982.7L500 1982.7L500.5 1982.7L501 1982.7L501.5 1982.7L502 1982.7L502.5 1982.7L503 1982.7L503.5 1982.7L504 1982.7L504.5 1982.7L505 1982.7L505.5 1982.7L506 1982.7L506.5 1982.7L507 1982.7L507.5 1982.7L508 1982.7L508.5 1982.7L509 1982.7L509.5 1982.7L510 1982.7L510.5 1982.7L511 1982.7L511.5 1982.7L512 1982.7L512.5 1982.7L513 1982.7L513.5 1982.7L514 1982.7L514.5 1982.7L515 1982.7L515.5 1982.7L516 1982.7L516.5 1982.7L517 1982.7L517.5 1982.6L518 1982.6L518.5 1982.4L519 1982.2L519.5 1981.8L520 1981.1L520.5 1979.9L521 1978.1L521.5 1975.3L522 1971.4L522.5 1965.8L523 1958.6L523.5 1949.4L524 1938.5L524.5 1926L525 1912.7L525.5 1899.4L526 1887.2L526.5 1877.2L527 1870.3L527.5 1867.4L528 1867.9L528.5 1872.3L529 1880.2L529.5 1890.7L530 1902.8L530.5 1915.4L531 1927.4L531.5 1938.2L532 1948L532.5 1956.1L533 1962.4L533.5 1967.1L534 1970.4L534.5 1972.6L535 1974.1L535.5 1975L536 1975.6L536.5 1976L537 1976.2L537.5 1976.3L538 1976.4L538.5 1976.5L539 1976.5L539.5 1976.6L540 1976.6L540.5 1976.6L541 1976.6L541.5 1976.6L542 1976.5L542.5 1976.5L543 1976.3L543.5 1976.2L544 1975.9L544.5 1975.6L545 1975.2L545.5 1974.6L546 1973.8L546.5 1972.9L547 1971.7L547.5 1970.2L548 1968.3L548.5 1966.1L549 1963.4L549.5 1960.3L550 1956.7L550.5 1952.6L551 1948.1L551.5 1943.1L552 1938.4L552.5 1933.4L553 1928.2L553.5 1923L554 1918L554.5 1913.2L555 1909L555.5 1905.3L556 1902.5L556.5 1900.5L557 1899.6L557.5 1899.7L558 1900L558.5 1901.3L559 1903.6L559.5 1906.8L560 1910.8L560.5 1915.4L561 1920.4L561.5 1925.8L562 1931.2L562.5 1936.7L563 1941.9L563.5 1946.9L564 1951.5L564.5 1955.7L565 1959.5L565.5 1962.8L566 1965.8L566.5 1968.4L567 1970.6L567.5 1972.4L568 1973.8L568.5 1975L569 1975.9L569.5 1976.6L570 1977.2L570.5 1977.6L571 1977.9L571.5 1978.1L572 1978.3L572.5 1978.4L573 1978.5L573.5 1978.5L574 1978.6L574.5 1978.6L575 1978.6L575.5 1978.6L576 1978.6L576.5 1978.6L577 1978.6L577.5 1978.6L578 1978.6L578.5 1978.6L579 1978.6L579.5 1978.6L580 1978.6L580.5 1978.6L581 1978.6L581.5 1978.6L582 1978.5L582.5 1978.4L583 1978.3L583.5 1978.1L584 1977.9L584.5 1977.7L585 1977.3L585.5 1977L586 1976.5L586.5 1976L587 1975.5L587.5 1975.1L588 1974.6L588.5 1974.2L589 1973.9L589.5 1973.7L590 1973.7L590.5 1973.8L591 1974L591.5 1974.4L592 1974.8L592.5 1975.2L593 1975.7L593.5 1976.2L594 1976.7L594.5 1977.1L595 1977.5L595.5 1977.8L596 1978L596.5 1978.2L597 1978.3L597.5 1978.5L598 1978.5L598.5 1978.6L599 1978.6L599.5 1978.6L600 1978.6L600.5 1978.6L601 1978.6L601.5 1978.6L602 1978.6L602.5 1978.6L603 1978.6L603.5 1978.6L604 1978.6L604.5 1978.6L605 1978.6L605.5 1978.6L606 1978.6L606.5 1979L607 1979.3L607.5 1979.7L608 1980L608.5 1980.3L609 1980.7L609.5 1981L610 1981.3L610.5 1981.7L611 1982L611.5 1982.4L612 1982.7L612.5 1982.7L613 1982.7L613.5 1982.7L614 1982.7L614.5 1982.7L615 1982.7L615.5 1982.7L616 1982.7L616.5 1982.7L617 1982.7L617.5 1982.7L618 1982.7L618.5 1982.7L619 1982.7L619.5 1982.7L620 1982.7L620.5 1982.7L621 1982.7L621.5 1982.7L622 1982.7L622.5 1982.7L623 1982.7L623.5 1982.7L624 1982.7" fill="none" stroke="#111" stroke-width="0.9"/>
<line x1="495" y1="1982.7" x2="625.8" y2="1982.7" stroke="#111" stroke-width="1.1"/>
<line x1="495" y1="1864.5" x2="496.6" y2="1864.5" stroke="#777" stroke-width="0.6"/>
<line x1="495" y1="1893.8" x2="496.6" y2="1893.8" stroke="#777" stroke-width="0.6"/>
<line x1="495" y1="1923" x2="496.6" y2="1923" stroke="#777" stroke-width="0.6"/>
<line x1="495" y1="1952.2" x2="496.6" y2="1952.2" stroke="#777" stroke-width="0.6"/>
<line x1="495" y1="1981.5" x2="496.6" y2="1981.5" stroke="#777" stroke-width="0.6"/>
<text x="529.1" y="1863.8" font-size="5" fill="#333">&lt;2N: 6.34%</text>
<text x="529.1" y="1871.3" font-size="5" fill="#333">2N: 21.1%&#160;&#160;&#160;[&#956;: 238961, cv: 5.23%]</text>
<text x="529.1" y="1878.8" font-size="5" fill="#333">S: 14.3%</text>
<text x="529.1" y="1886.3" font-size="5" fill="#333">4N: 38.8%&#160;&#160;&#160;[&#956;: 4.52E5, cv: 8.58%]</text>
<text x="529.1" y="1893.8" font-size="5" fill="#333">Ratio: 1.89</text>
<text x="529.1" y="1903.6" font-size="5" fill="#333">&gt;4N: 19.5%</text>
<rect x="93.5" y="1989" width="129.8" height="130.6" fill="#fff" stroke="#9a9a9a" stroke-width="0.8"/>
<path d="M119 2118.8L119 2118.8L119.5 2118.7L120 2118.6L120.5 2118.4L121 2118.1L121.5 2117.5L122 2116.5L122.5 2115L123 2112.6L123.5 2109.1L124 2104.2L124.5 2097.6L125 2089.1L125.5 2078.8L126 2066.7L126.5 2053.6L127 2040L127.5 2027.1L128 2016L128.5 2007.7L129 2003.1L129.5 2002.1L130 2004.6L130.5 2010.9L131 2020.2L131.5 2031.6L131.5 2118.8Z" fill="#a9acf6"/>
<path d="M132 2118.8L132 2043.9L132.5 2056.1L133 2067.2L133.5 2077.3L134 2086.3L134.5 2093.4L135 2098.8L135.5 2102.6L136 2105.3L136.5 2107.1L137 2108.3L137.5 2109L138 2109.5L138.5 2109.8L139 2110L139.5 2110.1L140 2110.2L140.5 2110.3L141 2110.3L141.5 2110.4L142 2110.4L142.5 2110.4L143 2110.4L143.5 2110.4L144 2110.4L144.5 2110.3L145 2110.3L145.5 2110.1L146 2110L146.5 2109.8L147 2109.5L147.5 2109.1L148 2108.7L148.5 2108.2L149 2107.5L149.5 2106.8L150 2105.8L150.5 2104.8L151 2103.5L151.5 2102.1L152 2100.5L152.5 2098.7L153 2096.8L153.5 2094.7L154 2092.6L154.5 2091.1L155 2089.5L155 2118.8Z" fill="#6ff06f"/>
<path d="M155.5 2118.8L155.5 2088L156 2086.5L156.5 2085.1L157 2083.9L157.5 2082.9L158 2082.2L158.5 2081.8L159 2081.8L159.5 2082.2L160 2082.8L160.5 2083.1L161 2083.7L161.5 2084.7L162 2086.1L162.5 2087.7L163 2089.6L163.5 2091.6L164 2093.8L164.5 2096.1L165 2098.3L165.5 2100.6L166 2102.7L166.5 2104.8L167 2106.7L167.5 2108.5L168 2110.1L168.5 2111.6L169 2112.8L169.5 2113.9L170 2114.9L170.5 2115.7L171 2116.3L171.5 2116.9L172 2117.3L172.5 2117.7L173 2117.9L173.5 2118.1L174 2118.3L174.5 2118.4L175 2118.5L175 2118.8Z" fill="#f4a3a3"/>
<path d="M94.5 2118.8L95 2118.8L95.5 2118.8L96 2118.8L96.5 2118.8L97 2118.8L97.5 2118.8L98 2118.8L98.5 2118.8L99 2118.8L99.5 2118.8L100 2118.8L100.5 2118.8L101 2118.8L101.5 2118.8L102 2118.8L102.5 2118.8L103 2118.8L103.5 2118.8L104 2118.8L104.5 2118.8L105 2118.8L105.5 2118.8L106 2118.8L106.5 2118.8L107 2118.8L107.5 2118.8L108 2118.8L108.5 2118.8L109 2118.8L109.5 2118.8L110 2118.8L110.5 2118.8L111 2118.8L111.5 2118.8L112 2118.8L112.5 2118.8L113 2118.8L113.5 2118.8L114 2118.8L114.5 2118.8L115 2118.8L115.5 2118.8L116 2118.8L116.5 2118.8L117 2118.8L117.5 2118.8L118 2118.8L118.5 2118.8L119 2118.8L119.5 2118.7L120 2118.6L120.5 2118.4L121 2118.1L121.5 2117.5L122 2116.5L122.5 2115L123 2112.6L123.5 2109.1L124 2104.2L124.5 2097.6L125 2089.1L125.5 2078.8L126 2066.7L126.5 2053.6L127 2040L127.5 2027.1L128 2016L128.5 2007.7L129 2003.1L129.5 2002.1L130 2004.6L130.5 2010.9L131 2020.2L131.5 2031.6L132 2043.9L132.5 2056.1L133 2067.2L133.5 2077.3L134 2086.3L134.5 2093.4L135 2098.8L135.5 2102.6L136 2105.3L136.5 2107.1L137 2108.3L137.5 2109L138 2109.5L138.5 2109.8L139 2110L139.5 2110.1L140 2110.2L140.5 2110.3L141 2110.3L141.5 2110.4L142 2110.4L142.5 2110.4L143 2110.4L143.5 2110.4L144 2110.4L144.5 2110.3L145 2110.3L145.5 2110.1L146 2110L146.5 2109.8L147 2109.5L147.5 2109.1L148 2108.7L148.5 2108.2L149 2107.5L149.5 2106.8L150 2105.8L150.5 2104.8L151 2103.5L151.5 2102.1L152 2100.5L152.5 2098.7L153 2096.8L153.5 2094.7L154 2092.6L154.5 2091.1L155 2089.5L155.5 2088L156 2086.5L156.5 2085.1L157 2083.9L157.5 2082.9L158 2082.2L158.5 2081.8L159 2081.8L159.5 2082.2L160 2082.8L160.5 2083.1L161 2083.7L161.5 2084.7L162 2086.1L162.5 2087.7L163 2089.6L163.5 2091.6L164 2093.8L164.5 2096.1L165 2098.3L165.5 2100.6L166 2102.7L166.5 2104.8L167 2106.7L167.5 2108.5L168 2110.1L168.5 2111.6L169 2112.8L169.5 2113.9L170 2114.9L170.5 2115.7L171 2116.3L171.5 2116.9L172 2117.3L172.5 2117.7L173 2117.9L173.5 2118.1L174 2118.3L174.5 2118.4L175 2118.5L175.5 2118.6L176 2118.7L176.5 2118.7L177 2118.7L177.5 2118.8L178 2118.8L178.5 2118.8L179 2118.8L179.5 2118.8L180 2118.8L180.5 2118.8L181 2118.8L181.5 2118.8L182 2118.8L182.5 2118.8L183 2118.8L183.5 2118.8L184 2118.8L184.5 2118.8L185 2118.8L185.5 2118.8L186 2118.8L186.5 2118.8L187 2118.8L187.5 2118.8L188 2118.8L188.5 2118.8L189 2118.8L189.5 2118.8L190 2118.8L190.5 2118.8L191 2118.8L191.5 2118.8L192 2118.8L192.5 2118.8L193 2118.8L193.5 2118.8L194 2118.8L194.5 2118.8L195 2118.8L195.5 2118.8L196 2118.8L196.5 2118.8L197 2118.8L197.5 2118.8L198 2118.8L198.5 2118.8L199 2118.8L199.5 2118.8L200 2118.8L200.5 2118.8L201 2118.8L201.5 2118.8L202 2118.8L202.5 2118.8L203 2118.8L203.5 2118.8L204 2118.8L204.5 2118.8L205 2118.8L205.5 2118.8L206 2118.8L206.5 2118.8L207 2118.8L207.5 2118.8L208 2118.8L208.5 2118.8L209 2118.8L209.5 2118.8L210 2118.8L210.5 2118.8L211 2118.8L211.5 2118.8L212 2118.8L212.5 2118.8L213 2118.8L213.5 2118.8L214 2118.8L214.5 2118.8L215 2118.8L215.5 2118.8L216 2118.8L216.5 2118.8L217 2118.8L217.5 2118.8L218 2118.8L218.5 2118.8L219 2118.8L219.5 2118.8L220 2118.8L220.5 2118.8L221 2118.8L221.5 2118.8" fill="none" stroke="#111" stroke-width="0.9"/>
<line x1="93.5" y1="2118.8" x2="223.3" y2="2118.8" stroke="#111" stroke-width="1.1"/>
<line x1="93.5" y1="2001" x2="95.1" y2="2001" stroke="#777" stroke-width="0.6"/>
<line x1="93.5" y1="2030.2" x2="95.1" y2="2030.2" stroke="#777" stroke-width="0.6"/>
<line x1="93.5" y1="2059.3" x2="95.1" y2="2059.3" stroke="#777" stroke-width="0.6"/>
<line x1="93.5" y1="2088.4" x2="95.1" y2="2088.4" stroke="#777" stroke-width="0.6"/>
<line x1="93.5" y1="2117.6" x2="95.1" y2="2117.6" stroke="#777" stroke-width="0.6"/>
<text x="130.8" y="2000.3" font-size="5" fill="#333">&lt;2N: 7.72%</text>
<text x="130.8" y="2007.8" font-size="5" fill="#333">2N: 41.6%&#160;&#160;&#160;[&#956;: 218112, cv: 8.29%]</text>
<text x="130.8" y="2015.3" font-size="5" fill="#333">S: 25.9%</text>
<text x="130.8" y="2022.8" font-size="5" fill="#333">4N: 20.4%&#160;&#160;&#160;[&#956;: 4.04E5, cv: 6.12%]</text>
<text x="130.8" y="2030.3" font-size="5" fill="#333">Ratio: 1.87</text>
<text x="130.8" y="2040.1" font-size="5" fill="#333">&gt;4N: 4.34%</text>
<text x="95.5" y="2126.1" font-size="3.8" text-anchor="middle" fill="#555">0</text>
<text x="127.2" y="2126.1" font-size="3.8" text-anchor="middle" fill="#555">200K</text>
<text x="158.8" y="2126.1" font-size="3.8" text-anchor="middle" fill="#555">400K</text>
<text x="190.5" y="2126.1" font-size="3.8" text-anchor="middle" fill="#555">600K</text>
<text x="158.4" y="2132.1" font-size="3.8" text-anchor="middle" fill="#555">Comp-FL2-A :: PE-A</text>
<rect x="228.4" y="1989" width="129.8" height="130.6" fill="#fff" stroke="#9a9a9a" stroke-width="0.8"/>
<path d="M255.4 2118.8L255.4 2118.7L255.9 2118.7L256.4 2118.6L256.9 2118.4L257.4 2118L257.9 2117.3L258.4 2116.2L258.9 2114.5L259.4 2111.8L259.9 2108L260.4 2102.6L260.9 2095.4L261.4 2086.3L261.9 2075.2L262.4 2062.6L262.9 2048.9L263.4 2035L263.9 2022L264.4 2011L264.9 2003.2L265.4 1999.3L265.9 1998.9L266.4 2002.3L266.9 2009.5L267.4 2019.7L267.9 2031.8L267.9 2118.8Z" fill="#a9acf6"/>
<path d="M268.4 2118.8L268.4 2044.5L268.9 2056.9L269.4 2068.1L269.9 2078.4L270.4 2087.3L270.9 2094.2L271.4 2099.4L271.9 2103.1L272.4 2105.6L272.9 2107.3L273.4 2108.4L273.9 2109.1L274.4 2109.5L274.9 2109.8L275.4 2110L275.9 2110.1L276.4 2110.2L276.9 2110.3L277.4 2110.3L277.9 2110.4L278.4 2110.4L278.9 2110.4L279.4 2110.5L279.9 2110.5L280.4 2110.4L280.9 2110.4L281.4 2110.4L281.9 2110.3L282.4 2110.2L282.9 2110L283.4 2109.8L283.9 2109.6L284.4 2109.2L284.9 2108.8L285.4 2108.3L285.9 2107.7L286.4 2107L286.9 2106.1L287.4 2105.1L287.9 2103.9L288.4 2102.6L288.9 2101.1L289.4 2099.4L289.9 2097.5L290.4 2095.5L290.9 2093.3L291.4 2091.9L291.9 2090.4L291.9 2118.8Z" fill="#6ff06f"/>
<path d="M292.4 2118.8L292.4 2088.9L292.9 2087.5L293.4 2086.1L293.9 2084.9L294.4 2083.9L294.9 2083.2L295.4 2082.8L295.9 2082.8L296.4 2083.1L296.9 2083.8L297.4 2084L297.9 2084.6L298.4 2085.5L298.9 2086.7L299.4 2088.2L299.9 2090L300.4 2092L300.9 2094.1L301.4 2096.2L301.9 2098.5L302.4 2100.6L302.9 2102.8L303.4 2104.8L303.9 2106.7L304.4 2108.5L304.9 2110.1L305.4 2111.5L305.9 2112.8L306.4 2113.9L306.9 2114.8L307.4 2115.6L307.9 2116.3L308.4 2116.8L308.9 2117.3L309.4 2117.6L309.9 2117.9L310.4 2118.1L310.9 2118.3L311.4 2118.4L311.9 2118.5L311.9 2118.8Z" fill="#f4a3a3"/>
<path d="M229.4 2118.8L229.9 2118.8L230.4 2118.8L230.9 2118.8L231.4 2118.8L231.9 2118.8L232.4 2118.8L232.9 2118.8L233.4 2118.8L233.9 2118.8L234.4 2118.8L234.9 2118.8L235.4 2118.8L235.9 2118.8L236.4 2118.8L236.9 2118.8L237.4 2118.8L237.9 2118.8L238.4 2118.8L238.9 2118.8L239.4 2118.8L239.9 2118.8L240.4 2118.8L240.9 2118.8L241.4 2118.8L241.9 2118.8L242.4 2118.8L242.9 2118.8L243.4 2118.8L243.9 2118.8L244.4 2118.8L244.9 2118.8L245.4 2118.8L245.9 2118.8L246.4 2118.8L246.9 2118.8L247.4 2118.8L247.9 2118.8L248.4 2118.8L248.9 2118.8L249.4 2118.8L249.9 2118.8L250.4 2118.8L250.9 2118.8L251.4 2118.8L251.9 2118.8L252.4 2118.8L252.9 2118.8L253.4 2118.8L253.9 2118.8L254.4 2118.8L254.9 2118.8L255.4 2118.7L255.9 2118.7L256.4 2118.6L256.9 2118.4L257.4 2118L257.9 2117.3L258.4 2116.2L258.9 2114.5L259.4 2111.8L259.9 2108L260.4 2102.6L260.9 2095.4L261.4 2086.3L261.9 2075.2L262.4 2062.6L262.9 2048.9L263.4 2035L263.9 2022L264.4 2011L264.9 2003.2L265.4 1999.3L265.9 1998.9L266.4 2002.3L266.9 2009.5L267.4 2019.7L267.9 2031.8L268.4 2044.5L268.9 2056.9L269.4 2068.1L269.9 2078.4L270.4 2087.3L270.9 2094.2L271.4 2099.4L271.9 2103.1L272.4 2105.6L272.9 2107.3L273.4 2108.4L273.9 2109.1L274.4 2109.5L274.9 2109.8L275.4 2110L275.9 2110.1L276.4 2110.2L276.9 2110.3L277.4 2110.3L277.9 2110.4L278.4 2110.4L278.9 2110.4L279.4 2110.5L279.9 2110.5L280.4 2110.4L280.9 2110.4L281.4 2110.4L281.9 2110.3L282.4 2110.2L282.9 2110L283.4 2109.8L283.9 2109.6L284.4 2109.2L284.9 2108.8L285.4 2108.3L285.9 2107.7L286.4 2107L286.9 2106.1L287.4 2105.1L287.9 2103.9L288.4 2102.6L288.9 2101.1L289.4 2099.4L289.9 2097.5L290.4 2095.5L290.9 2093.3L291.4 2091.9L291.9 2090.4L292.4 2088.9L292.9 2087.5L293.4 2086.1L293.9 2084.9L294.4 2083.9L294.9 2083.2L295.4 2082.8L295.9 2082.8L296.4 2083.1L296.9 2083.8L297.4 2084L297.9 2084.6L298.4 2085.5L298.9 2086.7L299.4 2088.2L299.9 2090L300.4 2092L300.9 2094.1L301.4 2096.2L301.9 2098.5L302.4 2100.6L302.9 2102.8L303.4 2104.8L303.9 2106.7L304.4 2108.5L304.9 2110.1L305.4 2111.5L305.9 2112.8L306.4 2113.9L306.9 2114.8L307.4 2115.6L307.9 2116.3L308.4 2116.8L308.9 2117.3L309.4 2117.6L309.9 2117.9L310.4 2118.1L310.9 2118.3L311.4 2118.4L311.9 2118.5L312.4 2118.6L312.9 2118.7L313.4 2118.7L313.9 2118.7L314.4 2118.8L314.9 2118.8L315.4 2118.8L315.9 2118.8L316.4 2118.8L316.9 2118.8L317.4 2118.8L317.9 2118.8L318.4 2118.8L318.9 2118.8L319.4 2118.8L319.9 2118.8L320.4 2118.8L320.9 2118.8L321.4 2118.8L321.9 2118.8L322.4 2118.8L322.9 2118.8L323.4 2118.8L323.9 2118.8L324.4 2118.8L324.9 2118.8L325.4 2118.8L325.9 2118.8L326.4 2118.8L326.9 2118.8L327.4 2118.8L327.9 2118.8L328.4 2118.8L328.9 2118.8L329.4 2118.8L329.9 2118.8L330.4 2118.8L330.9 2118.8L331.4 2118.8L331.9 2118.8L332.4 2118.8L332.9 2118.8L333.4 2118.8L333.9 2118.8L334.4 2118.8L334.9 2118.8L335.4 2118.8L335.9 2118.8L336.4 2118.8L336.9 2118.8L337.4 2118.8L337.9 2118.8L338.4 2118.8L338.9 2118.8L339.4 2118.8L339.9 2118.8L340.4 2118.8L340.9 2118.8L341.4 2118.8L341.9 2118.8L342.4 2118.8L342.9 2118.8L343.4 2118.8L343.9 2118.8L344.4 2118.8L344.9 2118.8L345.4 2118.8L345.9 2118.8L346.4 2118.8L346.9 2118.8L347.4 2118.8L347.9 2118.8L348.4 2118.8L348.9 2118.8L349.4 2118.8L349.9 2118.8L350.4 2118.8L350.9 2118.8L351.4 2118.8L351.9 2118.8L352.4 2118.8L352.9 2118.8L353.4 2118.8L353.9 2118.8L354.4 2118.8L354.9 2118.8L355.4 2118.8L355.9 2118.8L356.4 2118.8" fill="none" stroke="#111" stroke-width="0.9"/>
<line x1="228.4" y1="2118.8" x2="358.2" y2="2118.8" stroke="#111" stroke-width="1.1"/>
<line x1="228.4" y1="2001" x2="230" y2="2001" stroke="#777" stroke-width="0.6"/>
<line x1="228.4" y1="2030.2" x2="230" y2="2030.2" stroke="#777" stroke-width="0.6"/>
<line x1="228.4" y1="2059.3" x2="230" y2="2059.3" stroke="#777" stroke-width="0.6"/>
<line x1="228.4" y1="2088.4" x2="230" y2="2088.4" stroke="#777" stroke-width="0.6"/>
<line x1="228.4" y1="2117.6" x2="230" y2="2117.6" stroke="#777" stroke-width="0.6"/>
<text x="267.1" y="2000.3" font-size="5" fill="#333">&lt;2N: 8.75%</text>
<text x="267.1" y="2007.8" font-size="5" fill="#333">2N: 37.9%&#160;&#160;&#160;[&#956;: 224096, cv: 7.03%]</text>
<text x="267.1" y="2015.3" font-size="5" fill="#333">S: 26.7%</text>
<text x="267.1" y="2022.8" font-size="5" fill="#333">4N: 23.8%&#160;&#160;&#160;[&#956;: 4.19E5, cv: 7.78%]</text>
<text x="267.1" y="2030.3" font-size="5" fill="#333">Ratio: 1.87</text>
<text x="267.1" y="2040.1" font-size="5" fill="#333">&gt;4N: 2.85%</text>
<text x="230.4" y="2126.1" font-size="3.8" text-anchor="middle" fill="#555">0</text>
<text x="262.1" y="2126.1" font-size="3.8" text-anchor="middle" fill="#555">200K</text>
<text x="293.7" y="2126.1" font-size="3.8" text-anchor="middle" fill="#555">400K</text>
<text x="325.4" y="2126.1" font-size="3.8" text-anchor="middle" fill="#555">600K</text>
<text x="293.3" y="2132.1" font-size="3.8" text-anchor="middle" fill="#555">Comp-FL2-A :: PE-A</text>
<rect x="360.7" y="1988.5" width="130.5" height="130.2" fill="#fff" stroke="#9a9a9a" stroke-width="0.8"/>
<path d="M381.2 2117.9L381.2 2117.8L381.7 2117.8L382.2 2117.7L382.7 2117.5L383.2 2117.1L383.7 2116.4L384.2 2115.3L384.7 2113.6L385.2 2111L385.7 2107.2L386.2 2101.8L386.7 2094.7L387.2 2085.7L387.7 2074.8L388.2 2062.2L388.7 2048.7L389.2 2034.9L389.7 2022L390.2 2011.2L390.7 2003.4L391.2 1999.6L391.7 1999.1L392.2 2002.3L392.7 2009.4L393.2 2019.4L393.7 2031.2L393.7 2117.9Z" fill="#a9acf6"/>
<path d="M394.2 2117.9L394.2 2043.7L394.7 2055.9L395.2 2066.9L395.7 2077.1L396.2 2085.9L396.7 2092.7L397.2 2097.9L397.7 2101.6L398.2 2104.1L398.7 2105.8L399.2 2106.9L399.7 2107.6L400.2 2108L400.7 2108.3L401.2 2108.5L401.7 2108.6L402.2 2108.7L402.7 2108.7L403.2 2108.8L403.7 2108.8L404.2 2108.7L404.7 2108.7L405.2 2108.6L405.7 2108.4L406.2 2108.2L406.7 2107.8L407.2 2107.4L407.7 2106.8L408.2 2106L408.7 2105.1L409.2 2103.8L409.7 2102.3L410.2 2100.4L410.7 2098.2L411.2 2095.6L411.7 2092.6L412.2 2089.1L412.7 2085.3L413.2 2081.8L413.7 2078.2L414.2 2074.3L414.2 2117.9Z" fill="#6ff06f"/>
<path d="M414.7 2117.9L414.7 2070.5L415.2 2066.6L415.7 2063L416.2 2059.7L416.7 2056.9L417.2 2054.7L417.7 2053.3L418.2 2052.7L418.7 2053L419.2 2053.3L419.7 2054.3L420.2 2056.1L420.7 2058.6L421.2 2061.9L421.7 2065.6L422.2 2069.7L422.7 2074.1L423.2 2078.5L423.7 2082.9L424.2 2087.2L424.7 2091.1L425.2 2094.8L425.7 2098L426.2 2100.9L426.7 2103.3L427.2 2105.5L427.7 2107.4L428.2 2109L428.7 2110.3L429.2 2111.3L429.7 2112.1L430.2 2112.7L430.7 2113.1L431.2 2113.5L431.7 2113.7L432.2 2113.9L432.2 2117.9Z" fill="#f4a3a3"/>
<path d="M361.7 2117.9L362.2 2117.9L362.7 2117.9L363.2 2117.9L363.7 2117.9L364.2 2117.9L364.7 2117.9L365.2 2117.9L365.7 2117.9L366.2 2117.9L366.7 2117.9L367.2 2117.9L367.7 2117.9L368.2 2117.9L368.7 2117.9L369.2 2117.9L369.7 2117.9L370.2 2117.9L370.7 2117.9L371.2 2117.9L371.7 2117.9L372.2 2117.9L372.7 2117.9L373.2 2117.9L373.7 2117.9L374.2 2117.9L374.7 2117.9L375.2 2117.9L375.7 2117.9L376.2 2117.9L376.7 2117.9L377.2 2117.9L377.7 2117.9L378.2 2117.9L378.7 2117.9L379.2 2117.9L379.7 2117.9L380.2 2117.9L380.7 2117.9L381.2 2117.8L381.7 2117.8L382.2 2117.7L382.7 2117.5L383.2 2117.1L383.7 2116.4L384.2 2115.3L384.7 2113.6L385.2 2111L385.7 2107.2L386.2 2101.8L386.7 2094.7L387.2 2085.7L387.7 2074.8L388.2 2062.2L388.7 2048.7L389.2 2034.9L389.7 2022L390.2 2011.2L390.7 2003.4L391.2 1999.6L391.7 1999.1L392.2 2002.3L392.7 2009.4L393.2 2019.4L393.7 2031.2L394.2 2043.7L394.7 2055.9L395.2 2066.9L395.7 2077.1L396.2 2085.9L396.7 2092.7L397.2 2097.9L397.7 2101.6L398.2 2104.1L398.7 2105.8L399.2 2106.9L399.7 2107.6L400.2 2108L400.7 2108.3L401.2 2108.5L401.7 2108.6L402.2 2108.7L402.7 2108.7L403.2 2108.8L403.7 2108.8L404.2 2108.7L404.7 2108.7L405.2 2108.6L405.7 2108.4L406.2 2108.2L406.7 2107.8L407.2 2107.4L407.7 2106.8L408.2 2106L408.7 2105.1L409.2 2103.8L409.7 2102.3L410.2 2100.4L410.7 2098.2L411.2 2095.6L411.7 2092.6L412.2 2089.1L412.7 2085.3L413.2 2081.8L413.7 2078.2L414.2 2074.3L414.7 2070.5L415.2 2066.6L415.7 2063L416.2 2059.7L416.7 2056.9L417.2 2054.7L417.7 2053.3L418.2 2052.7L418.7 2053L419.2 2053.3L419.7 2054.3L420.2 2056.1L420.7 2058.6L421.2 2061.9L421.7 2065.6L422.2 2069.7L422.7 2074.1L423.2 2078.5L423.7 2082.9L424.2 2087.2L424.7 2091.1L425.2 2094.8L425.7 2098L426.2 2100.9L426.7 2103.3L427.2 2105.5L427.7 2107.4L428.2 2109L428.7 2110.3L429.2 2111.3L429.7 2112.1L430.2 2112.7L430.7 2113.1L431.2 2113.5L431.7 2113.7L432.2 2113.9L432.7 2114L433.2 2114.1L433.7 2114.2L434.2 2114.2L434.7 2114.2L435.2 2114.3L435.7 2114.3L436.2 2114.3L436.7 2114.3L437.2 2114.3L437.7 2114.3L438.2 2114.2L438.7 2114.2L439.2 2114.2L439.7 2114.1L440.2 2114.1L440.7 2114L441.2 2113.9L441.7 2113.8L442.2 2113.6L442.7 2113.5L443.2 2113.3L443.7 2113L444.2 2112.8L444.7 2112.5L445.2 2112.2L445.7 2111.8L446.2 2111.5L446.7 2111.2L447.2 2110.9L447.7 2110.6L448.2 2110.3L448.7 2110.1L449.2 2110L449.7 2109.9L450.2 2109.9L450.7 2110L451.2 2110.1L451.7 2110.3L452.2 2110.5L452.7 2110.8L453.2 2111.1L453.7 2111.4L454.2 2111.8L454.7 2112.1L455.2 2112.4L455.7 2112.7L456.2 2113L456.7 2113.2L457.2 2113.4L457.7 2113.6L458.2 2113.8L458.7 2113.9L459.2 2114L459.7 2114.1L460.2 2114.1L460.7 2114.2L461.2 2114.2L461.7 2114.2L462.2 2114.3L462.7 2114.3L463.2 2114.3L463.7 2114.3L464.2 2114.3L464.7 2114.3L465.2 2114.3L465.7 2114.3L466.2 2114.3L466.7 2114.3L467.2 2114.3L467.7 2114.3L468.2 2114.3L468.7 2114.3L469.2 2114.3L469.7 2114.3L470.2 2114.3L470.7 2114.3L471.2 2114.3L471.7 2114.3L472.2 2114.4L472.7 2114.7L473.2 2115L473.7 2115.3L474.2 2115.6L474.7 2115.9L475.2 2116.2L475.7 2116.5L476.2 2116.8L476.7 2117.1L477.2 2117.4L477.7 2117.7L478.2 2117.9L478.7 2117.9L479.2 2117.9L479.7 2117.9L480.2 2117.9L480.7 2117.9L481.2 2117.9L481.7 2117.9L482.2 2117.9L482.7 2117.9L483.2 2117.9L483.7 2117.9L484.2 2117.9L484.7 2117.9L485.2 2117.9L485.7 2117.9L486.2 2117.9L486.7 2117.9L487.2 2117.9L487.7 2117.9L488.2 2117.9L488.7 2117.9L489.2 2117.9L489.7 2117.9" fill="none" stroke="#111" stroke-width="0.9"/>
<line x1="360.7" y1="2117.9" x2="491.2" y2="2117.9" stroke="#111" stroke-width="1.1"/>
<line x1="360.7" y1="2000.5" x2="362.3" y2="2000.5" stroke="#777" stroke-width="0.6"/>
<line x1="360.7" y1="2029.5" x2="362.3" y2="2029.5" stroke="#777" stroke-width="0.6"/>
<line x1="360.7" y1="2058.6" x2="362.3" y2="2058.6" stroke="#777" stroke-width="0.6"/>
<line x1="360.7" y1="2087.6" x2="362.3" y2="2087.6" stroke="#777" stroke-width="0.6"/>
<line x1="360.7" y1="2116.7" x2="362.3" y2="2116.7" stroke="#777" stroke-width="0.6"/>
<text x="392.9" y="1999.8" font-size="5" fill="#333">&lt;2N: 7.29%</text>
<text x="392.9" y="2007.3" font-size="5" fill="#333">2N: 21.0%&#160;&#160;&#160;[&#956;: 223938, cv: 5.14%]</text>
<text x="392.9" y="2014.8" font-size="5" fill="#333">S: 21.5%</text>
<text x="392.9" y="2022.3" font-size="5" fill="#333">4N: 29.1%&#160;&#160;&#160;[&#956;: 4.26E5, cv: 8.03%]</text>
<text x="392.9" y="2029.8" font-size="5" fill="#333">Ratio: 1.90</text>
<text x="392.9" y="2039.6" font-size="5" fill="#333">&gt;4N: 21.1%</text>
<text x="362.7" y="2125.2" font-size="3.8" text-anchor="middle" fill="#555">0</text>
<text x="394.5" y="2125.2" font-size="3.8" text-anchor="middle" fill="#555">200K</text>
<text x="426.4" y="2125.2" font-size="3.8" text-anchor="middle" fill="#555">400K</text>
<text x="458.2" y="2125.2" font-size="3.8" text-anchor="middle" fill="#555">600K</text>
<text x="425.9" y="2131.2" font-size="3.8" text-anchor="middle" fill="#555">Comp-FL2-A :: PE-A</text>
<rect x="496.5" y="1988.5" width="130.2" height="130.2" fill="#fff" stroke="#9a9a9a" stroke-width="0.8"/>
<path d="M518 2117.9L518 2117.8L518.5 2117.8L519 2117.7L519.5 2117.4L520 2117.1L520.5 2116.4L521 2115.2L521.5 2113.5L522 2110.7L522.5 2106.8L523 2101.3L523.5 2093.9L524 2084.6L524.5 2073.3L525 2060.3L525.5 2046.3L526 2032.1L526.5 2018.7L527 2007.5L527.5 1999.5L528 1995.5L528.5 1995.2L529 1999L529.5 2006.7L530 2017.4L530.5 2030L530.5 2117.9Z" fill="#a9acf6"/>
<path d="M531 2117.9L531 2043.3L531.5 2056.3L532 2068L532.5 2078.6L533 2087.7L533.5 2094.8L534 2100L534.5 2103.8L535 2106.4L535.5 2108.1L536 2109.2L536.5 2109.9L537 2110.3L537.5 2110.6L538 2110.7L538.5 2110.8L539 2110.9L539.5 2110.9L540 2110.9L540.5 2110.9L541 2110.8L541.5 2110.7L542 2110.5L542.5 2110.3L543 2110L543.5 2109.6L544 2109L544.5 2108.3L545 2107.5L545.5 2106.4L546 2105.1L546.5 2103.5L547 2101.7L547.5 2099.4L548 2096.9L548.5 2093.9L549 2090.6L549.5 2086.9L550 2082.9L550.5 2078.5L551 2074L551.5 2069.8L552 2065.5L552 2117.9Z" fill="#6ff06f"/>
<path d="M552.5 2117.9L552.5 2061.2L553 2056.9L553.5 2053L554 2049.3L554.5 2046.1L555 2043.5L555.5 2041.6L556 2040.4L556.5 2040.1L557 2040.4L557.5 2040.7L558 2041.8L558.5 2043.7L559 2046.3L559.5 2049.5L560 2053.2L560.5 2057.4L561 2061.8L561.5 2066.3L562 2071L562.5 2075.5L563 2079.9L563.5 2084.1L564 2088L564.5 2091.5L565 2094.7L565.5 2097.8L566 2100.5L566.5 2102.9L567 2104.9L567.5 2106.6L568 2108L568.5 2109.2L569 2110.1L569.5 2110.9L570 2111.5L570.5 2111.9L571 2112.3L571.5 2112.5L572 2112.7L572 2117.9Z" fill="#f4a3a3"/>
<path d="M497.5 2117.9L498 2117.9L498.5 2117.9L499 2117.9L499.5 2117.9L500 2117.9L500.5 2117.9L501 2117.9L501.5 2117.9L502 2117.9L502.5 2117.9L503 2117.9L503.5 2117.9L504 2117.9L504.5 2117.9L505 2117.9L505.5 2117.9L506 2117.9L506.5 2117.9L507 2117.9L507.5 2117.9L508 2117.9L508.5 2117.9L509 2117.9L509.5 2117.9L510 2117.9L510.5 2117.9L511 2117.9L511.5 2117.9L512 2117.9L512.5 2117.9L513 2117.9L513.5 2117.9L514 2117.9L514.5 2117.9L515 2117.9L515.5 2117.9L516 2117.9L516.5 2117.9L517 2117.9L517.5 2117.9L518 2117.8L518.5 2117.8L519 2117.7L519.5 2117.4L520 2117.1L520.5 2116.4L521 2115.2L521.5 2113.5L522 2110.7L522.5 2106.8L523 2101.3L523.5 2093.9L524 2084.6L524.5 2073.3L525 2060.3L525.5 2046.3L526 2032.1L526.5 2018.7L527 2007.5L527.5 1999.5L528 1995.5L528.5 1995.2L529 1999L529.5 2006.7L530 2017.4L530.5 2030L531 2043.3L531.5 2056.3L532 2068L532.5 2078.6L533 2087.7L533.5 2094.8L534 2100L534.5 2103.8L535 2106.4L535.5 2108.1L536 2109.2L536.5 2109.9L537 2110.3L537.5 2110.6L538 2110.7L538.5 2110.8L539 2110.9L539.5 2110.9L540 2110.9L540.5 2110.9L541 2110.8L541.5 2110.7L542 2110.5L542.5 2110.3L543 2110L543.5 2109.6L544 2109L544.5 2108.3L545 2107.5L545.5 2106.4L546 2105.1L546.5 2103.5L547 2101.7L547.5 2099.4L548 2096.9L548.5 2093.9L549 2090.6L549.5 2086.9L550 2082.9L550.5 2078.5L551 2074L551.5 2069.8L552 2065.5L552.5 2061.2L553 2056.9L553.5 2053L554 2049.3L554.5 2046.1L555 2043.5L555.5 2041.6L556 2040.4L556.5 2040.1L557 2040.4L557.5 2040.7L558 2041.8L558.5 2043.7L559 2046.3L559.5 2049.5L560 2053.2L560.5 2057.4L561 2061.8L561.5 2066.3L562 2071L562.5 2075.5L563 2079.9L563.5 2084.1L564 2088L564.5 2091.5L565 2094.7L565.5 2097.8L566 2100.5L566.5 2102.9L567 2104.9L567.5 2106.6L568 2108L568.5 2109.2L569 2110.1L569.5 2110.9L570 2111.5L570.5 2111.9L571 2112.3L571.5 2112.5L572 2112.7L572.5 2112.8L573 2112.9L573.5 2112.9L574 2112.9L574.5 2112.9L575 2112.8L575.5 2112.7L576 2112.6L576.5 2112.5L577 2112.4L577.5 2112.2L578 2112L578.5 2111.8L579 2111.6L579.5 2111.4L580 2111.1L580.5 2110.9L581 2110.6L581.5 2110.3L582 2110.1L582.5 2109.8L583 2109.5L583.5 2109.2L584 2109L584.5 2108.8L585 2108.5L585.5 2108.4L586 2108.2L586.5 2108.1L587 2108L587.5 2107.9L588 2107.9L588.5 2107.9L589 2108L589.5 2108.1L590 2108.2L590.5 2108.4L591 2108.5L591.5 2108.8L592 2109L592.5 2109.2L593 2109.5L593.5 2109.8L594 2110.1L594.5 2110.3L595 2110.6L595.5 2110.9L596 2111.1L596.5 2111.4L597 2111.6L597.5 2111.8L598 2112L598.5 2112.2L599 2112.4L599.5 2112.5L600 2112.7L600.5 2112.8L601 2112.9L601.5 2113L602 2113L602.5 2113.1L603 2113.2L603.5 2113.2L604 2113.2L604.5 2113.3L605 2113.3L605.5 2113.3L606 2113.3L606.5 2113.7L607 2114.1L607.5 2114.5L608 2114.9L608.5 2115.3L609 2115.6L609.5 2116L610 2116.4L610.5 2116.8L611 2117.1L611.5 2117.5L612 2117.9L612.5 2117.9L613 2117.9L613.5 2117.9L614 2117.9L614.5 2117.9L615 2117.9L615.5 2117.9L616 2117.9L616.5 2117.9L617 2117.9L617.5 2117.9L618 2117.9L618.5 2117.9L619 2117.9L619.5 2117.9L620 2117.9L620.5 2117.9L621 2117.9L621.5 2117.9L622 2117.9L622.5 2117.9L623 2117.9L623.5 2117.9L624 2117.9L624.5 2117.9L625 2117.9" fill="none" stroke="#111" stroke-width="0.9"/>
<line x1="496.5" y1="2117.9" x2="626.7" y2="2117.9" stroke="#111" stroke-width="1.1"/>
<line x1="496.5" y1="2000.5" x2="498.1" y2="2000.5" stroke="#777" stroke-width="0.6"/>
<line x1="496.5" y1="2029.5" x2="498.1" y2="2029.5" stroke="#777" stroke-width="0.6"/>
<line x1="496.5" y1="2058.6" x2="498.1" y2="2058.6" stroke="#777" stroke-width="0.6"/>
<line x1="496.5" y1="2087.6" x2="498.1" y2="2087.6" stroke="#777" stroke-width="0.6"/>
<line x1="496.5" y1="2116.7" x2="498.1" y2="2116.7" stroke="#777" stroke-width="0.6"/>
<text x="529.7" y="1999.8" font-size="5" fill="#333">&lt;2N: 4.39%</text>
<text x="529.7" y="2007.3" font-size="5" fill="#333">2N: 25.9%&#160;&#160;&#160;[&#956;: 234031, cv: 7.88%]</text>
<text x="529.7" y="2014.8" font-size="5" fill="#333">S: 11.1%</text>
<text x="529.7" y="2022.3" font-size="5" fill="#333">4N: 38.3%&#160;&#160;&#160;[&#956;: 4.42E5, cv: 10.5%]</text>
<text x="529.7" y="2029.8" font-size="5" fill="#333">Ratio: 1.89</text>
<text x="529.7" y="2039.6" font-size="5" fill="#333">&gt;4N: 20.3%</text>
<text x="498.5" y="2125.2" font-size="3.8" text-anchor="middle" fill="#555">0</text>
<text x="530.3" y="2125.2" font-size="3.8" text-anchor="middle" fill="#555">200K</text>
<text x="562" y="2125.2" font-size="3.8" text-anchor="middle" fill="#555">400K</text>
<text x="593.8" y="2125.2" font-size="3.8" text-anchor="middle" fill="#555">600K</text>
<text x="561.6" y="2131.2" font-size="3.8" text-anchor="middle" fill="#555">Comp-FL2-A :: PE-A</text>
<text x="48.6" y="2210.7" font-size="25" stroke="#000" stroke-width="0.3">h</text>
<g clip-path="url(#bc1305)">
<rect x="116.2" y="2215" width="312" height="60" fill="#f4f4f4"/>
<rect x="127" y="2231.5" width="70" height="25" rx="12.5" fill="#000" fill-opacity="0.3" filter="url(#bl6)"/>
<rect x="132" y="2237.5" width="60" height="13" rx="6.5" fill="#000" fill-opacity="1" filter="url(#bl2.5)"/>
<rect x="270.7" y="2232" width="71.6" height="25" rx="12.5" fill="#000" fill-opacity="0.3" filter="url(#bl6)"/>
<rect x="275.7" y="2238" width="61.6" height="13" rx="6.5" fill="#000" fill-opacity="1" filter="url(#bl2.5)"/>
<rect x="349.6" y="2236.7" width="64.4" height="18" rx="9" fill="#000" fill-opacity="0.2" filter="url(#bl6)"/>
<rect x="354.6" y="2242.7" width="54.4" height="6" rx="3" fill="#000" fill-opacity="0.8" filter="url(#bl2)"/>
</g>
<rect x="116.2" y="2215" width="312" height="60" fill="none" stroke="#000" stroke-width="2.2"/>
<g clip-path="url(#bc1315)">
<rect x="437.8" y="2215" width="312.2" height="60" fill="#f6f6f6"/>
<rect x="445" y="2233" width="70.5" height="24" rx="12" fill="#000" fill-opacity="0.3" filter="url(#bl6)"/>
<rect x="450" y="2239" width="60.5" height="12" rx="6" fill="#000" fill-opacity="1" filter="url(#bl2.5)"/>
<rect x="525" y="2237.5" width="70" height="17" rx="8.5" fill="#000" fill-opacity="0.1" filter="url(#bl6)"/>
<rect x="530" y="2243.5" width="60" height="5" rx="2.5" fill="#000" fill-opacity="0.6" filter="url(#bl2)"/>
<rect x="600.2" y="2227" width="77.2" height="32" rx="16" fill="#000" fill-opacity="0.4" filter="url(#bl6)"/>
<rect x="605.2" y="2233" width="67.2" height="20" rx="8" fill="#000" fill-opacity="1" filter="url(#bl3)"/>
<rect x="681.8" y="2237" width="62.2" height="18" rx="9" fill="#000" fill-opacity="0.1" filter="url(#bl6)"/>
<rect x="686.8" y="2243" width="52.2" height="6" rx="3" fill="#000" fill-opacity="0.7" filter="url(#bl2)"/>
</g>
<rect x="437.8" y="2215" width="312.2" height="60" fill="none" stroke="#000" stroke-width="2.2"/>
<g clip-path="url(#bc1327)">
<rect x="116.2" y="2285" width="312" height="60.5" fill="#f1f1f1"/>
<rect x="130.6" y="2302" width="73.4" height="24" rx="12" fill="#000" fill-opacity="0.3" filter="url(#bl6)"/>
<rect x="135.6" y="2308" width="63.4" height="12" rx="6" fill="#000" fill-opacity="1" filter="url(#bl2.5)"/>
<rect x="216.2" y="2306.5" width="64.5" height="17" rx="8.5" fill="#000" fill-opacity="0.1" filter="url(#bl6)"/>
<rect x="221.2" y="2312.5" width="54.5" height="5" rx="2.5" fill="#000" fill-opacity="0.7" filter="url(#bl2)"/>
<rect x="282.9" y="2299.5" width="67.8" height="30" rx="15" fill="#000" fill-opacity="0.4" filter="url(#bl6)"/>
<rect x="287.9" y="2305.5" width="57.8" height="18" rx="8" fill="#000" fill-opacity="1" filter="url(#bl3)"/>
<rect x="354" y="2305" width="66.8" height="18" rx="9" fill="#000" fill-opacity="0.2" filter="url(#bl6)"/>
<rect x="359" y="2311" width="56.8" height="6" rx="3" fill="#000" fill-opacity="0.8" filter="url(#bl2)"/>
</g>
<rect x="116.2" y="2285" width="312" height="60.5" fill="none" stroke="#000" stroke-width="2.2"/>
<g clip-path="url(#bc1339)">
<rect x="437.8" y="2285" width="312.2" height="60.5" fill="#eeeeee"/>
<rect x="444.6" y="2304" width="69.4" height="25" rx="12.5" fill="#000" fill-opacity="0.3" filter="url(#bl6)"/>
<rect x="449.6" y="2310" width="59.4" height="13" rx="6.5" fill="#000" fill-opacity="1" filter="url(#bl2.5)"/>
<rect x="522.8" y="2305.5" width="62.3" height="20" rx="10" fill="#000" fill-opacity="0.2" filter="url(#bl6)"/>
<rect x="527.8" y="2311.5" width="52.3" height="8" rx="4" fill="#000" fill-opacity="0.8" filter="url(#bl2.5)"/>
<rect x="595.1" y="2303.5" width="65.6" height="25" rx="12.5" fill="#000" fill-opacity="0.3" filter="url(#bl6)"/>
<rect x="600.1" y="2309.5" width="55.6" height="13" rx="6.5" fill="#000" fill-opacity="1" filter="url(#bl2.5)"/>
<rect x="667.4" y="2305.5" width="67.8" height="22" rx="11" fill="#000" fill-opacity="0.2" filter="url(#bl6)"/>
<rect x="672.4" y="2311.5" width="57.8" height="10" rx="5" fill="#000" fill-opacity="0.9" filter="url(#bl2.5)"/>
</g>
<rect x="437.8" y="2285" width="312.2" height="60.5" fill="none" stroke="#000" stroke-width="2.2"/>
<g clip-path="url(#bc1351)">
<rect x="116.2" y="2355.5" width="312" height="59.8" fill="#e6e6e6"/>
<rect x="120" y="2370" width="300" height="42" fill="#000" fill-opacity="0.14" filter="url(#bl6)"/>
<path d="M345 2388 Q385 2381 411 2379 L411 2399 Q385 2400 345 2396Z" fill="#000" fill-opacity="0.95" filter="url(#bl2)"/>
<rect x="372" y="2362" width="44" height="44" rx="15" fill="#000" fill-opacity="0.22" filter="url(#bl6)"/>
<rect x="119.5" y="2378.7" width="75.5" height="24" rx="12" fill="#000" fill-opacity="0.5" filter="url(#bl6)"/>
<rect x="124.5" y="2384.7" width="65.5" height="12" rx="6" fill="#000" fill-opacity="1" filter="url(#bl2.5)"/>
<rect x="191.7" y="2378.7" width="73.4" height="24" rx="12" fill="#000" fill-opacity="0.5" filter="url(#bl6)"/>
<rect x="196.7" y="2384.7" width="63.4" height="12" rx="6" fill="#000" fill-opacity="1" filter="url(#bl2.5)"/>
<rect x="261.8" y="2378.7" width="72.2" height="24" rx="12" fill="#000" fill-opacity="0.5" filter="url(#bl6)"/>
<rect x="266.8" y="2384.7" width="62.2" height="12" rx="6" fill="#000" fill-opacity="1" filter="url(#bl2.5)"/>
<rect x="330.7" y="2375.5" width="87.8" height="28" rx="14" fill="#000" fill-opacity="0.6" filter="url(#bl6)"/>
<rect x="335.7" y="2381.5" width="77.8" height="16" rx="8" fill="#000" fill-opacity="1" filter="url(#bl3)"/>
</g>
<rect x="116.2" y="2355.5" width="312" height="59.8" fill="none" stroke="#000" stroke-width="2.2"/>
<g clip-path="url(#bc1366)">
<rect x="437.8" y="2355.5" width="312.2" height="59.8" fill="#ececec"/>
<rect x="440" y="2376" width="305" height="32" fill="#000" fill-opacity="0.12" filter="url(#bl6)"/>
<rect x="438.8" y="2376.1" width="69.6" height="27" rx="13.5" fill="#000" fill-opacity="0.5" filter="url(#bl6)"/>
<rect x="443.8" y="2382.1" width="59.6" height="15" rx="7.5" fill="#000" fill-opacity="1" filter="url(#bl2.5)"/>
<rect x="512.2" y="2376" width="78.5" height="28" rx="14" fill="#000" fill-opacity="0.5" filter="url(#bl6)"/>
<rect x="517.2" y="2382" width="68.5" height="16" rx="8" fill="#000" fill-opacity="1" filter="url(#bl2.5)"/>
<rect x="592.2" y="2376.1" width="75.2" height="27" rx="13.5" fill="#000" fill-opacity="0.5" filter="url(#bl6)"/>
<rect x="597.2" y="2382.1" width="65.2" height="15" rx="7.5" fill="#000" fill-opacity="1" filter="url(#bl2.5)"/>
<rect x="667.4" y="2376.1" width="76.7" height="27" rx="13.5" fill="#000" fill-opacity="0.5" filter="url(#bl6)"/>
<rect x="672.4" y="2382.1" width="66.7" height="15" rx="7.5" fill="#000" fill-opacity="1" filter="url(#bl2.5)"/>
</g>
<rect x="437.8" y="2355.5" width="312.2" height="59.8" fill="none" stroke="#000" stroke-width="2.2"/>
<text x="113.7" y="2249.1" font-size="21.5" text-anchor="end" stroke="#000" stroke-width="0.3">CyclinB</text>
<text x="52.7" y="2277.3" font-size="21" stroke="#000" stroke-width="0.3">50k<tspan dx="1">d</tspan></text>
<text x="113.7" y="2310.6" font-size="21.5" text-anchor="end" stroke="#000" stroke-width="0.3">CyclinD</text>
<text x="52.7" y="2341.3" font-size="21" stroke="#000" stroke-width="0.3">32kd</text>
<text x="113.7" y="2379.7" font-size="21.3" text-anchor="end" stroke="#000" stroke-width="0.3">&#946;-tubulin</text>
<text x="52.7" y="2410.4" font-size="21" stroke="#000" stroke-width="0.3">55kd</text>
<text x="38.4" y="2438.6" font-size="20" stroke="#000" stroke-width="0.3">NC</text>
<text x="38.4" y="2464.2" font-size="20" stroke="#000" stroke-width="0.3">siR-FAM64A</text>
<text x="38.4" y="2487.2" font-size="20" stroke="#000" stroke-width="0.3">DHT(10nM)</text>
<text x="157.2" y="2438.6" font-size="19" text-anchor="middle" stroke="#000" stroke-width="0.3">+</text>
<text x="221.2" y="2438.6" font-size="19" text-anchor="middle" stroke="#000" stroke-width="0.3">-</text>
<text x="284.2" y="2438.6" font-size="19" text-anchor="middle" stroke="#000" stroke-width="0.3">+</text>
<text x="348.2" y="2438.6" font-size="19" text-anchor="middle" stroke="#000" stroke-width="0.3">-</text>
<text x="444" y="2438.6" font-size="19" text-anchor="middle" stroke="#000" stroke-width="0.3">+</text>
<text x="508.4" y="2438.6" font-size="19" text-anchor="middle" stroke="#000" stroke-width="0.3">-</text>
<text x="581.2" y="2438.6" font-size="19" text-anchor="middle" stroke="#000" stroke-width="0.3">+</text>
<text x="651.3" y="2438.6" font-size="19" text-anchor="middle" stroke="#000" stroke-width="0.3">-</text>
<text x="157.2" y="2464.2" font-size="19" text-anchor="middle" stroke="#000" stroke-width="0.3">-</text>
<text x="221.2" y="2464.2" font-size="19" text-anchor="middle" stroke="#000" stroke-width="0.3">+</text>
<text x="284.2" y="2464.2" font-size="19" text-anchor="middle" stroke="#000" stroke-width="0.3">-</text>
<text x="348.2" y="2464.2" font-size="19" text-anchor="middle" stroke="#000" stroke-width="0.3">+</text>
<text x="444" y="2464.2" font-size="19" text-anchor="middle" stroke="#000" stroke-width="0.3">-</text>
<text x="508.4" y="2464.2" font-size="19" text-anchor="middle" stroke="#000" stroke-width="0.3">+</text>
<text x="581.2" y="2464.2" font-size="19" text-anchor="middle" stroke="#000" stroke-width="0.3">-</text>
<text x="651.3" y="2464.2" font-size="19" text-anchor="middle" stroke="#000" stroke-width="0.3">+</text>
<text x="157.2" y="2487.2" font-size="19" text-anchor="middle" stroke="#000" stroke-width="0.3">-</text>
<text x="221.2" y="2487.2" font-size="19" text-anchor="middle" stroke="#000" stroke-width="0.3">-</text>
<text x="284.2" y="2487.2" font-size="19" text-anchor="middle" stroke="#000" stroke-width="0.3">+</text>
<text x="348.2" y="2487.2" font-size="19" text-anchor="middle" stroke="#000" stroke-width="0.3">+</text>
<text x="444" y="2487.2" font-size="19" text-anchor="middle" stroke="#000" stroke-width="0.3">-</text>
<text x="508.4" y="2487.2" font-size="19" text-anchor="middle" stroke="#000" stroke-width="0.3">-</text>
<text x="581.2" y="2487.2" font-size="19" text-anchor="middle" stroke="#000" stroke-width="0.3">+</text>
<text x="651.3" y="2487.2" font-size="19" text-anchor="middle" stroke="#000" stroke-width="0.3">+</text>
</svg>
</body></html>
